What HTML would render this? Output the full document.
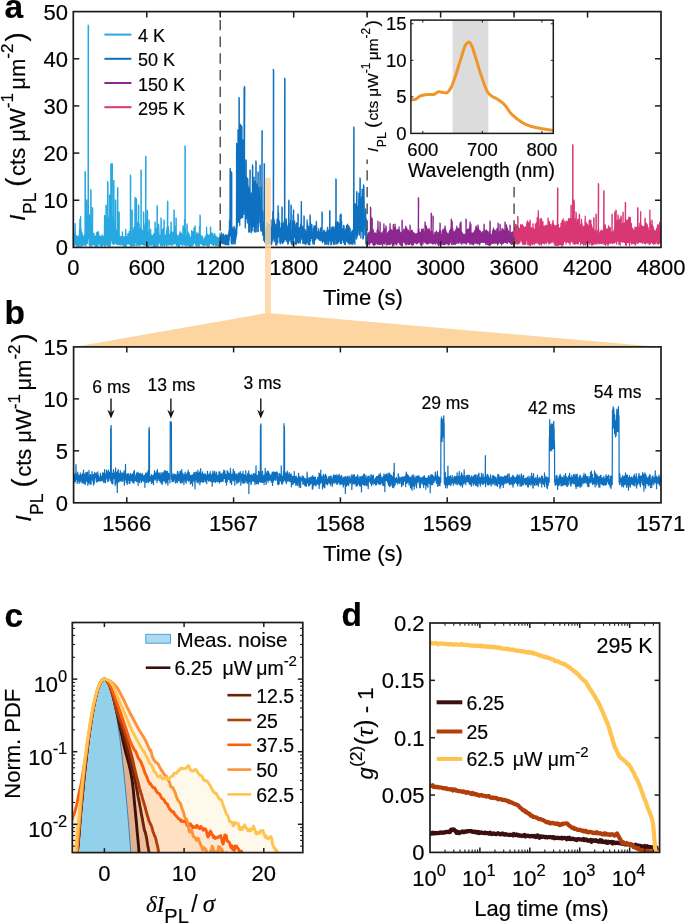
<!DOCTYPE html>
<html><head><meta charset="utf-8"><style>
html,body{margin:0;padding:0;background:#fff;width:685px;height:923px;overflow:hidden}
svg{display:block;will-change:transform}
text{stroke:#000;stroke-width:0.18px}
</style></head><body>
<svg width="685" height="923" viewBox="0 0 685 923" font-family="'Liberation Sans', sans-serif" fill="#000">
<defs>
<clipPath id="clipA"><rect x="73.3" y="11.6" width="587.7" height="235.8"/></clipPath>
<clipPath id="clipI"><rect x="410.9" y="20.1" width="142.4" height="113.3"/></clipPath>
<clipPath id="clipC"><rect x="72.3" y="622.5" width="230.5" height="230.1"/></clipPath>
<clipPath id="clipD"><rect x="430.0" y="623.0" width="229.6" height="229.4"/></clipPath>
</defs>
<rect x="0" y="0" width="685" height="923" fill="#fff"/>
<g clip-path="url(#clipA)">
<polyline points="73.8,244.86 74.02,235.95 74.24,246.12 74.46,234.03 74.68,244.43 74.9,234.68 75.12,223.63 75.34,235.85 75.56,244.63 75.78,236.28 76,244.15 76.22,237.18 76.44,245.15 76.66,235.69 76.88,245.87 77.1,236.93 77.32,246.13 77.54,236.73 77.76,243.88 77.98,236.19 78.2,243.76 78.42,237.43 78.64,246.04 78.86,236.79 79.08,247.48 79.3,238.04 79.52,229.23 79.75,234.88 79.9,219.4 80.15,220.9 79.97,244.72 80.19,232.01 80.41,244.23 80.63,216.72 80.85,246.22 81.07,229.26 81.29,243.58 81.51,232.4 81.73,246.02 81.95,232.72 82.17,242.91 82.39,234.58 82.61,244.61 82.83,236.57 83.05,245.16 83.27,237.17 83.49,245.21 83.71,237.47 83.93,243.59 84.15,235.05 84.37,244.86 84.59,236.38 84.81,245.15 85.03,235.19 85.1,171.3 85.35,172.8 85.25,244.55 85.47,233.88 85.69,244.04 85.91,231.66 86.13,245.46 86.35,227.82 86.5,200 86.75,201.5 86.57,243.52 86.79,226.56 87.01,221.31 87.23,214.26 87.45,243.4 87.67,218.33 87.89,215.57 88.11,222.9 88.2,25.1 88.45,26.6 88.33,202.68 88.55,218.89 88.77,238.81 88.99,217.42 89.21,244.85 89.3,215 89.55,216.5 89.43,221.13 89.65,245.64 89.87,223.17 90.09,240.69 90.31,224.75 90.53,245.52 90.75,226.88 90.8,189.5 91.05,191 90.97,243.88 91.19,229.7 91.42,246.05 91.64,226.08 91.86,245.72 92.08,234.36 92.3,244.7 92.4,207.7 92.65,209.2 92.52,234.95 92.74,243.72 92.96,236.89 93.18,243.2 93.4,234.4 93.62,244.64 93.84,233.06 94.06,244.14 94.28,236.6 94.5,244.89 94.72,236.24 94.94,245 95.16,237.61 95.38,244.35 95.6,235.79 95.82,247.01 96.04,235.71 96.26,247.12 96.48,232.86 96.7,245.73 96.92,234.12 97.14,245.94 97.36,231.98 97.58,246 97.8,236.45 98.02,245.86 98.24,235.55 98.46,231.85 98.68,234 98.9,243.3 99.12,237.19 99.34,243.6 99.56,236.11 99.78,244.45 100,237.69 100.22,245.46 100.44,236.25 100.66,246 100.88,237.13 101.1,244.68 101.32,236.61 101.54,245.38 101.76,236.31 101.98,246.28 102.2,234.91 102.42,243.98 102.64,236.45 102.86,245.24 103.08,236.94 103.31,243.62 103.53,236.35 103.75,244.5 103.97,236.89 104.19,244.93 104.41,236.46 104.6,215.5 104.85,217 104.63,246.12 104.85,233.46 105.07,245.55 105.29,232.65 105.51,244.39 105.73,230.54 105.95,244.85 106,205 106.25,206.5 106.17,218.69 106.39,245.21 106.61,224.49 106.83,242.73 107.05,224.43 107.27,244.82 107.49,226.71 107.7,181.7 107.95,183.2 107.71,245.34 107.93,219.46 108.15,241.81 108.37,222.28 108.59,246.11 108.81,218.05 109.03,240.36 109.25,216.94 109.47,246.09 109.5,195 109.75,196.5 109.69,214.28 109.91,245.36 110.13,213.56 110.35,245.46 110.57,212.46 110.79,240.83 110.8,164 111.05,165.5 111.01,210.68 111.23,236.64 111.45,218.1 111.67,237.74 111.89,217.32 112.1,163.5 112.35,165 112.11,243.37 112.33,219.94 112.55,240.15 112.77,216.92 112.99,244.08 113.21,222.56 113.43,241.98 113.65,222.7 113.7,180.4 113.95,181.9 113.87,244.44 114.09,224.55 114.31,241.68 114.53,221.2 114.75,243.56 114.98,224.16 115.2,243.31 115.42,210.89 115.5,200 115.75,201.5 115.64,241.9 115.86,230.43 116.08,242.09 116.3,230.05 116.52,243.87 116.74,230.89 116.96,244.25 117.18,233.49 117.4,243.3 117.6,187.7 117.85,189.2 117.62,234.83 117.84,220.33 118.06,234.35 118.28,244.97 118.5,233.59 118.72,243.94 118.94,235.06 119,212 119.25,213.5 119.16,243.71 119.38,235.93 119.6,244.51 119.82,237.93 120.04,243.49 120.26,236.62 120.48,243.71 120.7,238.03 120.92,244.98 121.14,236.39 121.36,244.59 121.58,238.19 121.8,244.52 122.02,237.3 122.24,244.62 122.46,231.98 122.68,244.83 122.9,237.29 123.12,243.92 123.34,236.68 123.56,245.79 123.78,237.04 124,246.12 124.22,239.13 124.44,244.57 124.66,238.77 124.88,244.69 125.1,236.46 125.32,246.56 125.54,237.43 125.76,229.36 125.98,237.25 126.2,245.94 126.42,236.42 126.65,244.2 126.87,236.61 127.09,243.83 127.31,238.11 127.53,243.81 127.75,236.23 127.97,233.7 128.19,236.17 128.41,243.87 128.63,235.23 128.85,243.43 129.07,236.81 129.29,231.35 129.51,237.54 129.73,244.42 129.95,235.65 130.17,244.55 130.39,236.73 130.4,175.2 130.65,176.7 130.61,245.87 130.83,236.69 131.05,246.25 131.27,237.09 131.49,245.01 131.71,236.1 131.93,245.38 132,210 132.25,211.5 132.15,235.61 132.37,245.37 132.59,234.1 132.81,243.66 133.03,231.63 133.25,245.53 133.47,230.56 133.69,229.52 133.91,227.55 134.13,245.74 134.35,228.68 134.57,241.66 134.79,230.33 135,197.3 135.25,198.8 135.01,245.47 135.23,227.83 135.45,242.33 135.67,227.44 135.89,242.25 136.11,225.72 136.3,198.6 136.55,200.1 136.33,240.83 136.55,224.35 136.77,245.83 136.99,228.34 137.21,244.88 137.43,223.44 137.65,241.36 137.87,222.13 138.09,244.7 138.32,225.82 138.5,205 138.75,206.5 138.54,245 138.76,225.76 138.98,244.79 139.2,223.69 139.42,245.3 139.64,228.34 139.86,245.33 140.08,230.21 140.3,244.66 140.52,230.71 140.74,243.77 140.96,228.39 141,170 141.25,171.5 141.18,242.69 141.4,228.06 141.62,244.35 141.84,230.32 142.06,241.96 142.28,230.53 142.5,244.64 142.72,232.65 142.94,242.24 143.16,231.84 143.38,244.82 143.5,212 143.75,213.5 143.6,235.83 143.82,243.33 144.04,223.54 144.26,245.33 144.48,233.93 144.7,245.22 144.92,227.56 145.14,242.26 145.36,226.18 145.58,242.81 145.7,156.2 145.95,157.7 145.8,221.87 146.02,245.09 146.24,221.63 146.46,242.52 146.68,226.19 146.9,246.02 147.12,230.2 147.3,210.3 147.55,211.8 147.34,244.8 147.56,231.34 147.78,245.68 148,231.89 148.22,246.03 148.44,235.93 148.66,246.18 148.88,235.77 149,220 149.25,221.5 149.1,243.93 149.32,237.81 149.54,235.2 149.76,232.75 149.99,244.97 150.21,232 150.43,244 150.65,229.18 150.87,245.14 151.09,235.19 151.31,245.17 151.53,235.08 151.75,245.2 151.97,237.14 152.19,243.27 152.41,235.85 152.63,243.83 152.85,235.37 153.07,244.66 153.29,235.51 153.51,246.27 153.73,234.09 153.95,244.67 154.17,233.42 154.39,246.39 154.61,234.08 154.83,246.43 155,222 155.25,223.5 155.05,233.36 155.27,244.4 155.49,235.14 155.71,244.08 155.93,234.08 156.15,246.08 156.37,228.29 156.59,245.81 156.81,231.67 157.03,243.72 157.1,205.6 157.35,207.1 157.25,229.56 157.47,244.53 157.69,230.78 157.91,246.01 158.13,226.51 158.35,243.93 158.57,224.26 158.79,226.96 159.01,233.89 159.23,242.16 159.45,235.59 159.67,242.67 159.89,235.27 160.11,244.12 160.33,236.27 160.55,245.65 160.77,234.92 160.99,245.62 161,218 161.25,219.5 161.21,238.95 161.43,244.87 161.66,235.87 161.88,244.53 162.1,235.61 162.32,245.48 162.54,229.84 162.76,245.15 162.98,228.57 163.2,244.21 163.42,235.8 163.64,244.89 163.86,237.71 164,220 164.25,221.5 164.08,245.9 164.3,235.5 164.52,245.83 164.74,236.31 164.96,244.03 165.18,237.78 165.4,243.92 165.62,235.05 165.84,244.14 166.06,234.12 166.28,245.11 166.5,230.8 166.72,246.02 166.94,227.42 167.16,243.11 167.38,224.88 167.6,201.2 167.85,202.7 167.6,240.34 167.82,228.78 168.04,245.02 168.26,226.31 168.48,242.32 168.7,229.77 168.92,242.67 169.14,235.44 169.36,244.97 169.58,234.96 169.8,244.87 170.02,236.85 170.24,244.41 170.46,235.64 170.68,232.47 170.9,236.23 171,222 171.25,223.5 171.12,244.06 171.34,235.53 171.56,231.71 171.78,233.56 172,245.61 172.22,231.96 172.44,245.35 172.66,233.35 172.88,243.31 173.1,235.57 173.32,243.92 173.55,232.49 173.77,242.25 173.99,229.94 174,209.8 174.25,211.3 174.21,244.07 174.43,225.04 174.65,243.87 174.87,226.74 175.09,243.57 175.31,229.81 175.53,242.69 175.75,234.63 175.97,243.4 176,218 176.25,219.5 176.19,227.9 176.41,245.45 176.63,234.18 176.85,244.77 177.07,236.97 177.29,245.72 177.51,235.55 177.73,243.29 177.95,237.03 178.17,245.62 178.39,236.75 178.61,246.08 178.83,235.88 179.05,246.63 179.27,234.5 179.49,246.26 179.71,233.13 179.93,243.7 180.15,231.68 180.37,244.25 180.59,232.79 180.81,243.05 181.03,235.57 181.25,243.39 181.47,233.36 181.69,244.49 181.91,234.44 182.13,244.45 182.35,237.14 182.57,245.57 182.79,235.78 183,226 183.25,227.5 183.01,234.81 183.23,235.92 183.45,243.83 183.67,238.14 183.89,244.13 184.11,235.9 184.33,245.02 184.55,219.18 184.77,241.81 184.99,228.96 185,145.8 185.25,147.3 185.22,244.6 185.44,228.41 185.66,245.36 185.88,234.89 186.1,245.86 186.32,238.27 186.54,244.16 186.76,235.76 186.98,245.13 187,224 187.25,225.5 187.2,236.43 187.42,244.55 187.64,234.01 187.86,245.22 188.08,232.12 188.3,243.07 188.52,233.66 188.74,244.52 188.96,233.66 189.18,245.59 189.4,235.17 189.62,246.4 189.84,237.12 190.06,246.12 190.28,237.55 190.5,246.64 190.72,238.44 190.94,245.71 191.16,236.74 191.38,244.36 191.6,230.57 191.82,244.73 192.04,232.47 192.26,245.88 192.48,235.49 192.7,242.71 192.92,231.77 193.14,245.21 193.36,233.13 193.58,243.59 193.8,233.55 194.02,227.93 194.24,236.62 194.46,243.3 194.68,232.15 194.9,242.53 195,226 195.25,227.5 195.12,234.19 195.34,243.11 195.56,234.86 195.78,245.28 196,236.59 196.22,245.33 196.44,234.35 196.66,244.17 196.89,232.35 197.11,245.9 197.33,233.7 197.55,244.17 197.77,236.12 197.99,243.86 198.21,234.48 198.43,245.37 198.65,233.66 198.87,246.19 199.09,235.63 199.31,245.24 199.53,225.91 199.75,243.25 199.97,231.05 200,215 200.25,216.5 200.19,243.54 200.41,233.78 200.63,242.76 200.85,235.91 201.07,244.09 201.29,238.34 201.51,243.87 201.73,237.4 201.95,243.41 202.17,235.82 202.39,244.8 202.61,237.19 202.83,244.12 203.05,239.53 203.27,245.72 203.49,240.17 203.71,244.43 203.93,241.02 204.15,245.23 204.37,238.47 204.59,245.03 204.81,238.85 205.03,243.9 205.25,236.68 205.47,244.7 205.69,235.92 205.91,243.76 206.13,235.64 206.35,245.46 206.57,227.05 206.79,243.28 207.01,233.68 207.23,245.03 207.45,235.26 207.67,243.77 207.89,235.27 208.11,246.45 208.33,235.69 208.56,244.65 208.78,236.63 209,242.84 209.22,234.79 209.44,245.29 209.66,235.49 209.88,243.14 210.1,234.15 210.32,243.12 210.5,227 210.75,228.5 210.54,234.51 210.76,243.32 210.98,232.54 211.2,242.53 211.42,232.83 211.64,243.57 211.86,234.27 212.08,244.7 212.3,235.17 212.52,242.5 212.74,233.22 212.96,242.52 213.18,236.35 213.4,245.47 213.62,236.58 213.84,243.83 214.06,235.45 214.28,244.24 214.5,234.7 214.72,233.57 214.94,236.04 215.16,244.6 215.38,237.9 215.6,245.79 215.82,235.83 216.04,244.32 216.26,236.99 216.48,244.27 216.7,239.12 216.92,245.22 217.14,237.88 217.36,246.07 217.58,237.34 217.8,245.85 218.02,238.5 218.24,245.11 218.46,239.55 218.68,244.66 218.9,238.03 219.12,245.87 219.34,239.55 219.56,244.67 219.78,236.85 220,233.24 220.23,237.26" fill="none" stroke="#28a8e0" stroke-width="1.3" stroke-linejoin="round" />
<polyline points="220.23,242.6 220.48,235.65 220.73,242.88 220.98,237.69 221.23,243.2 221.48,232.98 221.73,241.43 221.98,236.22 222.23,243.03 222.48,235.09 222.73,243.7 222.98,237.34 223.23,243.79 223.48,234.02 223.73,240.55 223.98,235.81 224.23,243.17 224.48,236.04 224.73,244.09 224.98,237.55 225.23,244.69 225.48,234.98 225.73,240.88 225.98,234.83 226.23,244.64 226.48,236.17 226.73,242.91 226.98,235.65 227.23,244.35 227.48,235.33 227.73,244.54 227.98,235.47 228.23,243.51 228.48,233.28 228.74,245.01 228.99,230.77 229.24,240.2 229.49,220.62 229.74,235.2 229.99,212.18 230.1,168.3 230.35,169.8 230.24,232.61 230.49,206.48 230.74,236.25 230.99,217.08 231.24,242.89 231.49,212.08 231.5,172 231.75,173.5 231.74,244.02 231.99,228.23 232.24,244 232.49,227.99 232.74,240 232.99,233.35 233.24,240.26 233.49,229.12 233.74,243.96 233.99,226.49 234.24,241.03 234.49,227.2 234.74,238.24 234.99,228.86 235.24,243.79 235.49,230.68 235.74,239.51 235.99,231.76 236.24,236.79 236.49,222.57 236.6,143.5 236.85,145 236.74,234.56 236.99,204.29 237.25,227.23 237.5,189.61 237.75,222.14 238,182.54 238,130 238.25,131.5 238.25,221.22 238.5,163.62 238.75,222.24 239,173.89 239,97.5 239.25,99 239.25,219.95 239.5,179.68 239.75,225.56 240,184.76 240.25,215.7 240.5,180.3 240.5,124.5 240.75,126 240.75,218.29 241,172.3 241.25,218.32 241.5,175.28 241.7,126 241.95,127.5 241.75,217.42 242,174.12 242.25,208.94 242.5,177.61 242.75,217.42 242.8,140 243.05,141.5 243,187.93 243.25,214.46 243.5,190.64 243.75,214.13 244,170.14 244.1,88 244.35,89.5 244.25,200.78 244.5,86.4 244.75,87.9 244.5,153.02 244.75,210.17 245,178.02 245.25,227.93 245.51,188.99 245.76,218.21 246,160 246.25,161.5 246.01,191.71 246.26,218.53 246.51,176.91 246.76,217.71 247.01,179.59 247.26,223.01 247.51,195.68 247.6,178.5 247.85,180 247.76,215.46 248.01,200.99 248.26,185.98 248.51,192.49 248.76,232.02 249.01,188.76 249.26,224.44 249.51,189.59 249.76,231.94 250,170 250.25,171.5 250.01,184.29 250.26,225.04 250.51,195.34 250.76,225.37 251.01,192.83 251.26,232.86 251.51,194.03 251.76,225.74 252.01,205.19 252.26,230.8 252.5,165 252.75,166.5 252.51,201.02 252.76,226.99 253.01,186.38 253.26,216.68 253.51,183.44 253.76,225.9 254.02,177.22 254.27,231.22 254.52,183.82 254.77,232.05 255.02,181.3 255.27,231.98 255.52,195.81 255.77,227.94 255.9,161 256.15,162.5 256.02,193.53 256.27,226.05 256.52,200 256.77,231.75 257.02,184.76 257.27,213.44 257.52,183.14 257.77,223.3 258,172 258.25,173.5 258.02,192.26 258.27,231.59 258.52,187.48 258.77,214.44 259.02,198.37 259.27,211.62 259.52,195.58 259.77,222.48 260,165 260.25,166.5 260.02,202.17 260.27,225.94 260.52,199.63 260.77,230.95 261.02,198.78 261.27,227.16 261.52,186.8 261.77,231.09 262,130.6 262.25,132.1 262.02,182.45 262.28,229.05 262.53,210.94 262.78,235.29 263.03,222.67 263.28,234.27 263.53,222.46 263.78,240.44 264.03,225.13 264.2,163.7 264.45,165.2 264.28,239.13 264.53,233.91 264.78,242.15 265.03,233.03 265.28,242.1 265.53,231.63 265.78,244.79 266.03,227.92 266.28,237.67 266.53,226.64 266.78,243.85 267.03,225.28 267.28,222.53 267.53,226.32 267.78,237.6 268.03,228.97 268.28,243.92 268.53,224.52 268.78,243.6 269.03,229.61 269.28,235.5 269.53,224.3 269.78,243.84 270.03,227.48 270.28,241.49 270.53,228.43 270.79,238.96 271.04,219.89 271.29,244.5 271.54,227.31 271.79,243.92 272.04,229.21 272.29,240.87 272.54,230.01 272.79,211.4 273.04,223.82 273.29,237.65 273.4,69.3 273.65,70.8 273.54,219.76 273.79,239.74 274.04,219.21 274.29,241.64 274.54,221.34 274.79,236.25 275.04,226.87 275.29,233.7 275.54,226.07 275.79,244.95 276.04,224.34 276.29,244.66 276.54,224.13 276.79,244.78 277.04,219.75 277.29,240.48 277.54,218.56 277.79,242.85 278,210 278.25,211.5 278.04,205.67 278.29,231.94 278.54,212.68 278.79,236.61 279.05,220.41 279.3,237 279.55,222.01 279.8,242.18 280.05,227.5 280.3,243.91 280.55,230.12 280.8,240.02 281.05,228.81 281.3,242.05 281.55,223.01 281.8,238.68 282,207 282.25,208.5 282.05,226.42 282.3,243.58 282.55,223.57 282.8,238.69 283.05,224.83 283.3,242.75 283.55,223.51 283.8,235.36 284.05,221.46 284.3,239.69 284.55,222.59 284.7,78.2 284.95,79.7 284.8,241.19 285.05,226.26 285.3,237.99 285.55,232.32 285.8,239.12 286.05,225.11 286.3,218.86 286.55,227.47 286.8,241.63 287.05,232 287.3,240.9 287.56,226.92 287.81,244.21 288.06,225.26 288.31,243.73 288.56,224.45 288.8,200.1 289.05,201.6 288.81,234.91 289.06,227.11 289.31,240.9 289.56,223.65 289.81,239.24 290.06,227.47 290.31,234.26 290.56,219.54 290.81,242.35 291,205 291.25,206.5 291.06,227.82 291.31,243.18 291.56,233.6 291.81,244.53 292.06,232.59 292.31,244.88 292.56,221.03 292.81,236.41 293.06,214.92 293.31,244.01 293.5,210 293.75,211.5 293.56,213.8 293.81,236.86 294.06,224.82 294.31,237.24 294.56,221 294.81,235.97 295.06,226.83 295.31,244.08 295.56,228.27 295.82,238.1 296.07,223.89 296.32,244.32 296.57,222.86 296.82,236.42 297.07,223.22 297.32,242.28 297.57,228.83 297.82,241.2 298,214 298.25,215.5 298.07,230.21 298.32,243.28 298.57,228.33 298.82,240.12 299.07,231.22 299.32,240.88 299.57,227.3 299.82,242.62 300.07,228.2 300.32,243.03 300.57,224.03 300.82,237.28 301.07,230.42 301.32,201.58 301.57,232.84 301.82,239.35 302.07,226.03 302.32,240.06 302.57,226.3 302.82,243.71 303.07,232.48 303.32,242.18 303.57,234.11 303.82,242.55 304,216 304.25,217.5 304.07,228.96 304.33,243.69 304.58,229.9 304.83,243.3 305.08,229.37 305.33,239.3 305.58,231.44 305.83,244.63 306.08,232.79 306.33,238.85 306.58,231.02 306.83,242.93 307.08,219.87 307.33,242.93 307.58,223.58 307.83,239.15 308.08,229.07 308.33,244.32 308.58,226.49 308.83,244 309.08,229.03 309.33,244.71 309.58,226.68 309.83,244.73 310,215 310.25,216.5 310.08,233.15 310.33,241.17 310.58,222.15 310.83,238.35 311.08,225.67 311.33,238.42 311.58,228.93 311.83,224.57 312.08,229.2 312.33,240.74 312.59,232.81 312.84,243.94 313.09,235.15 313.34,242.57 313.59,227.94 313.84,242.27 314.09,225.72 314.34,244.35 314.59,227.92 314.84,240.38 315.09,226.13 315.34,239.11 315.59,230.58 315.84,239.34 316.09,230.61 316.34,221.47 316.59,227.07 316.84,237.57 317.09,233.39 317.34,236.9 317.59,232.01 317.84,238.7 318.09,231.77 318.34,237.93 318.59,228.73 318.84,239.2 319.09,231.16 319.34,240.15 319.59,234.12 319.84,239.59 320.09,232.64 320.34,240.41 320.59,227.85 320.84,240.82 321.1,232.63 321.35,239.09 321.6,232.57 321.85,239.76 322,212 322.25,213.5 322.1,232.55 322.35,242.56 322.6,232.76 322.85,240.87 323.1,232.28 323.35,239.18 323.6,230.8 323.85,241.56 324.1,230.15 324.35,239.57 324.6,230.95 324.85,244.54 325.1,233.03 325.35,243.11 325.6,233.9 325.85,242.13 326.1,232.04 326.35,243.91 326.6,231.71 326.85,244.26 327.1,230.29 327.35,239.56 327.6,227.29 327.85,238.8 328.1,233.78 328.35,244.68 328.6,230.36 328.85,243.25 329.1,230.2 329.35,240.92 329.61,229.48 329.7,210.7 329.95,212.2 329.86,240.56 330.11,226.64 330.36,239.18 330.61,231.99 330.86,244.64 331.11,229.84 331.36,244.53 331.61,232.52 331.86,227.18 332.11,234.45 332.36,241.09 332.61,226.85 332.86,239.62 333.11,227.02 333.36,244.16 333.61,227.98 333.86,242.59 334.11,236.05 334.36,244.17 334.61,229.23 334.86,239.28 335.11,226.33 335.36,238.39 335.61,221.98 335.86,244.12 335.9,178.8 336.15,180.3 336.11,226.12 336.36,238.89 336.61,222.76 336.86,243.7 337.11,224 337.36,237.97 337.61,221.64 337.87,243.63 338.12,225.65 338.37,239.14 338.62,222.92 338.87,241.7 339.12,226.86 339.37,237.59 339.62,224.7 339.87,240.88 340.12,215.27 340.37,243.23 340.62,227.31 340.87,240.57 341,214 341.25,215.5 341.12,219.03 341.37,243.71 341.62,221.19 341.87,236.61 342.12,228.87 342.37,239.68 342.62,231.4 342.87,240.38 343.12,228.35 343.37,242.43 343.62,225.38 343.87,240.66 344.12,226.03 344.37,244.35 344.62,231.21 344.87,242.46 345.12,231.57 345.37,244.59 345.62,228.84 345.87,240.9 346.12,230.79 346.38,240.29 346.63,225.29 346.88,241.54 347.13,228.36 347.38,237.27 347.63,224.12 347.88,242.73 348.13,225.45 348.38,241.9 348.63,230.93 348.88,243.97 349.13,226.51 349.38,237.1 349.63,229.55 349.88,244.16 350.13,228.51 350.38,242.21 350.63,234.22 350.88,243.34 351.13,235.72 351.38,241.72 351.63,231.85 351.88,244.18 352.13,230.39 352.38,241.7 352.63,230.67 352.88,244.16 353.13,230.12 353.38,240.98 353.63,221.17 353.8,127 354.05,128.5 353.88,242.65 354.13,224.24 354.38,233.04 354.64,218.79 354.89,244.21 355.14,203.62 355.39,234.66 355.64,204.49 355.89,230.76 356.14,213.32 356.39,238.93 356.64,209.46 356.7,191.7 356.95,193.2 356.89,237.71 357.14,210.7 357.39,235.57 357.64,208.17 357.89,233.97 358.14,206.5 358.39,230.49 358.64,205.87 358.89,193.03 359.14,199.72 359.39,235.21 359.64,207.48 359.89,230.42 360,178 360.25,179.5 360.14,216.89 360.39,229.1 360.64,206.72 360.89,237.95 361.14,199.02 361.39,231.11 361.64,196.83 361.89,231.44 362.14,189.09 362.39,230.54 362.64,203.67 362.89,239.04 363.15,195.01 363.4,237.95 363.5,185 363.75,186.5 363.65,196.65 363.9,186.36 364.15,203.08 364.4,225.82 364.65,216.15 364.9,235.15 365.15,222.46 365.4,232.18 365.65,208.95 365.9,243.96 366.15,218.4 366.4,241.97 366.65,227.83 366.9,241.39 367.15,235.6" fill="none" stroke="#0e70c0" stroke-width="1.3" stroke-linejoin="round" />
<polyline points="367.15,242.96 367.37,235.39 367.59,241.95 367.81,234.24 368.03,243.6 368.25,232.58 368.47,242.06 368.69,233.43 368.91,244.42 369.13,233.24 369.35,245 369.57,232.52 369.79,243.66 370.01,230.81 370.23,242.75 370.45,232.42 370.5,207 370.75,208.5 370.67,223.63 370.89,215.27 371.11,242.7 371.34,232.61 371.56,242.62 371.78,227.72 372,242.3 372,218 372.25,219.5 372.22,229.5 372.44,241.4 372.66,228.92 372.88,244.44 373.1,229.35 373.32,243.75 373.54,230.99 373.76,245.52 373.98,232.79 374.2,243.08 374.42,233.48 374.64,244.97 374.86,235.12 375.08,242.67 375.3,232.99 375.52,244.27 375.74,233.74 375.96,242.62 376.18,234.49 376.4,243.18 376.62,233.36 376.84,242.21 377.06,230.03 377.28,244.34 377.5,230.91 377.72,243.91 377.94,221.12 378.16,227.91 378.38,231.77 378.6,244.33 378.82,231.72 379.04,242.72 379.27,234.9 379.49,244.01 379.71,233.38 379.93,244.54 380,222 380.25,223.5 380.15,236.27 380.37,243.2 380.59,235.91 380.81,244.22 381.03,233.62 381.25,232.74 381.47,236.37 381.69,243.57 381.91,234.58 382.13,244.28 382.35,234.28 382.57,245.8 382.79,231.65 383.01,243.85 383.23,233.42 383.45,243.35 383.67,232.06 383.89,223.87 384.11,231.23 384.33,244.01 384.55,229.06 384.77,242.49 384.99,229.16 385.21,242.06 385.43,230.17 385.65,241.85 385.87,230.02 386,226 386.25,227.5 386.09,245.07 386.31,232.48 386.53,243.93 386.75,234.9 386.97,243.97 387.2,236.3 387.42,244.48 387.64,232.92 387.86,244.47 388.08,232.39 388.3,244.64 388.52,231.71 388.74,242.65 388.96,232.86 389.18,242.64 389.4,230.47 389.62,244.38 389.84,233.14 390.06,223.53 390.28,228.93 390.5,244.04 390.72,229.72 390.94,241.47 391.16,229.58 391.38,242.49 391.6,232.77 391.82,243.28 392.04,230.58 392.26,244.55 392.48,233.48 392.7,246.01 392.92,235.32 393.14,229.86 393.36,224.32 393.58,243.73 393.8,232.83 394.02,245.2 394.24,229.06 394.46,243.82 394.68,227.47 394.9,243.05 395,224 395.25,225.5 395.13,227.02 395.35,243.49 395.57,227.38 395.79,243.65 396.01,230.92 396.23,244.39 396.45,230.38 396.67,244.96 396.89,231.98 397.11,243.72 397.33,229.76 397.55,241.59 397.77,229.45 397.99,229.49 398.21,232.85 398.43,242.56 398.65,231.53 398.87,240.96 399.09,226.8 399.31,241.53 399.53,230.3 399.75,244.2 399.97,234.98 400.19,244.43 400.41,232.25 400.63,243.98 400.85,232.85 401.07,245.27 401.29,235.76 401.51,244.01 401.73,233.85 401.95,245.91 402,220 402.25,221.5 402.17,233.56 402.39,245.63 402.61,234.59 402.83,242.24 403.06,231 403.28,242.13 403.5,230.78 403.72,242.18 403.94,229 404.16,241.23 404.38,230.57 404.6,242.24 404.82,229.37 405.04,243.83 405.26,231.86 405.48,241.31 405.7,226.3 405.92,244.51 406.14,226.88 406.36,243.37 406.58,229.74 406.8,244.82 407.02,228.71 407.24,241.17 407.46,230.42 407.68,243.48 407.9,231.21 408.12,242.7 408.34,230.05 408.56,244.41 408.78,233.77 409,242.33 409.22,233.2 409.44,244.46 409.66,231.4 409.88,244.11 410,225 410.25,226.5 410.1,230.68 410.32,243.08 410.54,233.63 410.76,242.14 410.99,233.48 411.21,243.53 411.43,230.25 411.65,244.38 411.87,232.64 412.09,245.21 412.31,230.43 412.53,245.19 412.75,231.91 412.97,244.32 413.19,232.42 413.41,244.69 413.63,233.71 413.85,243.23 414.07,232.75 414.29,241.51 414.51,235.94 414.73,242.47 414.95,234.34 415.17,241.18 415.39,233.86 415.61,243.06 415.83,233.82 416.05,241.99 416.27,234.43 416.49,243.82 416.71,233.51 416.93,243.92 417.15,233.48 417.37,243.34 417.59,233.44 417.81,243.11 418.03,230.72 418.25,242.86 418.4,197.7 418.65,199.2 418.47,227.84 418.69,241.67 418.92,228.61 419.14,240.78 419.36,232.16 419.58,241.94 419.8,233.63 420.02,243.25 420.24,232.7 420.46,244.61 420.68,232.15 420.9,243.67 421.12,231.56 421.34,245.83 421.56,229.28 421.78,245.46 422,229.21 422.22,242.3 422.44,230.7 422.66,241.86 422.88,229.45 423.1,243.9 423.32,228.79 423.54,241.58 423.76,232.47 423.98,240.62 424.2,231.89 424.42,240.76 424.64,231.97 424.86,242.66 425,222 425.25,223.5 425.08,228.25 425.3,242.65 425.52,225.06 425.74,243.06 425.96,225.62 426.18,241.18 426.4,226.45 426.62,243.76 426.85,228.31 427.07,242.48 427.29,229.97 427.51,241.48 427.73,229.85 427.95,244.18 428.17,229.5 428.39,243.16 428.61,229.53 428.83,241.87 429.05,228.49 429.27,243.04 429.49,230.18 429.71,242.71 429.93,232.26 430.15,242.45 430.37,233.1 430.59,240.62 430.81,231.02 431.03,243.23 431.2,213 431.45,214.5 431.25,229.45 431.47,241.55 431.69,231.58 431.91,243 432.13,232.48 432.35,243.53 432.57,232.13 432.79,244.06 433,216 433.25,217.5 433.01,233.52 433.23,243.77 433.45,236.27 433.67,242.51 433.89,237.48 434.11,243.14 434.33,234.66 434.55,242.47 434.78,232.63 435,243.63 435.22,232.9 435.44,244.07 435.66,232.6 435.88,242.39 436.1,231.48 436.32,242.7 436.54,231.24 436.76,242.57 436.98,234.59 437.2,244.02 437.42,232.65 437.64,243.35 437.86,236.63 438.08,243.59 438.3,236.61 438.52,245.38 438.74,232.35 438.96,245.2 439.18,231.87 439.4,243.33 439.62,229.82 439.84,241.62 440,223 440.25,224.5 440.06,229.96 440.28,244.02 440.5,230.4 440.72,243.42 440.94,231.32 441.16,244.39 441.38,234.15 441.6,242.22 441.82,234.7 442.04,243.06 442.26,234.32 442.48,244.03 442.71,229.66 442.93,242.55 443.15,230.68 443.37,244.68 443.59,230.48 443.81,243.97 444.03,229.18 444.25,244.3 444.47,228.38 444.69,243.61 444.91,229.24 445,226 445.25,227.5 445.13,244.58 445.35,229.81 445.57,242.26 445.79,229.69 446.01,243.68 446.23,233.3 446.45,243.16 446.67,232.39 446.89,242.01 447.11,233.08 447.33,243.69 447.55,233.79 447.77,243.47 447.99,236.31 448.21,245.07 448.43,235.15 448.65,244.16 448.87,233.34 449.09,244.3 449.31,232.12 449.53,244.18 449.75,230.37 449.97,243.2 450.19,232.2 450.41,242.16 450.64,228.82 450.86,240.48 451.08,229.07 451.3,219.04 451.52,228.42 451.74,244.52 451.96,230.73 452,221 452.25,222.5 452.18,244.42 452.4,231.7 452.62,241.95 452.84,228.89 453.06,243.26 453.28,231.86 453.5,244.36 453.72,232.19 453.94,244.02 454.16,231.62 454.38,243.6 454.6,232.14 454.82,242.15 455.04,233.56 455.26,244.4 455.48,230.1 455.7,243.44 455.92,230.89 456.14,243.6 456.36,229.07 456.58,240.45 456.8,226.18 457.02,240.95 457.24,227.97 457.46,243.07 457.68,229.68 457.9,241.67 458.12,228.25 458.34,241.73 458.57,231.16 458.79,243.39 459.01,228.89 459.23,241.94 459.45,231.66 459.67,241.11 459.89,230.53 460,224 460.25,225.5 460.11,227.09 460.33,222.96 460.55,243.16 460.77,229.89 460.99,221.86 461.21,230.28 461.43,242.34 461.65,233.54 461.87,244.47 462.09,232.31 462.31,242.5 462.53,235.12 462.75,242.31 462.97,234.25 463.19,242.6 463.41,235.5 463.63,243.22 463.85,234.25 464.07,241.37 464.29,234.08 464.51,242.96 464.73,235.03 464.95,242.98 465.17,235.17 465.39,243.41 465.61,234.4 465.83,242.6 466,219 466.25,220.5 466.05,231.81 466.27,244.18 466.5,230.96 466.72,243.4 466.94,230.83 467.16,241.97 467.38,229.4 467.6,242.12 467.82,229.09 468.04,242.16 468.26,228.92 468.48,241.59 468.7,231.45 468.92,242.4 469.14,229.64 469.36,242.2 469.58,226.87 469.8,244.26 470,222 470.25,223.5 470.02,229.41 470.24,240.67 470.46,230.83 470.68,241.85 470.9,224.43 471.12,243.92 471.34,234.63 471.56,243.7 471.78,235.78 472,243.48 472.22,232.99 472.44,244.17 472.66,235.14 472.88,243.94 473.1,235.23 473.32,244.8 473.54,232.93 473.76,244.23 473.98,231.8 474.2,241.2 474.43,233.33 474.65,242.46 474.87,230.41 475.09,243.35 475.31,229.28 475.53,241.66 475.75,227.14 475.97,241.7 476.19,225.82 476.41,243.17 476.63,228.2 476.85,240.9 477.07,230.05 477.29,243.91 477.51,227.64 477.73,242.38 477.95,228.67 478,225 478.25,226.5 478.17,243.34 478.39,228.2 478.61,243.24 478.83,231.37 479.05,243.64 479.27,230.78 479.49,244.97 479.71,230.11 479.93,243.73 480.15,232.28 480.37,243.06 480.59,231.27 480.81,242.4 481.03,232.83 481.25,241.93 481.47,233.33 481.69,241.37 481.91,233.24 482.13,242.15 482.36,231.89 482.58,241.99 482.8,232.04 483.02,242.39 483.24,231.4 483.46,242.34 483.68,231.14 483.9,242.46 484,224 484.25,225.5 484.12,232.01 484.34,229.35 484.56,232.46 484.78,242.46 485,231.07 485.22,241.78 485.44,230.89 485.66,244.3 485.88,231.27 486.1,241.2 486.32,229.98 486.54,242.94 486.76,232.62 486.98,244.2 487.2,231.24 487.42,242.19 487.64,231.26 487.86,244.86 488.08,234.34 488.3,242.44 488.52,232.98 488.74,242.75 488.96,234.12 489.18,245.5 489.4,230.86 489.62,243.41 489.84,233.39 490,221 490.25,222.5 490.06,245.28 490.29,234.24 490.51,242.02 490.73,234.14 490.95,244.46 491.17,234.85 491.39,242.07 491.61,234.73 491.83,243.14 492.05,234.31 492.27,242.26 492.49,230.92 492.71,243.3 492.93,232.7 493.15,242.5 493.37,228.1 493.59,242.88 493.81,229.82 494.03,243.66 494.25,230.51 494.47,242.4 494.69,229.86 494.91,241.73 495.13,231.18 495.35,241.42 495.57,230.94 495.79,243.5 496.01,233.42 496.23,242.88 496.45,232.08 496.67,242.89 496.89,228.61 497.11,243.31 497.33,231.31 497.55,244.99 497.77,230.44 497.99,242.12 498,223 498.25,224.5 498.22,231.38 498.44,243.75 498.66,232.98 498.88,241.27 499.1,232.11 499.32,242.17 499.54,231.57 499.76,240.62 499.98,233.14 500,224 500.25,225.5 500.2,243.36 500.42,233.3 500.64,242.6 500.86,232.24 501.08,243.06 501.3,231.67 501.52,245 501.74,230.18 501.96,243.21 502.18,228.38 502.4,242.97 502.62,228.77 502.84,243.52 503.06,229.03 503.28,243.31 503.5,229.77 503.72,242.88 503.94,231.65 504.16,241.3 504.38,231.8 504.6,242.04 504.82,233.55 505,222 505.25,223.5 505.04,242.12 505.26,232.43 505.48,242.38 505.7,229.69 505.92,241.4 506.15,231.38 506.37,242.83 506.59,224.95 506.81,242.39 507.03,230.03 507.25,243.5 507.47,228.05 507.69,240.54 507.91,230.17 508.13,241.12 508.35,230.84 508.57,241.5 508.79,231.43 509.01,242.15 509.23,234.12 509.45,242.25 509.67,235.18 509.89,242.87 510,225 510.25,226.5 510.11,233.42 510.33,242.51 510.55,234.32 510.77,243.34 510.99,234.3 511.21,244.33 511.43,232.61 511.65,244.01 511.87,233.77 512.09,242.18 512.31,232.01 512.53,244.14 512.75,232.96 512.97,241.49 513.19,231.5 513.41,243.88 513.63,232.48 513.85,242.53 514.07,232.72" fill="none" stroke="#8d2790" stroke-width="1.25" stroke-linejoin="round" />
<polyline points="514.07,241.87 514.3,228.14 514.52,243.66 514.74,226.89 514.96,240.91 515.18,227.33 515.4,243.79 515.62,224.3 515.84,242.46 516.06,227.37 516.28,242.82 516.5,225.24 516.72,243.36 516.94,227.38 517.16,244.08 517.38,226.12 517.6,244.17 517.8,216.4 518.05,217.9 517.82,226.67 518.04,242.88 518.26,226.48 518.48,242.51 518.7,229.79 518.92,243.64 519.14,228.71 519.36,242 519.58,228.69 519.8,242.57 520.02,229.88 520.24,241.15 520.46,227.3 520.68,224.68 520.9,227.41 521.12,240.12 521.34,227.8 521.56,240.36 521.78,225.27 522,242.53 522.22,224.37 522.44,242.52 522.66,225.93 522.88,244.57 523.1,228.17 523.32,242.42 523.54,226.18 523.76,244.06 523.98,227.3 524.2,241.48 524.42,230.46 524.64,244.42 524.86,229.16 525.08,242.51 525.3,226.83 525.52,244.24 525.74,227.1 525.97,243.81 526.19,228.41 526.41,239.95 526.63,223.94 526.85,240.11 527.07,222.03 527.29,240.48 527.51,220.89 527.73,244.31 527.95,224.68 528.17,244.66 528.39,222.37 528.61,242.33 528.83,225.84 529.05,223.24 529.27,226.05 529.49,245.12 529.71,227.49 529.93,243.8 530,220 530.25,221.5 530.15,226.42 530.37,245.5 530.59,228.61 530.81,244.74 531.03,228.74 531.25,242.6 531.47,227.57 531.69,243.59 531.91,229.74 532.13,243.04 532.35,231.27 532.57,244.55 532.79,230.46 533.01,223.66 533.23,227.96 533.45,242.19 533.67,229.1 533.89,243.45 534.11,229.36 534.33,244.4 534.55,229.55 534.77,242.21 534.99,228.51 535.21,240.27 535.43,224.09 535.65,243.17 535.87,223.8 536.09,241.44 536.31,222.83 536.53,241.46 536.75,225.93 536.97,243.24 537.19,217.67 537.41,241.03 537.64,224.57 537.86,242.56 538.08,224.69 538.3,210.58 538.52,227.16 538.74,244.2 538.96,226.89 539.18,244.55 539.4,228.46 539.62,244.67 539.84,227.88 540,219 540.25,220.5 540.06,240.99 540.28,225.66 540.5,241.43 540.72,223.99 540.94,243.65 541.16,218.3 541.38,245.21 541.6,219.29 541.82,241.44 542.04,222.39 542.26,242.9 542.48,223.48 542.7,240.9 542.92,221.58 543.14,243.46 543.36,226.54 543.58,243.02 543.8,230.07 544.02,242.96 544.24,225.77 544.46,243.95 544.68,229.27 544.9,242.21 545.12,230.22 545.34,241.95 545.56,225.98 545.78,242.06 546,227.38 546.22,243.97 546.44,225.01 546.66,242.28 546.88,225.67 547.1,240.66 547.32,229.09 547.54,240.39 547.76,225.67 547.98,242.2 548,218 548.25,219.5 548.2,225.61 548.42,241.47 548.64,227.66 548.86,244.17 549.08,223.67 549.31,243.55 549.53,221.66 549.75,242.41 549.97,227.08 550.19,243.18 550.41,224.99 550.63,224.51 550.85,227.11 551.07,241.99 551.29,226.32 551.51,240.98 551.73,226.57 551.95,242.76 552.17,223.79 552.39,240.96 552.61,222.38 552.83,241.64 553.05,220.4 553.27,240.49 553.49,224.17 553.71,241.33 553.93,225.53 554.15,243.89 554.37,225.47 554.59,242.99 554.81,228.13 555.03,245.37 555.25,225.8 555.47,226.21 555.69,230.42 555.91,244.99 556.13,227.67 556.35,245.32 556.57,225.32 556.79,244.9 557.01,226.76 557.23,244.75 557.45,224.52 557.6,187.9 557.85,189.4 557.67,245.37 557.89,224.81 558.11,245.59 558.33,224.3 558.55,244.68 558.77,227.83 558.99,244.79 559.21,228.38 559.43,243.95 559.65,228.29 559.87,242.01 560.09,227.63 560.31,244.84 560.53,227.27 560.75,243.7 560.98,223.38 561.2,243.97 561.42,223.66 561.64,244.67 561.86,221.92 562.08,246.55 562.3,220.36 562.52,241.12 562.74,222.36 562.96,244.52 563.18,218.8 563.4,244.58 563.62,221.31 563.84,241.38 564.06,225.78 564.28,241.3 564.5,224.87 564.72,241.65 564.94,223.4 565,221 565.25,222.5 565.16,241.44 565.38,226.67 565.6,241.36 565.82,225.17 566.04,244.03 566.26,225.95 566.48,241.33 566.7,221.22 566.92,239.51 567.14,221.98 567.36,242.23 567.58,221.83 567.8,240.12 568.02,222.25 568.24,239.57 568.46,218.87 568.68,242.99 568.9,218.74 569.12,241.03 569.34,221.87 569.56,241.31 569.78,218.63 570,244.75 570.22,218.49 570.44,241.4 570.66,220.89 570.88,242.38 571,205 571.25,206.5 571.1,220.69 571.32,240.27 571.54,218.74 571.76,240.77 571.98,219.8 572.2,241.03 572.42,222.41 572.64,241.76 572.7,144.5 572.95,146 572.87,222.96 573.09,243.82 573.31,224.87 573.53,242.61 573.75,220.09 573.97,243.41 574,200 574.25,201.5 574.19,226.23 574.41,243.66 574.63,223.32 574.85,244.41 575.07,222.8 575.29,241.24 575.51,218.64 575.73,243.42 575.95,222.11 576,212 576.25,213.5 576.17,243.15 576.39,226.03 576.61,240.11 576.83,224.51 577.05,243.7 577.27,222.09 577.49,241.08 577.71,219.48 577.93,244.09 578.15,219.45 578.37,243.84 578.59,221.41 578.81,240.99 579.03,222.74 579.25,239.98 579.3,214 579.55,215.5 579.47,220.76 579.69,241.51 579.91,226.58 580.13,240.62 580.35,224.77 580.57,244.86 580.79,226.23 581.01,240.84 581.23,224.59 581.45,219.45 581.67,223.48 581.89,243.41 582.11,223.99 582.33,241.3 582.55,228.72 582.77,243.49 582.99,227.02 583.21,241.9 583.43,227.68 583.65,245.24 583.87,226.15 584.09,242.35 584.31,227.62 584.54,241.1 584.76,227.87 584.98,244.6 585,220 585.25,221.5 585.2,216.15 585.42,244.96 585.64,222.45 585.86,243.92 586.08,222.74 586.3,243.26 586.52,222.8 586.74,243.37 586.96,225.03 587.18,242.22 587.4,224.57 587.62,241.12 587.84,226.34 588.06,242.14 588.28,226.99 588.5,241.86 588.72,225.58 588.94,240.36 589.16,220.69 589.38,244.16 589.6,219.9 589.82,241.94 590.04,221.99 590.26,242.46 590.48,222.62 590.7,242.66 590.92,220.35 591.14,244.58 591.36,224.45 591.58,245.03 591.8,226.03 592.02,244.89 592.24,228.49 592.46,244.71 592.68,228.48 592.9,243.37 593.12,230.2 593.34,243.18 593.56,229.3 593.78,244.59 593.8,217.6 594.05,219.1 594,228.09 594.22,242.83 594.44,230.4 594.66,243.27 594.88,232.5 595.1,241.57 595.32,232.23 595.54,242.43 595.76,229.58 595.98,244.25 596,214 596.25,215.5 596.21,232.36 596.43,242.22 596.65,233.84 596.87,243.5 597.09,233.59 597.31,243.62 597.53,230.94 597.75,241.51 597.97,230.85 598.19,242.69 598.4,183.7 598.65,185.2 598.41,234.53 598.63,228.92 598.85,234.52 599.07,243.98 599.29,233.43 599.51,241.27 599.73,232.92 599.95,243.06 600.17,232.84 600.39,242.05 600.61,231.35 600.83,243.12 601.05,230.49 601.27,243.59 601.49,230.32 601.71,242.31 601.93,230.3 602.15,243.71 602.37,231.4 602.59,242.26 602.81,231.14 603.03,242.11 603.25,231.4 603.47,242.65 603.69,226.62 603.8,190.7 604.05,192.2 603.91,244.17 604.13,230.9 604.35,243.49 604.57,228.78 604.79,244.45 605.01,227.96 605.23,224.78 605.45,228.39 605.67,245.19 605.89,229.2 606.11,243.83 606.33,229.03 606.55,242.63 606.77,230.58 606.99,242.83 607.21,230.12 607.43,243.62 607.65,228.72 607.88,245.25 608.1,231.07 608.32,244.93 608.54,225.98 608.76,242.22 608.98,226.49 609.2,241.35 609.42,228.9 609.64,243.23 609.86,229.68 610.08,240.86 610.3,227.75 610.52,243.2 610.74,233.73 610.96,242.9 611.18,232.68 611.4,242.77 611.62,232.6 611.84,241.74 612,214 612.25,215.5 612.06,231.39 612.28,243.13 612.5,231.64 612.72,243.44 612.94,231.85 613.16,243.09 613.38,232.25 613.6,241.9 613.82,230.78 614.04,242.37 614.26,229.74 614.48,242.92 614.7,229.24 614.8,211.8 615.05,213.3 614.92,242.03 615.14,224.11 615.36,239.02 615.58,222.26 615.8,240.91 616,210 616.25,211.5 616.02,220.4 616.24,243.07 616.46,225.37 616.68,244.1 616.9,222.25 617.12,240.87 617.34,220.19 617.56,240.96 617.78,222.71 618,215 618.25,216.5 618,240.63 618.22,220.21 618.44,241.53 618.66,222.25 618.88,244.35 619.1,223.1 619.32,243.69 619.55,219.72 619.77,241.54 619.99,223.9 620.21,245.16 620.43,217.94 620.65,241.16 620.87,227.83 621,216 621.25,217.5 621.09,241.17 621.31,223.29 621.53,241.63 621.75,224.04 621.97,241.32 622.19,223.85 622.41,242.18 622.63,225.38 622.85,241.72 623,212 623.25,213.5 623.07,224.96 623.29,241.23 623.51,225.04 623.73,241.91 623.95,224.19 624.17,241.26 624.39,222.94 624.61,242.49 624.83,223.34 625.05,239.04 625.27,223.63 625.3,202.4 625.55,203.9 625.49,244.87 625.71,219.55 625.93,244.65 626.15,219.89 626.37,245.21 626.59,222.12 626.81,241.16 627.03,222.5 627.25,240.88 627.47,220.36 627.69,242.56 627.91,222.62 628.13,241.21 628.35,219.03 628.57,242.53 628.79,217.49 629.01,240.71 629.23,224.01 629.45,245.51 629.67,225.11 629.89,242.34 630,217 630.25,218.5 630.11,225.97 630.33,217.66 630.55,226.87 630.77,240.05 630.99,225.16 631.22,243.18 631.44,223.63 631.66,244.06 631.88,229.08 632.1,240.08 632.32,228.41 632.54,242.35 632.76,228.41 632.98,243.62 633.2,230.92 633.42,243.09 633.64,230.16 633.86,241.61 634.08,231.37 634.3,243.05 634.52,230.37 634.74,244.22 634.96,227.11 635.18,241.82 635.4,229.07 635.62,244.94 635.84,227.76 636.06,241.06 636.28,229.17 636.5,242.69 636.72,227.16 636.94,239.75 637.16,227.03 637.38,241.71 637.6,227.76 637.7,207.6 637.95,209.1 637.82,243.46 638.04,224.35 638.26,241.43 638.48,227.14 638.7,242.76 638.92,227.78 639.14,240.74 639.36,227.66 639.58,241.79 639.8,223.22 640.02,239.13 640.24,224.86 640.46,240.76 640.68,211.61 640.9,242.74 641.12,228.77 641.34,242.61 641.56,225.5 641.78,242.41 642,227.67 642.22,241.41 642.44,227.66 642.66,243.57 642.88,226.3 643.11,241.99 643.33,226.82 643.55,240.67 643.77,228.04 643.99,240.02 644.21,226.4 644.43,243.44 644.65,228.41 644.87,241.41 645,218 645.25,219.5 645.09,231.22 645.31,243.96 645.53,227.21 645.75,241.83 645.97,223.36 646.19,241.81 646.41,223.31 646.63,242.72 646.85,224.17 647.07,243 647.29,224.76 647.51,240.77 647.73,228.43 647.95,243 648.17,227.62 648.39,240.68 648.61,230.08 648.83,243.02 649.05,230.61 649.27,244.58 649.49,230.25 649.71,241.23 649.93,210 650.15,243.87 650.37,221.35 650.59,241.51 650.81,226.43 651.03,242.61 651.25,227.16 651.47,240.63 651.69,224.47 651.91,241.18 652,220 652.25,221.5 652.13,228.39 652.35,243.36 652.57,226.48 652.79,242.08 653.01,226.23 653.23,241.41 653.45,227.82 653.67,244.56 653.89,229.99 654.11,242.75 654.33,230.65 654.55,243.43 654.78,231.53 655,242.61 655.22,230.85 655.44,243.21 655.66,230.96 655.88,243.86 656.1,230.66 656.32,241.9 656.54,228.46 656.76,241.61 656.98,228.22 657.2,241.68 657.42,226.17 657.64,243.73 657.86,224.54 658.08,243.91 658.3,225.37 658.52,244.04 658.74,226.3 658.96,241.74 659.18,225.22 659.4,239.66 659.62,222.11 659.84,243.32 660.06,225.97 660.28,241.75 660.5,230.16" fill="none" stroke="#d83674" stroke-width="1.25" stroke-linejoin="round" />
</g>
<line x1="220.23" y1="11.6" x2="220.23" y2="247.4" stroke="#4a4a4a" stroke-width="1.4" stroke-dasharray="10.4 6.3" stroke-dashoffset="-8.3"/>
<line x1="367.15" y1="11.6" x2="367.15" y2="247.4" stroke="#4a4a4a" stroke-width="1.4" stroke-dasharray="10.4 6.3" stroke-dashoffset="-8.3"/>
<line x1="514.07" y1="11.6" x2="514.07" y2="247.4" stroke="#4a4a4a" stroke-width="1.4" stroke-dasharray="10.4 6.3" stroke-dashoffset="-8.3"/>
<rect x="73.3" y="11.6" width="587.7" height="235.8" fill="none" stroke="#1c1c1c" stroke-width="1.7"/>
<text x="73.3" y="275" font-size="22" text-anchor="middle" >0</text>
<line x1="146.76" y1="247.4" x2="146.76" y2="241.4" stroke="#1c1c1c" stroke-width="1.5" />
<line x1="146.76" y1="11.6" x2="146.76" y2="17.6" stroke="#1c1c1c" stroke-width="1.5" />
<text x="146.76" y="275" font-size="22" text-anchor="middle" >600</text>
<line x1="220.23" y1="247.4" x2="220.23" y2="241.4" stroke="#1c1c1c" stroke-width="1.5" />
<line x1="220.23" y1="11.6" x2="220.23" y2="17.6" stroke="#1c1c1c" stroke-width="1.5" />
<text x="220.23" y="275" font-size="22" text-anchor="middle" >1200</text>
<line x1="293.69" y1="247.4" x2="293.69" y2="241.4" stroke="#1c1c1c" stroke-width="1.5" />
<line x1="293.69" y1="11.6" x2="293.69" y2="17.6" stroke="#1c1c1c" stroke-width="1.5" />
<text x="293.69" y="275" font-size="22" text-anchor="middle" >1800</text>
<line x1="367.15" y1="247.4" x2="367.15" y2="241.4" stroke="#1c1c1c" stroke-width="1.5" />
<line x1="367.15" y1="11.6" x2="367.15" y2="17.6" stroke="#1c1c1c" stroke-width="1.5" />
<text x="367.15" y="275" font-size="22" text-anchor="middle" >2400</text>
<line x1="440.61" y1="247.4" x2="440.61" y2="241.4" stroke="#1c1c1c" stroke-width="1.5" />
<line x1="440.61" y1="11.6" x2="440.61" y2="17.6" stroke="#1c1c1c" stroke-width="1.5" />
<text x="440.61" y="275" font-size="22" text-anchor="middle" >3000</text>
<line x1="514.07" y1="247.4" x2="514.07" y2="241.4" stroke="#1c1c1c" stroke-width="1.5" />
<line x1="514.07" y1="11.6" x2="514.07" y2="17.6" stroke="#1c1c1c" stroke-width="1.5" />
<text x="514.07" y="275" font-size="22" text-anchor="middle" >3600</text>
<line x1="587.54" y1="247.4" x2="587.54" y2="241.4" stroke="#1c1c1c" stroke-width="1.5" />
<line x1="587.54" y1="11.6" x2="587.54" y2="17.6" stroke="#1c1c1c" stroke-width="1.5" />
<text x="587.54" y="275" font-size="22" text-anchor="middle" >4200</text>
<text x="661" y="275" font-size="22" text-anchor="middle" >4800</text>
<text x="68" y="255.4" font-size="22" text-anchor="end" >0</text>
<line x1="73.3" y1="200.24" x2="79.3" y2="200.24" stroke="#1c1c1c" stroke-width="1.5" />
<line x1="661" y1="200.24" x2="655" y2="200.24" stroke="#1c1c1c" stroke-width="1.5" />
<text x="68" y="208.24" font-size="22" text-anchor="end" >10</text>
<line x1="73.3" y1="153.08" x2="79.3" y2="153.08" stroke="#1c1c1c" stroke-width="1.5" />
<line x1="661" y1="153.08" x2="655" y2="153.08" stroke="#1c1c1c" stroke-width="1.5" />
<text x="68" y="161.08" font-size="22" text-anchor="end" >20</text>
<line x1="73.3" y1="105.92" x2="79.3" y2="105.92" stroke="#1c1c1c" stroke-width="1.5" />
<line x1="661" y1="105.92" x2="655" y2="105.92" stroke="#1c1c1c" stroke-width="1.5" />
<text x="68" y="113.92" font-size="22" text-anchor="end" >30</text>
<line x1="73.3" y1="58.76" x2="79.3" y2="58.76" stroke="#1c1c1c" stroke-width="1.5" />
<line x1="661" y1="58.76" x2="655" y2="58.76" stroke="#1c1c1c" stroke-width="1.5" />
<text x="68" y="66.76" font-size="22" text-anchor="end" >40</text>
<text x="68" y="19.6" font-size="22" text-anchor="end" >50</text>
<text x="363" y="304.5" font-size="22" text-anchor="middle" >Time (s)</text>
<line x1="104.4" y1="34.6" x2="131.4" y2="34.6" stroke="#28a8e0" stroke-width="2" />
<text x="138" y="42.2" font-size="18" text-anchor="start" >4 K</text>
<line x1="104.4" y1="58.8" x2="131.4" y2="58.8" stroke="#0e70c0" stroke-width="2" />
<text x="138" y="66.4" font-size="18" text-anchor="start" >50 K</text>
<line x1="104.4" y1="83" x2="131.4" y2="83" stroke="#8d2790" stroke-width="2" />
<text x="138" y="90.6" font-size="18" text-anchor="start" >150 K</text>
<line x1="104.4" y1="107.2" x2="131.4" y2="107.2" stroke="#d83674" stroke-width="2" />
<text x="138" y="114.8" font-size="18" text-anchor="start" >295 K</text>
<rect x="265.0" y="177.8" width="5.9" height="136" fill="#fdd5a0" fill-opacity="0.85"/>
<polygon points="265,313.3 270.9,313.3 661,346.9 73.6,346.9" fill="#fdd5a0" />
<rect x="410.9" y="20.1" width="142.4" height="113.3" fill="#fff"/>
<rect x="362" y="18.5" width="50" height="141" fill="#fff"/>
<rect x="384" y="18.5" width="174" height="167" fill="#fff"/>
<rect x="452.57" y="20.1" width="35.73" height="113.3" fill="#dcdcdc"/>
<polyline points="409.7,99.77 410.26,99.77 410.82,99.76 411.38,99.73 411.94,99.7 412.5,99.67 413.07,99.62 413.63,99.58 414.19,99.52 414.75,99.46 415.31,99.31 415.87,99.06 416.43,98.73 416.99,98.34 417.55,97.92 418.11,97.48 418.68,97.04 419.24,96.63 419.8,96.26 420.36,95.95 420.92,95.72 421.48,95.58 422.04,95.43 422.6,95.3 423.16,95.17 423.72,95.05 424.29,94.94 424.85,94.84 425.41,94.75 425.97,94.68 426.53,94.63 427.09,94.6 427.65,94.58 428.21,94.58 428.77,94.58 429.33,94.58 429.9,94.58 430.46,94.58 431.02,94.58 431.58,94.58 432.14,94.58 432.7,94.58 433.26,94.58 433.82,94.47 434.38,94.24 434.94,93.91 435.51,93.51 436.07,93.09 436.63,92.68 437.19,92.31 437.75,92.02 438.31,91.85 438.87,91.81 439.43,91.84 439.99,91.91 440.55,92 441.12,92.11 441.68,92.22 442.24,92.33 442.8,92.43 443.36,92.51 443.92,92.61 444.48,92.71 445.04,92.8 445.6,92.87 446.16,92.9 446.73,92.84 447.29,92.56 447.85,92.1 448.41,91.48 448.97,90.74 449.53,89.92 450.09,89.06 450.65,88.19 451.21,87.25 451.77,86.09 452.34,84.76 452.9,83.3 453.46,81.74 454.02,80.14 454.58,78.52 455.14,76.93 455.7,75.3 456.26,73.59 456.82,71.81 457.38,69.99 457.95,68.14 458.51,66.29 459.07,64.44 459.63,62.63 460.19,60.86 460.75,59.16 461.31,57.38 461.87,55.51 462.43,53.6 463,51.71 463.56,49.9 464.12,48.22 464.68,46.73 465.24,45.47 465.8,44.52 466.36,43.85 466.92,43.23 467.48,42.7 468.04,42.29 468.61,42.06 469.17,42.08 469.73,42.52 470.29,43.27 470.85,44.21 471.41,45.21 471.97,46.29 472.53,47.65 473.09,49.24 473.65,50.99 474.22,52.85 474.78,54.74 475.34,56.62 475.9,58.41 476.46,60.17 477.02,61.98 477.58,63.83 478.14,65.7 478.7,67.57 479.26,69.42 479.83,71.24 480.39,73.01 480.95,74.72 481.51,76.33 482.07,77.95 482.63,79.59 483.19,81.23 483.75,82.87 484.31,84.46 484.87,86 485.44,87.45 486,88.81 486.56,90.05 487.12,91.15 487.68,92.08 488.24,92.85 488.8,93.51 489.36,94.1 489.92,94.63 490.48,95.11 491.05,95.55 491.61,95.96 492.17,96.33 492.73,96.68 493.29,97 493.85,97.3 494.41,97.59 494.97,97.88 495.53,98.17 496.09,98.46 496.66,98.77 497.22,99.09 497.78,99.45 498.34,99.82 498.9,100.19 499.46,100.57 500.02,100.96 500.58,101.35 501.14,101.77 501.7,102.19 502.27,102.64 502.83,103.1 503.39,103.59 503.95,104.11 504.51,104.65 505.07,105.27 505.63,105.96 506.19,106.72 506.75,107.53 507.32,108.36 507.88,109.21 508.44,110.05 509,110.88 509.56,111.67 510.12,112.41 510.68,113.08 511.24,113.69 511.8,114.27 512.36,114.83 512.93,115.37 513.49,115.9 514.05,116.41 514.61,116.9 515.17,117.38 515.73,117.84 516.29,118.29 516.85,118.73 517.41,119.16 517.97,119.59 518.54,120 519.1,120.41 519.66,120.82 520.22,121.21 520.78,121.59 521.34,121.96 521.9,122.31 522.46,122.65 523.02,122.97 523.58,123.28 524.15,123.56 524.71,123.82 525.27,124.08 525.83,124.34 526.39,124.58 526.95,124.82 527.51,125.05 528.07,125.28 528.63,125.49 529.19,125.7 529.76,125.9 530.32,126.09 530.88,126.27 531.44,126.44 532,126.61 532.56,126.76 533.12,126.91 533.68,127.05 534.24,127.18 534.8,127.3 535.37,127.42 535.93,127.54 536.49,127.65 537.05,127.76 537.61,127.87 538.17,127.97 538.73,128.07 539.29,128.17 539.85,128.27 540.41,128.37 540.98,128.46 541.54,128.56 542.1,128.66 542.66,128.76 543.22,128.86 543.78,128.96 544.34,129.06 544.9,129.16 545.46,129.25 546.02,129.35 546.59,129.44 547.15,129.53 547.71,129.62 548.27,129.71 548.83,129.8 549.39,129.89 549.95,129.97 550.51,130.05 551.07,130.14 551.63,130.21 552.2,130.29 552.76,130.36 553.32,130.43 553.88,130.5 554.44,130.56 555,130.62" fill="none" stroke="#f0952a" stroke-width="3.0" stroke-linejoin="round" stroke-linecap="round" clip-path="url(#clipI)"/>
<rect x="410.9" y="20.1" width="142.4" height="113.3" fill="none" stroke="#1c1c1c" stroke-width="1.5"/>
<line x1="422.8" y1="133.4" x2="422.8" y2="130.9" stroke="#1c1c1c" stroke-width="1" />
<line x1="422.8" y1="20.1" x2="422.8" y2="22.6" stroke="#1c1c1c" stroke-width="1" />
<text x="422.8" y="156.4" font-size="18.5" text-anchor="middle" >600</text>
<line x1="482.35" y1="133.4" x2="482.35" y2="130.9" stroke="#1c1c1c" stroke-width="1" />
<line x1="482.35" y1="20.1" x2="482.35" y2="22.6" stroke="#1c1c1c" stroke-width="1" />
<text x="482.35" y="156.4" font-size="18.5" text-anchor="middle" >700</text>
<line x1="541.9" y1="133.4" x2="541.9" y2="130.9" stroke="#1c1c1c" stroke-width="1" />
<line x1="541.9" y1="20.1" x2="541.9" y2="22.6" stroke="#1c1c1c" stroke-width="1" />
<text x="541.9" y="156.4" font-size="18.5" text-anchor="middle" >800</text>
<text x="406.5" y="140" font-size="18.5" text-anchor="end" >0</text>
<line x1="410.9" y1="96.85" x2="413.4" y2="96.85" stroke="#1c1c1c" stroke-width="1" />
<line x1="553.3" y1="96.85" x2="550.8" y2="96.85" stroke="#1c1c1c" stroke-width="1" />
<text x="406.5" y="103.45" font-size="18.5" text-anchor="end" >5</text>
<line x1="410.9" y1="60.3" x2="413.4" y2="60.3" stroke="#1c1c1c" stroke-width="1" />
<line x1="553.3" y1="60.3" x2="550.8" y2="60.3" stroke="#1c1c1c" stroke-width="1" />
<text x="406.5" y="66.9" font-size="18.5" text-anchor="end" >10</text>
<line x1="410.9" y1="23.75" x2="413.4" y2="23.75" stroke="#1c1c1c" stroke-width="1" />
<line x1="553.3" y1="23.75" x2="550.8" y2="23.75" stroke="#1c1c1c" stroke-width="1" />
<text x="406.5" y="30.35" font-size="18.5" text-anchor="end" >15</text>
<text x="481.5" y="177" font-size="19.4" text-anchor="middle" >Wavelength (nm)</text>
<polyline points="73.9,477.44 74.03,482.65 74.16,478.72 74.29,478.24 74.42,478.41 74.55,479.55 74.68,475.89 74.81,474.01 74.94,474.39 75.07,477.98 75.2,479.52 75.33,481.83 75.46,473.44 75.59,475.2 75.72,477.96 75.85,473.98 75.98,464.62 76.11,479.29 76.24,473.48 76.37,476.16 76.5,475.3 76.63,479.01 76.76,475.29 76.89,476.73 77.02,475.57 77.15,483.45 77.28,474.44 77.41,478.1 77.54,481.06 77.67,472.17 77.8,474.72 77.93,479.65 78.06,476.79 78.19,476.98 78.32,480.75 78.45,481.26 78.58,475.16 78.71,476.89 78.84,481.45 78.97,478.57 79.1,478.41 79.23,483.36 79.36,477.78 79.49,477.39 79.62,475.97 79.75,481.13 79.88,480.14 80.01,474.87 80.14,479.06 80.27,472.97 80.4,480.57 80.53,476.9 80.66,480.56 80.79,475.55 80.92,478.53 81.05,477.38 81.18,482.6 81.31,475.26 81.44,477.88 81.57,475.65 81.7,480.33 81.83,474.49 81.96,477.97 82.09,474.67 82.22,477.04 82.35,480.28 82.48,476.04 82.61,482.95 82.74,473.45 82.87,478.72 83,479.5 83.13,480.78 83.26,481.74 83.39,481.71 83.52,470.05 83.65,472.74 83.78,479.98 83.91,475.08 84.04,484.07 84.17,481.08 84.3,482.16 84.43,478.73 84.56,480.71 84.69,474.3 84.82,475.73 84.95,479.47 85.08,473.9 85.21,482.71 85.34,476.08 85.47,484.27 85.6,480.75 85.73,476.44 85.86,480.5 85.99,472.35 86.12,477.21 86.25,477.55 86.38,478.8 86.51,480.56 86.64,472.52 86.77,481.27 86.9,474.73 87.03,474.2 87.16,477.81 87.29,477.54 87.42,476.23 87.55,472.15 87.68,476.43 87.81,485.34 87.94,480.12 88.07,481.51 88.2,479.76 88.33,479.47 88.46,482.16 88.59,483.2 88.72,481.94 88.85,481.95 88.98,470.44 89.11,478.27 89.24,479.64 89.37,475.37 89.5,475.85 89.63,478.61 89.76,479.23 89.89,478.07 90.02,484.14 90.15,476.23 90.28,481.54 90.41,474.56 90.54,479.9 90.67,480.63 90.8,478.19 90.93,481.53 91.06,484.12 91.19,476.22 91.32,478.63 91.45,475.96 91.58,479.78 91.71,479.48 91.84,477.5 91.97,471.6 92.1,478.61 92.23,475.89 92.36,477.86 92.49,476.58 92.62,477.47 92.75,474.39 92.88,481.69 93.01,477.95 93.14,474.99 93.27,478.59 93.4,477.63 93.53,485.15 93.66,479.62 93.79,479.95 93.92,475.71 94.05,474.24 94.18,483.53 94.31,481.07 94.44,478.49 94.57,475.68 94.7,472.44 94.83,475.75 94.96,475 95.09,474.73 95.22,476.47 95.35,477.49 95.48,473.95 95.61,477.2 95.74,476.51 95.87,477.74 96,478.7 96.13,479.62 96.26,481.12 96.39,472.92 96.52,477.47 96.65,475.76 96.78,482.22 96.91,480.88 97.04,478.3 97.17,476.61 97.3,479.72 97.43,477.8 97.56,475.23 97.69,476.59 97.82,471.77 97.95,478.18 98.08,480.21 98.21,481.52 98.34,475.07 98.47,475.02 98.6,477.94 98.73,477.45 98.86,478.18 98.99,480.61 99.12,477.45 99.25,477.59 99.38,478.22 99.51,478.95 99.64,478.35 99.77,478.29 99.9,479.89 100.03,480.98 100.16,478.61 100.29,477.11 100.42,473.35 100.55,480.67 100.68,479.7 100.81,477.37 100.94,480.85 101.07,477.08 101.2,480.55 101.33,476.54 101.46,480.12 101.59,479.92 101.72,479.61 101.85,477.25 101.98,476.24 102.11,475.51 102.24,475.2 102.37,480.77 102.5,478.43 102.63,472.88 102.76,479.96 102.89,473.79 103.02,473.64 103.15,480.16 103.28,475.93 103.41,476.4 103.54,481.91 103.67,481.88 103.8,478.76 103.93,472.91 104.06,482.7 104.19,478 104.32,478.31 104.45,476.7 104.58,469.68 104.71,480.98 104.84,476.86 104.97,473.03 105.1,479.91 105.23,479.88 105.36,479.94 105.49,482.58 105.62,475.47 105.75,477.1 105.88,479.37 106.01,478.32 106.14,476.53 106.27,476.58 106.4,473.88 106.53,470.04 106.66,478.29 106.79,478.23 106.92,477.48 107.05,475.2 107.18,476.02 107.31,475.58 107.44,473.11 107.57,477.36 107.7,481.72 107.83,477.72 107.96,471.2 108.09,478.81 108.22,476.55 108.35,481.04 108.48,479.22 108.61,470.19 108.74,476.95 108.87,478.26 109,475.35 109.13,476.05 109.26,475.24 109.39,478.07 109.52,472.24 109.65,477.46 109.78,477.72 109.91,478.52 110.04,478.4 110.17,479.29 110.3,480.41 110.43,476.6 110.56,479.91 110.69,428.35 110.82,429.14 110.95,433.47 111.08,425.58 111.21,425.91 111.34,482.56 111.47,477.91 111.6,478.25 111.73,481.08 111.86,472.77 111.99,476.68 112.12,480 112.25,483.91 112.38,478.2 112.51,479.74 112.64,473.88 112.77,483.53 112.9,483.63 113.03,476.99 113.16,477.11 113.29,475.99 113.42,469.5 113.55,475.17 113.68,473.77 113.81,471.18 113.94,476.74 114.07,478.61 114.2,475.75 114.33,478.11 114.46,475.6 114.59,473.73 114.72,475.09 114.85,474.52 114.98,475.51 115.11,485.55 115.24,472.6 115.37,479.33 115.5,478.43 115.63,467.89 115.76,483.7 115.89,476.63 116.02,476 116.15,477.63 116.28,481.87 116.41,472.68 116.54,476.06 116.67,482.22 116.8,481.05 116.93,472.76 117.06,483.32 117.19,485.81 117.32,492.44 117.45,471.31 117.58,476.95 117.71,475.18 117.84,471.21 117.97,477.24 118.1,474.64 118.23,469.45 118.36,474.47 118.49,481.98 118.62,477.29 118.75,480.6 118.88,473.65 119.01,481.93 119.14,476.56 119.27,480.66 119.4,473.68 119.53,474.4 119.66,479.5 119.79,480.39 119.92,475.95 120.05,477.5 120.18,478.64 120.31,470.52 120.44,476.18 120.57,475.89 120.7,481.04 120.83,476.95 120.96,475.15 121.09,479.99 121.22,476.54 121.35,477.76 121.48,477.09 121.61,479.14 121.74,474.78 121.87,472.54 122,475.65 122.13,481.44 122.26,474.37 122.39,473.27 122.52,476.64 122.65,476.8 122.78,476.95 122.91,480.9 123.04,476.85 123.17,475.07 123.3,477.06 123.43,473.06 123.56,476.29 123.69,475.09 123.82,476.7 123.95,475.14 124.08,470.83 124.21,475.38 124.34,485.3 124.47,477.07 124.6,474.24 124.73,475.36 124.86,480 124.99,478.63 125.12,477.59 125.25,478.53 125.38,474.66 125.51,464.25 125.64,478.49 125.77,474.65 125.9,475.97 126.03,476.85 126.16,481.3 126.29,482.35 126.42,478.66 126.55,478 126.68,476.84 126.81,474.34 126.94,477.84 127.07,480.39 127.2,484.43 127.33,482.51 127.46,476.28 127.59,478 127.72,479.96 127.85,475.35 127.98,473.66 128.11,473.63 128.24,480.06 128.37,480.14 128.5,476.45 128.63,475.6 128.76,474.08 128.89,477.07 129.02,478.82 129.15,483.6 129.28,480.44 129.41,478.62 129.54,476.33 129.67,479.08 129.8,475.73 129.93,483.27 130.06,480.57 130.19,476.29 130.32,478.66 130.45,473.59 130.58,476.69 130.71,480.5 130.84,479.85 130.97,478.79 131.1,480.06 131.23,480.51 131.36,478.89 131.49,478.44 131.62,474.87 131.75,480.46 131.88,474.4 132.01,478.82 132.14,481.57 132.27,473.96 132.4,480.79 132.53,478.68 132.66,479.75 132.79,480.73 132.92,481.07 133.05,482.64 133.18,476.75 133.31,474.51 133.44,480.43 133.57,476.01 133.7,471.73 133.83,477 133.96,483.24 134.09,478.48 134.22,479.46 134.35,470.37 134.48,479.56 134.61,474.81 134.74,473.53 134.87,480.65 135,477.17 135.13,475.15 135.26,477.62 135.39,477.96 135.52,476.46 135.65,476.52 135.78,477.78 135.91,478.22 136.04,480.44 136.17,476.35 136.3,477.2 136.43,481.66 136.56,475.4 136.69,472.94 136.82,478.3 136.95,477.21 137.08,476.34 137.21,480.2 137.34,481.1 137.47,476.41 137.6,477.85 137.73,478.43 137.86,477.14 137.99,472.2 138.12,485.59 138.25,479.19 138.38,473.18 138.51,477.11 138.64,481.26 138.77,476.93 138.9,478.94 139.03,473.55 139.16,475.04 139.29,479.27 139.42,478.23 139.55,482.69 139.68,480.25 139.81,478.25 139.94,474.53 140.07,478.77 140.2,474.06 140.33,473.36 140.46,473.27 140.59,473.81 140.72,479.78 140.85,474.52 140.98,479.59 141.11,475.73 141.24,480.8 141.37,482.52 141.5,477.65 141.63,480.47 141.76,474.48 141.89,475.92 142.02,477.53 142.15,476.57 142.28,474.65 142.41,473.55 142.54,478.8 142.67,474.71 142.8,480.75 142.93,476.05 143.06,480.79 143.19,478.83 143.32,478.23 143.45,475.92 143.58,481.17 143.71,477.95 143.84,477.92 143.97,479.61 144.1,475.8 144.23,476.8 144.36,478.65 144.49,477.43 144.62,475.31 144.75,477.03 144.88,487.33 145.01,479.34 145.14,479.66 145.27,480.45 145.4,478.93 145.53,473.98 145.66,478.64 145.79,474.67 145.92,472.8 146.05,482.26 146.18,478.07 146.31,479.5 146.44,477.56 146.57,479.85 146.7,475.11 146.83,482.5 146.96,473.49 147.09,476.13 147.22,480.43 147.35,478.59 147.48,472.37 147.61,479.35 147.74,475.64 147.87,473.01 148,473.43 148.13,470.58 148.26,479.27 148.39,482.53 148.52,477.14 148.65,480.57 148.78,476.51 148.91,429.62 149.04,434.41 149.17,427.41 149.3,429.87 149.43,433.06 149.56,481.33 149.69,476.25 149.82,477.49 149.95,479.98 150.08,477.16 150.21,480.79 150.34,478.43 150.47,478.68 150.6,477.67 150.73,477.76 150.86,480.63 150.99,476.37 151.12,476.37 151.25,475.3 151.38,482.84 151.51,483.48 151.64,474.71 151.77,483.04 151.9,477.39 152.03,475.97 152.16,479.97 152.29,478.94 152.42,481.44 152.55,480.15 152.68,482.12 152.81,482.49 152.94,482.09 153.07,481.92 153.2,475.23 153.33,478.75 153.46,484.77 153.59,476.28 153.72,475.22 153.85,479.71 153.98,477.9 154.11,478.41 154.24,473.7 154.37,476.75 154.5,470.62 154.63,478.36 154.76,476.65 154.89,472.03 155.02,474.11 155.15,480.23 155.28,476.94 155.41,473.71 155.54,478.6 155.67,473.45 155.8,478.72 155.93,477.13 156.06,477.57 156.19,478.08 156.32,477.25 156.45,477.99 156.58,477.19 156.71,471.5 156.84,474.38 156.97,482.43 157.1,475.78 157.23,473.65 157.36,469.49 157.49,474.15 157.62,477.7 157.75,479.99 157.88,472.51 158.01,480.4 158.14,476.18 158.27,478.51 158.4,477.19 158.53,473.39 158.66,479.01 158.79,475.43 158.92,475.76 159.05,474.58 159.18,476.82 159.31,478.22 159.44,477.17 159.57,474.71 159.7,480.89 159.83,474.7 159.96,472.67 160.09,475.56 160.22,481.46 160.35,478.88 160.48,475.82 160.61,479.98 160.74,479.89 160.87,478.83 161,482.96 161.13,478.41 161.26,474.64 161.39,478.02 161.52,475.55 161.65,479.12 161.78,472.57 161.91,480.86 162.04,484.37 162.17,475.91 162.3,480.59 162.43,473.35 162.56,481.27 162.69,482.93 162.82,480.39 162.95,476.82 163.08,479.58 163.21,476.25 163.34,480.56 163.47,475.8 163.6,475.55 163.73,471.74 163.86,474.46 163.99,478.64 164.12,476.59 164.25,480.58 164.38,473.75 164.51,473.91 164.64,478.94 164.77,475.31 164.9,470.3 165.03,474.51 165.16,481.94 165.29,472.66 165.42,479.56 165.55,479.54 165.68,471 165.81,483.61 165.94,473.68 166.07,479.4 166.2,473.26 166.33,478.29 166.46,478.11 166.59,479.73 166.72,474.61 166.85,482.12 166.98,471.31 167.11,473.52 167.24,474.06 167.37,473.9 167.5,471.54 167.63,476.07 167.76,474.8 167.89,485.35 168.02,478.77 168.15,475.94 168.28,475.19 168.41,473.43 168.54,474.67 168.67,475.11 168.8,475.41 168.93,474.64 169.06,477.61 169.19,479.32 169.32,479.51 169.45,475.51 169.58,474.69 169.71,478.13 169.84,473.19 169.97,483.01 170.1,474.15 170.23,421.5 170.36,425.92 170.49,427.07 170.62,422.98 170.75,423.61 170.88,422.45 171.01,423.02 171.14,421.83 171.27,422.79 171.4,424.27 171.53,478.9 171.66,478.02 171.79,478.93 171.92,475.3 172.05,481.75 172.18,473.74 172.31,478.22 172.44,480.49 172.57,475.86 172.7,477.21 172.83,478.8 172.96,481.52 173.09,476.94 173.22,475.25 173.35,476.52 173.48,477.32 173.61,476.49 173.74,481.21 173.87,473.81 174,478.97 174.13,476.22 174.26,477.75 174.39,475.4 174.52,478.07 174.65,477.56 174.78,478.44 174.91,479.27 175.04,474.32 175.17,476.58 175.3,482.78 175.43,477.36 175.56,476.91 175.69,479.11 175.82,482.83 175.95,474.62 176.08,476.46 176.21,475.8 176.34,476.55 176.47,478.89 176.6,477.53 176.73,481.07 176.86,480.77 176.99,479.63 177.12,475.66 177.25,482.86 177.38,471.67 177.51,475.97 177.64,476.56 177.77,477.86 177.9,471.77 178.03,478.98 178.16,480.79 178.29,479.22 178.42,479.97 178.55,477.91 178.68,474.05 178.81,480.63 178.94,477.64 179.07,479.29 179.2,477.51 179.33,474.02 179.46,479.41 179.59,480.12 179.72,475.47 179.85,477.69 179.98,471.09 180.11,477.96 180.24,482.72 180.37,478.79 180.5,471.43 180.63,482.11 180.76,478.35 180.89,476.58 181.02,480.28 181.15,483.1 181.28,477.67 181.41,476.72 181.54,478.58 181.67,474.91 181.8,469.52 181.93,479.81 182.06,476.75 182.19,478.27 182.32,477.25 182.45,482.3 182.58,477.89 182.71,474.78 182.84,476.68 182.97,473.4 183.1,480.04 183.23,476.85 183.36,477.44 183.49,475.16 183.62,479.56 183.75,476.94 183.88,484.54 184.01,482.09 184.14,477.4 184.27,478.68 184.4,479.99 184.53,479.23 184.66,473.99 184.79,479.64 184.92,478.56 185.05,477.98 185.18,472.07 185.31,480.08 185.44,480.87 185.57,481.79 185.7,480.31 185.83,481.5 185.96,480.67 186.09,477.74 186.22,483.26 186.35,474.76 186.48,478.88 186.61,475.69 186.74,477.07 186.87,475.9 187,473.72 187.13,474.87 187.26,472.9 187.39,480.22 187.52,477.18 187.65,473.25 187.78,476.37 187.91,474.43 188.04,477.03 188.17,470.2 188.3,479.47 188.43,480.07 188.56,477.4 188.69,481.31 188.82,476.68 188.95,476.83 189.08,474.26 189.21,472.49 189.34,474.57 189.47,476.66 189.6,477.02 189.73,480.17 189.86,480.1 189.99,479.22 190.12,475.27 190.25,476.02 190.38,483.91 190.51,476.84 190.64,475.5 190.77,481.03 190.9,478.29 191.03,480.2 191.16,478.81 191.29,476.91 191.42,483.03 191.55,475.71 191.68,480.18 191.81,478.72 191.94,475.92 192.07,474.86 192.2,475.88 192.33,478.05 192.46,478.63 192.59,486.02 192.72,476.46 192.85,475.19 192.98,480.66 193.11,477.14 193.24,474.78 193.37,479.33 193.5,480.56 193.63,473.57 193.76,476.05 193.89,476.02 194.02,472.51 194.15,480.22 194.28,479.98 194.41,481.85 194.54,476.1 194.67,475.37 194.8,480.22 194.93,478.64 195.06,488.78 195.19,472.15 195.32,476.78 195.45,479.55 195.58,475.66 195.71,477.49 195.84,478.22 195.97,479.78 196.1,476.8 196.23,476.24 196.36,476.3 196.49,477.3 196.62,472.13 196.75,474.86 196.88,473.6 197.01,482.3 197.14,476.07 197.27,482.02 197.4,477.53 197.53,473.47 197.66,478.82 197.79,477.61 197.92,470.13 198.05,480.17 198.18,482.93 198.31,478.21 198.44,473.08 198.57,477.68 198.7,481.1 198.83,475.8 198.96,480.89 199.09,475.38 199.22,478.23 199.35,473.9 199.48,479.94 199.61,471.9 199.74,476.03 199.87,484.67 200,476.92 200.13,476.09 200.26,476.02 200.39,482.46 200.52,478.71 200.65,468.66 200.78,477.78 200.91,474.02 201.04,478.61 201.17,479.09 201.3,480.37 201.43,481.07 201.56,481.52 201.69,480.59 201.82,479.53 201.95,481.09 202.08,473.64 202.21,479.73 202.34,476.53 202.47,471.94 202.6,474.3 202.73,481.97 202.86,480.04 202.99,477.99 203.12,474.59 203.25,482.19 203.38,482.44 203.51,481.01 203.64,474.18 203.77,478.95 203.9,477.06 204.03,475.41 204.16,478.44 204.29,479.18 204.42,477.26 204.55,474.04 204.68,477.25 204.81,478.35 204.94,481.21 205.07,473.67 205.2,474.43 205.33,480.77 205.46,481.68 205.59,479.13 205.72,479.79 205.85,476.44 205.98,476.68 206.11,477.52 206.24,475.03 206.37,479.59 206.5,477.27 206.63,479.19 206.76,483.69 206.89,475.05 207.02,479.52 207.15,477.88 207.28,478.87 207.41,471.24 207.54,473.74 207.67,479.53 207.8,474.63 207.93,474.75 208.06,475.64 208.19,478.61 208.32,476.85 208.45,479.87 208.58,481.12 208.71,475.49 208.84,478.73 208.97,479.37 209.1,478.86 209.23,473.79 209.36,478.67 209.49,480.02 209.62,479.93 209.75,480.35 209.88,480.36 210.01,475.19 210.14,477.58 210.27,471.66 210.4,481.35 210.53,476.74 210.66,474.83 210.79,478.78 210.92,479.05 211.05,480.58 211.18,478.92 211.31,477.07 211.44,479.87 211.57,474.92 211.7,481.77 211.83,477.7 211.96,477.99 212.09,477.75 212.22,486.15 212.35,481.28 212.48,473.01 212.61,477.19 212.74,481.07 212.87,478.84 213,470.76 213.13,480.13 213.26,481.72 213.39,478.89 213.52,477.72 213.65,473.05 213.78,481.86 213.91,478.68 214.04,476.87 214.17,479.9 214.3,479.32 214.43,480.5 214.56,478.56 214.69,478.33 214.82,471.23 214.95,472.92 215.08,475.89 215.21,482.56 215.34,477.68 215.47,474.76 215.6,481.86 215.73,479.82 215.86,476.08 215.99,474.29 216.12,478.74 216.25,476.83 216.38,476.16 216.51,472.18 216.64,475.66 216.77,476.97 216.9,481.28 217.03,476.16 217.16,480.73 217.29,479.4 217.42,477.72 217.55,479.79 217.68,475.04 217.81,479.21 217.94,482.05 218.07,476.87 218.2,481.19 218.33,477.41 218.46,477.94 218.59,479.75 218.72,478.51 218.85,479.79 218.98,471.94 219.11,476.3 219.24,472.2 219.37,475.91 219.5,482.88 219.63,474.28 219.76,473.82 219.89,471.82 220.02,475.38 220.15,481.66 220.28,478.19 220.41,475.67 220.54,479.18 220.67,481.04 220.8,476.65 220.93,481.71 221.06,473.57 221.19,478.11 221.32,477.9 221.45,474.35 221.58,477.99 221.71,475.29 221.84,481.39 221.97,476.53 222.1,475.09 222.23,477.8 222.36,479.07 222.49,474.81 222.62,475.72 222.75,478.31 222.88,474.09 223.01,472.66 223.14,481.36 223.27,474.64 223.4,476.87 223.53,477.74 223.66,475.46 223.79,470.07 223.92,473.83 224.05,474.9 224.18,478.58 224.31,474.23 224.44,473.23 224.57,472.45 224.7,477.43 224.83,470.78 224.96,475.64 225.09,474.21 225.22,473.62 225.35,478.98 225.48,482.23 225.61,479.07 225.74,476.5 225.87,480.1 226,475.1 226.13,478.13 226.26,474.54 226.39,478.66 226.52,485.03 226.65,478.31 226.78,478.93 226.91,477.8 227.04,480.02 227.17,470.61 227.3,481.56 227.43,474.2 227.56,473.17 227.69,479.79 227.82,477.97 227.95,479.59 228.08,471.77 228.21,476.76 228.34,478.23 228.47,474.66 228.6,476.46 228.73,479.21 228.86,473.37 228.99,479.09 229.12,474.44 229.25,476.28 229.38,477.25 229.51,474.02 229.64,477.8 229.77,478.51 229.9,480.28 230.03,475.74 230.16,482.64 230.29,474.27 230.42,468.47 230.55,476.35 230.68,471.63 230.81,480.75 230.94,479.36 231.07,479.68 231.2,482.8 231.33,474.99 231.46,476.86 231.59,484.39 231.72,480.92 231.85,475.86 231.98,474.69 232.11,478.7 232.24,474.13 232.37,474.62 232.5,476.15 232.63,478 232.76,477.35 232.89,477.38 233.02,480.55 233.15,472.05 233.28,469.02 233.41,474.31 233.54,474.68 233.67,476.47 233.8,480.85 233.93,480.4 234.06,477.92 234.19,477.92 234.32,477.37 234.45,477.47 234.58,471.48 234.71,475.34 234.84,485.22 234.97,475.52 235.1,475.92 235.23,479.31 235.36,476.03 235.49,477.47 235.62,475.51 235.75,478.26 235.88,474.08 236.01,474.15 236.14,479.83 236.27,476.65 236.4,480.52 236.53,474.83 236.66,474.25 236.79,483.59 236.92,479.8 237.05,478.22 237.18,479.55 237.31,475.69 237.44,480.92 237.57,476.97 237.7,477.49 237.83,477.74 237.96,478.62 238.09,482.76 238.22,473.16 238.35,480.49 238.48,478.43 238.61,476.76 238.74,480.28 238.87,475.58 239,477.72 239.13,473.13 239.26,481.74 239.39,479.49 239.52,475.77 239.65,473.85 239.78,476.22 239.91,477.62 240.04,476.89 240.17,474.11 240.3,471.67 240.43,476.05 240.56,478.13 240.69,478.6 240.82,485.24 240.95,480.46 241.08,482.04 241.21,473.87 241.34,477.54 241.47,474.03 241.6,479.79 241.73,476.89 241.86,476.31 241.99,478.39 242.12,477.98 242.25,480.07 242.38,477.62 242.51,482.78 242.64,473.57 242.77,480.2 242.9,482.07 243.03,471.11 243.16,482.68 243.29,475.28 243.42,476.38 243.55,474.53 243.68,481.25 243.81,479.35 243.94,475.06 244.07,483.46 244.2,479.11 244.33,474.7 244.46,475.59 244.59,477.25 244.72,475.61 244.85,479.4 244.98,476.25 245.11,481.19 245.24,482.13 245.37,476.88 245.5,479.65 245.63,479.7 245.76,470.69 245.89,477.55 246.02,479.69 246.15,479.5 246.28,475.41 246.41,477.8 246.54,480.07 246.67,481.41 246.8,481 246.93,480.22 247.06,480.06 247.19,483.48 247.32,481.64 247.45,478.99 247.58,476.5 247.71,473.32 247.84,480.55 247.97,476.87 248.1,480.23 248.23,477.54 248.36,482.19 248.49,478.32 248.62,476.52 248.75,470.89 248.88,493.59 249.01,477 249.14,477.7 249.27,474.12 249.4,477.42 249.53,474.83 249.66,480.19 249.79,480.21 249.92,481.4 250.05,477.03 250.18,475.65 250.31,480.35 250.44,479.48 250.57,478.73 250.7,475.7 250.83,481.05 250.96,484.57 251.09,476.32 251.22,481.83 251.35,483.53 251.48,474.57 251.61,478.83 251.74,478.74 251.87,478.32 252,480.66 252.13,475.5 252.26,477.24 252.39,479.65 252.52,477.29 252.65,477.08 252.78,479.04 252.91,479.39 253.04,477.73 253.17,481.14 253.3,473.52 253.43,479.65 253.56,479.29 253.69,479.74 253.82,478.11 253.95,477.7 254.08,473.62 254.21,478.93 254.34,481.66 254.47,480.47 254.6,475.2 254.73,477.79 254.86,474.68 254.99,484.65 255.12,475.61 255.25,476.04 255.38,479.84 255.51,482.39 255.64,473.16 255.77,475.61 255.9,474.07 256.03,465.77 256.16,481.64 256.29,476.21 256.42,478.42 256.55,483.8 256.68,481.76 256.81,479.88 256.94,481.65 257.07,482.23 257.2,475.38 257.33,475.72 257.46,476.7 257.59,481.45 257.72,476.85 257.85,480.05 257.98,483.73 258.11,480.22 258.24,476.58 258.37,484.07 258.5,471.45 258.63,480.81 258.76,471.37 258.89,481.49 259.02,477.41 259.15,476.11 259.28,475.74 259.41,478.16 259.54,480.43 259.67,472.38 259.8,476.67 259.93,481.79 260.06,472.74 260.19,482.15 260.32,476.34 260.45,425.65 260.58,428.11 260.71,427.65 260.84,425.63 260.97,423.77 261.1,473.58 261.23,478.5 261.36,482.09 261.49,477.99 261.62,475.12 261.75,475.34 261.88,477.98 262.01,481.78 262.14,477.62 262.27,482.3 262.4,473.35 262.53,471.1 262.66,474.78 262.79,476.73 262.92,482.35 263.05,478.39 263.18,476.24 263.31,478.69 263.44,476.07 263.57,478.05 263.7,478.97 263.83,481.69 263.96,477.05 264.09,484.57 264.22,475.02 264.35,475.94 264.48,479.18 264.61,480.1 264.74,481.57 264.87,477.06 265,479.43 265.13,473.02 265.26,468.32 265.39,481.14 265.52,476.16 265.65,478.15 265.78,475.56 265.91,480.95 266.04,473.77 266.17,484.49 266.3,483.74 266.43,473.21 266.56,479.48 266.69,475.53 266.82,477.26 266.95,477.62 267.08,476.97 267.21,471.61 267.34,476.23 267.47,479.16 267.6,480.4 267.73,471.19 267.86,478.72 267.99,478.29 268.12,482.26 268.25,474.81 268.38,475.71 268.51,471.61 268.64,475.33 268.77,478.78 268.9,479.66 269.03,476.57 269.16,477.33 269.29,476.42 269.42,473.88 269.55,473.77 269.68,480.15 269.81,477.1 269.94,480.33 270.07,474.97 270.2,475.84 270.33,475.69 270.46,476.52 270.59,478.3 270.72,476.18 270.85,478.41 270.98,475.78 271.11,476.17 271.24,481.76 271.37,479.07 271.5,475.42 271.63,482.22 271.76,473.71 271.89,481.11 272.02,477.03 272.15,479.07 272.28,472.02 272.41,475.35 272.54,485.5 272.67,472.66 272.8,476.92 272.93,473.71 273.06,473.65 273.19,481.92 273.32,474.75 273.45,474.03 273.58,480.65 273.71,473.78 273.84,471.73 273.97,478.19 274.1,474.95 274.23,475.43 274.36,476.25 274.49,475.48 274.62,478.41 274.75,472.51 274.88,479.72 275.01,478.63 275.14,474.63 275.27,473.56 275.4,480.21 275.53,472.29 275.66,476.22 275.79,479.06 275.92,476.52 276.05,480.2 276.18,475.27 276.31,476.48 276.44,473.23 276.57,471.87 276.7,477.95 276.83,477.06 276.96,477.2 277.09,477.75 277.22,476.76 277.35,472.56 277.48,476.18 277.61,484.06 277.74,478.98 277.87,479.14 278,480.99 278.13,478.38 278.26,481.06 278.39,477.42 278.52,484.76 278.65,481.24 278.78,482.48 278.91,474.28 279.04,474.17 279.17,483.71 279.3,473.27 279.43,474.92 279.56,475.71 279.69,475.59 279.82,474.54 279.95,477.92 280.08,475.68 280.21,475.73 280.34,480.81 280.47,476.98 280.6,475.83 280.73,479.18 280.86,473.9 280.99,479.09 281.12,481.35 281.25,465.74 281.38,478.2 281.51,483.19 281.64,482.54 281.77,476.61 281.9,478.96 282.03,484.3 282.16,479.37 282.29,479.13 282.42,481.06 282.55,477.72 282.68,476.03 282.81,483.06 282.94,477.31 283.07,476 283.2,479.11 283.33,476.76 283.46,471.63 283.59,474.79 283.72,481.27 283.85,475.78 283.98,423.65 284.11,431.2 284.24,427.46 284.37,426.46 284.5,432.99 284.63,476.22 284.76,479.96 284.89,473.45 285.02,478.29 285.15,478.03 285.28,478.07 285.41,481.07 285.54,475.6 285.67,480.81 285.8,479.48 285.93,472.84 286.06,478.3 286.19,483.57 286.32,476.94 286.45,482.93 286.58,481.87 286.71,478.07 286.84,478.54 286.97,477.82 287.1,478.69 287.23,471.01 287.36,472.21 287.49,474.75 287.62,480.97 287.75,475.27 287.88,475.03 288.01,476.27 288.14,480.76 288.27,478 288.4,478.73 288.53,477.43 288.66,477.52 288.79,474.79 288.92,473.86 289.05,481.07 289.18,472.39 289.31,476.92 289.44,475.98 289.57,478.85 289.7,480.67 289.83,477.56 289.96,481.61 290.09,479.82 290.22,474.65 290.35,477.22 290.48,480.91 290.61,478.39 290.74,475.61 290.87,479.55 291,480.34 291.13,473.83 291.26,479.49 291.39,486.85 291.52,477.52 291.65,477.91 291.78,483.2 291.91,476.18 292.04,484.41 292.17,480.84 292.3,481.13 292.43,482.29 292.56,480.16 292.69,478.44 292.82,478.95 292.95,476.4 293.08,484.14 293.21,481.6 293.34,479.02 293.47,478.62 293.6,477.67 293.73,481.41 293.86,477.26 293.99,477.59 294.12,482.85 294.25,471.59 294.38,482.29 294.51,479.1 294.64,476.03 294.77,478.83 294.9,476.61 295.03,479.75 295.16,476.86 295.29,481.03 295.42,482.49 295.55,476.83 295.68,481.07 295.81,485.14 295.94,485.39 296.07,484.98 296.2,476.22 296.33,477.77 296.46,484.09 296.59,483.58 296.72,482.41 296.85,477.56 296.98,479.31 297.11,478.34 297.24,480.66 297.37,478.34 297.5,478.9 297.63,485.4 297.76,479.64 297.89,480.24 298.02,479.38 298.15,482.88 298.28,481.58 298.41,482.64 298.54,473.34 298.67,477.24 298.8,480.47 298.93,480.36 299.06,478.26 299.19,486.34 299.32,487.05 299.45,481.02 299.58,476.58 299.71,478.99 299.84,480.62 299.97,478.82 300.1,477.29 300.23,477.1 300.36,478.18 300.49,481.97 300.62,487.53 300.75,481.72 300.88,480.99 301.01,480.17 301.14,480.67 301.27,480.87 301.4,478.66 301.53,480.35 301.66,481.01 301.79,478.97 301.92,479.77 302.05,476.52 302.18,478.61 302.31,478.35 302.44,479.89 302.57,480.72 302.7,475.94 302.83,484.2 302.96,479.93 303.09,476.76 303.22,481.25 303.35,481.32 303.48,481.17 303.61,476.86 303.74,479.65 303.87,480.62 304,483.92 304.13,482.05 304.26,478.16 304.39,484.14 304.52,481.62 304.65,478.5 304.78,485.5 304.91,480.74 305.04,482.92 305.17,481.29 305.3,478.76 305.43,480.04 305.56,486.06 305.69,480.48 305.82,480.36 305.95,480.07 306.08,482.14 306.21,479.44 306.34,480.96 306.47,486.05 306.6,480.94 306.73,480.34 306.86,483.26 306.99,475.55 307.12,472.18 307.25,477.3 307.38,483.08 307.51,477.88 307.64,480.46 307.77,479.79 307.9,479.84 308.03,482.55 308.16,481.26 308.29,482.65 308.42,479.65 308.55,485.95 308.68,484.16 308.81,484.63 308.94,480.72 309.07,477.5 309.2,485.75 309.33,480.08 309.46,481.79 309.59,479.19 309.72,484.84 309.85,481.75 309.98,478.1 310.11,483.92 310.24,482.58 310.37,478.49 310.5,481.37 310.63,477.45 310.76,482.23 310.89,483.84 311.02,480.43 311.15,480.79 311.28,479.98 311.41,481.97 311.54,482.93 311.67,478.35 311.8,482.91 311.93,476.43 312.06,481.55 312.19,478.97 312.32,489.21 312.45,484.28 312.58,483.68 312.71,475.73 312.84,475.8 312.97,488.32 313.1,479.39 313.23,477.18 313.36,477.49 313.49,481.44 313.62,480.86 313.75,478.75 313.88,485.09 314.01,481.93 314.14,483.62 314.27,477.96 314.4,477.19 314.53,482.04 314.66,484.1 314.79,481.53 314.92,484.92 315.05,481.07 315.18,481.1 315.31,480.94 315.44,477.13 315.57,481.63 315.7,482.07 315.83,480.11 315.96,485.86 316.09,482.37 316.22,483.48 316.35,480.13 316.48,484.69 316.61,480.56 316.74,482.68 316.87,483.28 317,480.13 317.13,483.04 317.26,479.94 317.39,483.9 317.52,477.76 317.65,480.67 317.78,477.77 317.91,483.04 318.04,480.75 318.17,482.66 318.3,482.2 318.43,476.85 318.56,484.81 318.69,482.77 318.82,476.98 318.95,478.15 319.08,473.07 319.21,488.44 319.34,482.47 319.47,473.63 319.6,482.4 319.73,480.95 319.86,478.73 319.99,483.92 320.12,479.87 320.25,477.7 320.38,481.29 320.51,483 320.64,481.6 320.77,470.16 320.9,482.36 321.03,478.75 321.16,475.58 321.29,480.13 321.42,476.34 321.55,479.19 321.68,477.12 321.81,479.39 321.94,481.13 322.07,479.94 322.2,481.14 322.33,482.83 322.46,486.62 322.59,488.84 322.72,480.49 322.85,480.27 322.98,475.61 323.11,482.46 323.24,477.59 323.37,482.53 323.5,475.49 323.63,474.31 323.76,486.37 323.89,479.82 324.02,481.19 324.15,484.33 324.28,482.43 324.41,487.44 324.54,480.9 324.67,481.9 324.8,487.65 324.93,476.09 325.06,481.17 325.19,476.65 325.32,479.15 325.45,474.29 325.58,483.72 325.71,482.12 325.84,480.28 325.97,483.41 326.1,480.95 326.23,481.57 326.36,476.87 326.49,475.93 326.62,483.34 326.75,484.04 326.88,479.37 327.01,480.84 327.14,480.36 327.27,481.54 327.4,480.68 327.53,482.6 327.66,484.85 327.79,479.4 327.92,479.35 328.05,480.46 328.18,477.88 328.31,479.32 328.44,478.63 328.57,481.11 328.7,477.62 328.83,479.58 328.96,482.92 329.09,476.47 329.22,480.16 329.35,476.98 329.48,477.61 329.61,482.4 329.74,478.18 329.87,478.63 330,483.18 330.13,476.67 330.26,483.78 330.39,483.57 330.52,485.25 330.65,478.07 330.78,480.5 330.91,476.92 331.04,475.77 331.17,482.97 331.3,477.77 331.43,479.5 331.56,481.08 331.69,480.71 331.82,480.38 331.95,480.04 332.08,483.43 332.21,486.6 332.34,479.78 332.47,479.35 332.6,484.23 332.73,480.87 332.86,476.95 332.99,476.59 333.12,480.54 333.25,479.64 333.38,479.55 333.51,477.7 333.64,474.78 333.77,478.12 333.9,482.62 334.03,483.02 334.16,480.5 334.29,482.16 334.42,477.29 334.55,475.35 334.68,478.87 334.81,477.51 334.94,483.07 335.07,480.35 335.2,479.04 335.33,475.95 335.46,480.5 335.59,481.97 335.72,475.31 335.85,481.36 335.98,480.96 336.11,479.06 336.24,480.79 336.37,480.65 336.5,483.1 336.63,476.76 336.76,481.27 336.89,484.31 337.02,474.65 337.15,483.47 337.28,479.61 337.41,484.17 337.54,479.15 337.67,476.7 337.8,481.41 337.93,478.52 338.06,482.69 338.19,478.64 338.32,477.01 338.45,479.91 338.58,475.63 338.71,477.43 338.84,481.34 338.97,475.3 339.1,477.07 339.23,474.3 339.36,483.01 339.49,482.43 339.62,480.91 339.75,476.45 339.88,481.85 340.01,484.69 340.14,477.36 340.27,483.13 340.4,483.12 340.53,480.82 340.66,477.96 340.79,482.41 340.92,482.25 341.05,484.24 341.18,475.36 341.31,477.28 341.44,478.39 341.57,480.72 341.7,480.06 341.83,476.07 341.96,477.51 342.09,483.37 342.22,480.92 342.35,478.68 342.48,482.31 342.61,481.12 342.74,481.43 342.87,484.81 343,485.16 343.13,483.59 343.26,485.83 343.39,486.94 343.52,477.36 343.65,477.88 343.78,482.16 343.91,483.74 344.04,484.39 344.17,482.11 344.3,478.47 344.43,482.56 344.56,477.41 344.69,479.42 344.82,481.37 344.95,479.9 345.08,476.91 345.21,481.92 345.34,493.37 345.47,482.98 345.6,483.78 345.73,481.71 345.86,482.87 345.99,476.24 346.12,477.45 346.25,481.69 346.38,485.41 346.51,486.13 346.64,484.57 346.77,481.24 346.9,479.81 347.03,484.48 347.16,482.5 347.29,481.1 347.42,477.39 347.55,484.79 347.68,482.18 347.81,482.15 347.94,475.92 348.07,478.55 348.2,483.05 348.33,484.11 348.46,481.05 348.59,483.42 348.72,485.54 348.85,480.12 348.98,480.17 349.11,482.43 349.24,481.65 349.37,476.56 349.5,480.36 349.63,477.53 349.76,480.74 349.89,478.92 350.02,481.4 350.15,480.58 350.28,483.31 350.41,482.11 350.54,480.27 350.67,480.85 350.8,480.73 350.93,481.87 351.06,480.62 351.19,474.95 351.32,482.27 351.45,481.78 351.58,476.4 351.71,477.92 351.84,489.63 351.97,483.01 352.1,485.35 352.23,483.16 352.36,483.59 352.49,482.4 352.62,482.92 352.75,476.66 352.88,474.75 353.01,479.88 353.14,478.14 353.27,480.02 353.4,483.18 353.53,481.67 353.66,480.39 353.79,481.24 353.92,483.71 354.05,475.14 354.18,484.05 354.31,474.65 354.44,475.51 354.57,482.34 354.7,482.05 354.83,482.06 354.96,482.41 355.09,481.28 355.22,483.62 355.35,477.07 355.48,483.24 355.61,477.62 355.74,481.75 355.87,481.51 356,477.63 356.13,486.18 356.26,480.55 356.39,482.73 356.52,480.47 356.65,483.93 356.78,483.2 356.91,476.12 357.04,476.44 357.17,476.34 357.3,485.66 357.43,481.7 357.56,479.83 357.69,474.86 357.82,475.92 357.95,478.49 358.08,477.03 358.21,478.49 358.34,481.9 358.47,477.67 358.6,484.03 358.73,478.52 358.86,479.94 358.99,480.42 359.12,483.51 359.25,480.36 359.38,481.34 359.51,484.21 359.64,485.42 359.77,484.38 359.9,476.54 360.03,486.05 360.16,479.39 360.29,479.68 360.42,479.68 360.55,485.81 360.68,484.88 360.81,478.85 360.94,476.97 361.07,481.01 361.2,485.83 361.33,480.4 361.46,491.97 361.59,481.82 361.72,478.8 361.85,478.17 361.98,476.37 362.11,483.38 362.24,483.11 362.37,481.99 362.5,481.88 362.63,476.51 362.76,482.32 362.89,484.29 363.02,484.23 363.15,476.83 363.28,475.35 363.41,476.67 363.54,483.48 363.67,484.5 363.8,477.84 363.93,474.1 364.06,483.16 364.19,485.47 364.32,483.2 364.45,475.3 364.58,474.08 364.71,476.92 364.84,479.1 364.97,477.83 365.1,484.74 365.23,481.77 365.36,480.32 365.49,479.07 365.62,478.08 365.75,480.95 365.88,479.47 366.01,481.4 366.14,475.62 366.27,485.63 366.4,478.32 366.53,482.56 366.66,479.18 366.79,485.75 366.92,482.81 367.05,482.51 367.18,478 367.31,479.61 367.44,481.03 367.57,482.05 367.7,483.91 367.83,476.92 367.96,476.51 368.09,480.29 368.22,488.69 368.35,480.02 368.48,476.27 368.61,480.95 368.74,479.53 368.87,482.39 369,477.36 369.13,476.08 369.26,478.32 369.39,478.54 369.52,481.24 369.65,480.46 369.78,480.76 369.91,480.52 370.04,478.48 370.17,480.99 370.3,481.44 370.43,479.56 370.56,481.62 370.69,483.38 370.82,475.28 370.95,481.83 371.08,474.34 371.21,482.64 371.34,478.7 371.47,485.77 371.6,481.29 371.73,476.93 371.86,481.87 371.99,477.73 372.12,476.19 372.25,482.65 372.38,480.5 372.51,481.7 372.64,479.43 372.77,475.75 372.9,479.98 373.03,484.7 373.16,482.02 373.29,478.3 373.42,475.04 373.55,480.53 373.68,482.79 373.81,479.53 373.94,481.1 374.07,481.5 374.2,480.38 374.33,480.94 374.46,480.13 374.59,483.43 374.72,480.63 374.85,480.31 374.98,480.6 375.11,479.47 375.24,483.66 375.37,477.77 375.5,479.12 375.63,484.92 375.76,484.08 375.89,484.06 376.02,479.05 376.15,484.83 376.28,479.82 376.41,480.91 376.54,476.68 376.67,484.43 376.8,480.93 376.93,476.57 377.06,480.64 377.19,482.32 377.32,478 377.45,478.47 377.58,478.36 377.71,480.65 377.84,476.57 377.97,479.45 378.1,478.97 378.23,476.87 378.36,483.56 378.49,477.91 378.62,475.1 378.75,481.77 378.88,478.99 379.01,483.99 379.14,474.94 379.27,480.9 379.4,476.71 379.53,479.83 379.66,483.61 379.79,475.22 379.92,484.53 380.05,481.67 380.18,473.37 380.31,475.41 380.44,479.26 380.57,480.46 380.7,475.41 380.83,483.98 380.96,481.29 381.09,482.52 381.22,480.42 381.35,477.23 381.48,481.51 381.61,481.22 381.74,478.76 381.87,479.88 382,481.5 382.13,482.61 382.26,480.39 382.39,482.17 382.52,478.41 382.65,484.81 382.78,477.08 382.91,485.61 383.04,484.74 383.17,476.9 383.3,482.39 383.43,479.37 383.56,478.78 383.69,481.4 383.82,479.15 383.95,473.73 384.08,474.95 384.21,484.43 384.34,485.61 384.47,476.57 384.6,477.35 384.73,480.5 384.86,491.71 384.99,479.39 385.12,475.15 385.25,476.35 385.38,478.97 385.51,477.82 385.64,479.09 385.77,480.26 385.9,479.36 386.03,480.49 386.16,474.43 386.29,479.25 386.42,478.02 386.55,478.95 386.68,480.69 386.81,479.4 386.94,479.43 387.07,476.1 387.2,473.64 387.33,481.16 387.46,481.77 387.59,476.41 387.72,481.29 387.85,475.68 387.98,481.58 388.11,482.96 388.24,483.73 388.37,478.58 388.5,485.13 388.63,478.99 388.76,481.54 388.89,472.84 389.02,481.12 389.15,480.05 389.28,479.58 389.41,481.08 389.54,481.22 389.67,486.56 389.8,473.55 389.93,479.25 390.06,482.11 390.19,477.42 390.32,481.49 390.45,475.36 390.58,483.47 390.71,481.05 390.84,475.06 390.97,485.62 391.1,479.36 391.23,483.43 391.36,480.65 391.49,482.52 391.62,475.51 391.75,483.31 391.88,480.75 392.01,479.75 392.14,481.68 392.27,482.54 392.4,476.92 392.53,487.29 392.66,483.22 392.79,480.21 392.92,485.23 393.05,483.73 393.18,484.06 393.31,482.97 393.44,474.23 393.57,472.45 393.7,487.86 393.83,480.38 393.96,479.68 394.09,482.58 394.22,463.31 394.35,483.64 394.48,478.48 394.61,480.13 394.74,485.72 394.87,484.96 395,484.85 395.13,478.67 395.26,482.25 395.39,479.4 395.52,478.67 395.65,482.33 395.78,482.31 395.91,481.34 396.04,478.88 396.17,482.81 396.3,481 396.43,477.41 396.56,481.82 396.69,481.84 396.82,482.5 396.95,479.47 397.08,481.11 397.21,479.48 397.34,482.53 397.47,479.13 397.6,482.11 397.73,479.22 397.86,484.18 397.99,480.6 398.12,483.03 398.25,473.49 398.38,481.77 398.51,477.55 398.64,478.45 398.77,480.83 398.9,476.04 399.03,477.84 399.16,480.39 399.29,480.34 399.42,482.74 399.55,483.33 399.68,480.61 399.81,478.28 399.94,481.74 400.07,483.4 400.2,477.91 400.33,479.17 400.46,480.93 400.59,478.48 400.72,478.01 400.85,480.36 400.98,480.75 401.11,479 401.24,477.31 401.37,477.84 401.5,481.36 401.63,486.58 401.76,481.34 401.89,479.28 402.02,485.43 402.15,481.26 402.28,476.88 402.41,483.63 402.54,478.22 402.67,483.04 402.8,478.86 402.93,480.36 403.06,483.8 403.19,481.47 403.32,483.33 403.45,484.83 403.58,478.03 403.71,476.9 403.84,478.91 403.97,478.02 404.1,480.92 404.23,479.14 404.36,479.55 404.49,481.04 404.62,476.55 404.75,479.89 404.88,480.21 405.01,477.9 405.14,476.69 405.27,479.21 405.4,481.54 405.53,480.13 405.66,486.54 405.79,481.1 405.92,474.15 406.05,480.98 406.18,477.1 406.31,472.07 406.44,477.29 406.57,474.03 406.7,481.53 406.83,482.75 406.96,483.44 407.09,478.19 407.22,482.86 407.35,474.46 407.48,481.74 407.61,480.03 407.74,479.2 407.87,476.59 408,481.87 408.13,479.52 408.26,479.46 408.39,475.5 408.52,481.08 408.65,479.93 408.78,482.16 408.91,479.15 409.04,485.03 409.17,481.51 409.3,482.31 409.43,478.91 409.56,483.61 409.69,477.43 409.82,483.85 409.95,476.91 410.08,481.76 410.21,478.82 410.34,478.43 410.47,487.75 410.6,480.75 410.73,485.63 410.86,477.51 410.99,485.5 411.12,481.19 411.25,482.19 411.38,488.47 411.51,485.66 411.64,487.02 411.77,481.17 411.9,475.5 412.03,490.28 412.16,482.16 412.29,479.4 412.42,481.98 412.55,484.14 412.68,484.43 412.81,479.9 412.94,481.89 413.07,485.89 413.2,474.69 413.33,482.31 413.46,484.3 413.59,477.24 413.72,480.55 413.85,480.33 413.98,482.58 414.11,478.6 414.24,489.16 414.37,480.05 414.5,481.22 414.63,482.99 414.76,485.94 414.89,476.01 415.02,485.96 415.15,482.6 415.28,481.96 415.41,483.54 415.54,478.95 415.67,479.18 415.8,479.26 415.93,479.64 416.06,480.82 416.19,481.22 416.32,481.45 416.45,476.33 416.58,487.79 416.71,476.87 416.84,482.55 416.97,481.84 417.1,477.54 417.23,483.02 417.36,482.15 417.49,476.04 417.62,476.11 417.75,476.83 417.88,475.75 418.01,481.03 418.14,476.13 418.27,480.55 418.4,481.54 418.53,480.13 418.66,479.53 418.79,479.3 418.92,475.9 419.05,481.28 419.18,477.32 419.31,484.65 419.44,479.55 419.57,477.11 419.7,487.8 419.83,481.44 419.96,480.39 420.09,481.86 420.22,479.54 420.35,487.61 420.48,479.64 420.61,478.13 420.74,484.52 420.87,482.57 421,481.49 421.13,481.49 421.26,477.61 421.39,481.54 421.52,479.92 421.65,480.12 421.78,480.88 421.91,479.54 422.04,480.07 422.17,478.04 422.3,483.83 422.43,478.17 422.56,483.82 422.69,483.26 422.82,482.57 422.95,482.64 423.08,476.7 423.21,479.38 423.34,477.6 423.47,484.79 423.6,487.3 423.73,484.54 423.86,482.67 423.99,482.12 424.12,478.58 424.25,475.71 424.38,482.34 424.51,476.4 424.64,484.03 424.77,481.11 424.9,480.08 425.03,484.53 425.16,479.68 425.29,483.77 425.42,479.2 425.55,480.86 425.68,477.87 425.81,489.28 425.94,484.03 426.07,479.1 426.2,483.39 426.33,480.99 426.46,479.98 426.59,478.53 426.72,482.61 426.85,481.32 426.98,478.67 427.11,485.52 427.24,484.3 427.37,479.68 427.5,478.27 427.63,483.41 427.76,479.45 427.89,487.32 428.02,477.29 428.15,477.3 428.28,476.1 428.41,476.85 428.54,479.42 428.67,478.08 428.8,478.23 428.93,476.09 429.06,475.68 429.19,483.22 429.32,483.5 429.45,477.46 429.58,481.56 429.71,482.05 429.84,482.6 429.97,482.21 430.1,480.22 430.23,492.65 430.36,480.02 430.49,477.44 430.62,483.12 430.75,475.04 430.88,481.44 431.01,475.02 431.14,479.7 431.27,483.83 431.4,484.57 431.53,480.71 431.66,482.11 431.79,483.74 431.92,474.72 432.05,480.21 432.18,477.03 432.31,478.67 432.44,479.91 432.57,475.3 432.7,484.77 432.83,478.32 432.96,481.81 433.09,475.93 433.22,480.07 433.35,476.48 433.48,482.42 433.61,477 433.74,477.78 433.87,482.5 434,477.34 434.13,479.09 434.26,481.03 434.39,479.35 434.52,478.69 434.65,479.08 434.78,477.23 434.91,477.47 435.04,475.82 435.17,476.83 435.3,472.07 435.43,480.06 435.56,473.46 435.69,476.58 435.82,478.48 435.95,479.35 436.08,477.5 436.21,482.57 436.34,481.21 436.47,476.24 436.6,482.09 436.73,476.83 436.86,482.78 436.99,483.71 437.12,480.74 437.25,482.34 437.38,471.42 437.51,483.01 437.64,482.05 437.77,486.41 437.9,479.51 438.03,475.74 438.16,478.35 438.29,481.29 438.42,478.35 438.55,482.98 438.68,479.99 438.81,482.7 438.94,479.48 439.07,485.47 439.2,477 439.33,482.18 439.46,477.72 439.59,477.9 439.72,479.92 439.85,478.66 439.98,485.71 440.11,480.83 440.24,481.1 440.37,481.32 440.5,482.41 440.63,482.38 440.76,482.25 440.89,437.92 441.02,436.33 441.15,419.6 441.28,439.35 441.41,417.15 441.54,427.19 441.67,429.21 441.8,418.43 441.93,425.55 442.06,441.58 442.19,432.49 442.32,428.99 442.45,427.84 442.58,419.51 442.71,420.02 442.84,437.06 442.97,422.7 443.1,424.29 443.23,422.1 443.36,435.03 443.49,436 443.62,422.26 443.75,415.87 443.88,416.76 444.01,440.93 444.14,423.13 444.27,479.9 444.4,484.11 444.53,480.27 444.66,482.95 444.79,482.88 444.92,479.45 445.05,478.1 445.18,483.94 445.31,472.45 445.44,483.2 445.57,487.67 445.7,481.52 445.83,478.88 445.96,478.33 446.09,477.66 446.22,480.13 446.35,478.88 446.48,480.81 446.61,477.89 446.74,484.91 446.87,482.57 447,479.86 447.13,477.88 447.26,487.89 447.39,476.97 447.52,484.67 447.65,477.6 447.78,479.24 447.91,466.04 448.04,480.71 448.17,483.25 448.3,477.01 448.43,476.73 448.56,484.59 448.69,480.37 448.82,481.04 448.95,480.85 449.08,479.09 449.21,476.37 449.34,484.73 449.47,483.08 449.6,479.61 449.73,483.8 449.86,483.21 449.99,482.9 450.12,477.4 450.25,477.42 450.38,477.24 450.51,483.97 450.64,475.82 450.77,485.56 450.9,482.7 451.03,484.41 451.16,480.11 451.29,481.06 451.42,479.71 451.55,480.1 451.68,480.62 451.81,479.55 451.94,483.01 452.07,478.33 452.2,475.57 452.33,479.68 452.46,482.11 452.59,482.54 452.72,481.8 452.85,479.32 452.98,481.04 453.11,479.89 453.24,483.16 453.37,485.24 453.5,478.66 453.63,478.48 453.76,480.4 453.89,477.15 454.02,483.13 454.15,479.11 454.28,479.23 454.41,483.06 454.54,476.46 454.67,481.33 454.8,478.31 454.93,481.5 455.06,480.41 455.19,476.92 455.32,480.82 455.45,477.2 455.58,482.58 455.71,479.26 455.84,484.27 455.97,477.92 456.1,482.37 456.23,476.63 456.36,479.39 456.49,483.24 456.62,479.04 456.75,479.05 456.88,479.5 457.01,480.7 457.14,472.78 457.27,484.83 457.4,481.78 457.53,480.42 457.66,481.08 457.79,481.84 457.92,478.92 458.05,480.89 458.18,479.81 458.31,479.3 458.44,476.41 458.57,476.9 458.7,483.82 458.83,483.53 458.96,480.05 459.09,477.24 459.22,471.24 459.35,484.57 459.48,479.39 459.61,481.3 459.74,481.06 459.87,481.61 460,479.54 460.13,484.01 460.26,476.89 460.39,483.74 460.52,480.17 460.65,485.82 460.78,480.95 460.91,477.04 461.04,475.47 461.17,480.74 461.3,484.14 461.43,472.77 461.56,484.72 461.69,477.46 461.82,478.18 461.95,473.72 462.08,481.45 462.21,476.65 462.34,483.5 462.47,487.13 462.6,479.77 462.73,475.69 462.86,484.89 462.99,479.9 463.12,482.56 463.25,480.28 463.38,481.75 463.51,478.65 463.64,477.51 463.77,476.97 463.9,483.4 464.03,477.39 464.16,469.84 464.29,480.18 464.42,481.26 464.55,482.86 464.68,475.07 464.81,476.4 464.94,477.79 465.07,480.75 465.2,480.84 465.33,481.75 465.46,480.08 465.59,478.64 465.72,484.67 465.85,477.7 465.98,482.66 466.11,478.41 466.24,480.11 466.37,477.43 466.5,475.56 466.63,476.67 466.76,478.35 466.89,479.06 467.02,481.51 467.15,481.2 467.28,480.2 467.41,479.65 467.54,481.12 467.67,475.05 467.8,477.68 467.93,480.61 468.06,480.13 468.19,480.88 468.32,482.21 468.45,479.12 468.58,479.96 468.71,481.89 468.84,479.63 468.97,475.47 469.1,480.01 469.23,480.37 469.36,483.98 469.49,475.43 469.62,481.3 469.75,479.22 469.88,476.87 470.01,477.73 470.14,484.37 470.27,479.18 470.4,478.67 470.53,483.1 470.66,482.58 470.79,478.02 470.92,478.79 471.05,483.23 471.18,479.03 471.31,486.3 471.44,478.65 471.57,476.01 471.7,475.83 471.83,479.48 471.96,481.18 472.09,479.25 472.22,478.47 472.35,477.3 472.48,479.61 472.61,482.6 472.74,477.56 472.87,482.44 473,479.59 473.13,482.99 473.26,485.12 473.39,481.43 473.52,476.17 473.65,483.81 473.78,476.02 473.91,479.34 474.04,479.71 474.17,479.17 474.3,483.73 474.43,478.72 474.56,478.03 474.69,481.76 474.82,474.94 474.95,475.62 475.08,482.15 475.21,482.03 475.34,476.6 475.47,485.47 475.6,480.39 475.73,483.27 475.86,475.15 475.99,474.7 476.12,481.17 476.25,480.45 476.38,482.62 476.51,482.27 476.64,481.21 476.77,485.4 476.9,481.86 477.03,478.33 477.16,483.36 477.29,478.66 477.42,475.83 477.55,478.38 477.68,479.69 477.81,486.83 477.94,486.7 478.07,476.17 478.2,478.1 478.33,474.64 478.46,481.73 478.59,475.97 478.72,480.82 478.85,475.26 478.98,472.99 479.11,483.22 479.24,477 479.37,478.61 479.5,480.36 479.63,480.64 479.76,479.47 479.89,479.56 480.02,484.5 480.15,483.04 480.28,483.11 480.41,485.92 480.54,477.59 480.67,478.35 480.8,478.4 480.93,477.71 481.06,482.86 481.19,479.65 481.32,483.11 481.45,473.27 481.58,481.76 481.71,477.13 481.84,481.99 481.97,477.97 482.1,479.62 482.23,477.95 482.36,480.31 482.49,484.25 482.62,482.74 482.75,483.85 482.88,475 483.01,478.54 483.14,473.89 483.27,477.91 483.4,482.59 483.53,484.14 483.66,480.23 483.79,482.63 483.92,480.51 484.05,479.66 484.18,481.07 484.31,477.89 484.44,481.6 484.57,477.35 484.7,481.09 484.83,481.57 484.96,478.45 485.09,483.41 485.22,481.06 485.35,455.5 485.48,480.07 485.61,486.63 485.74,483.56 485.87,474.77 486,478.98 486.13,480.01 486.26,478.6 486.39,481.34 486.52,479.41 486.65,479.74 486.78,477.63 486.91,476.94 487.04,480.84 487.17,483.16 487.3,481.45 487.43,474.29 487.56,484.62 487.69,480.02 487.82,483.92 487.95,478.08 488.08,475.03 488.21,485.07 488.34,476.46 488.47,479.76 488.6,478.08 488.73,481.89 488.86,483.34 488.99,483.43 489.12,483.25 489.25,484.49 489.38,479.28 489.51,479.41 489.64,481.46 489.77,477.71 489.9,483.25 490.03,479.19 490.16,477.33 490.29,482.71 490.42,478.54 490.55,474.87 490.68,476.85 490.81,480.74 490.94,481.01 491.07,486.08 491.2,482.44 491.33,479.59 491.46,484.77 491.59,482.66 491.72,479.35 491.85,484.03 491.98,482.69 492.11,479.67 492.24,480.53 492.37,479.63 492.5,476.08 492.63,479.54 492.76,480.97 492.89,480.02 493.02,475.42 493.15,484.14 493.28,475.75 493.41,480.31 493.54,479.3 493.67,480.67 493.8,477.9 493.93,482.35 494.06,480.26 494.19,480.92 494.32,476.42 494.45,480.54 494.58,481.78 494.71,477.72 494.84,483.08 494.97,485.18 495.1,482.92 495.23,484.2 495.36,483.35 495.49,477.52 495.62,477.18 495.75,483.49 495.88,481.24 496.01,480.97 496.14,483.82 496.27,481.67 496.4,485.26 496.53,482.19 496.66,479.12 496.79,482.07 496.92,481.15 497.05,485.58 497.18,485.26 497.31,476.93 497.44,476.94 497.57,486.34 497.7,479.44 497.83,474.24 497.96,479.77 498.09,483.19 498.22,478.41 498.35,479.63 498.48,476.15 498.61,480.2 498.74,474.92 498.87,475.37 499,483.48 499.13,476.01 499.26,480.45 499.39,477.75 499.52,479.06 499.65,484.53 499.78,482 499.91,488.31 500.04,479.78 500.17,480.89 500.3,479.51 500.43,477.15 500.56,482.93 500.69,486.8 500.82,476.93 500.95,479.83 501.08,480.37 501.21,477 501.34,478.13 501.47,480.95 501.6,482.42 501.73,479.7 501.86,476.95 501.99,484.67 502.12,480.32 502.25,477.84 502.38,480.61 502.51,479.41 502.64,477.06 502.77,480.94 502.9,478.02 503.03,484.06 503.16,481.92 503.29,487.46 503.42,479.36 503.55,477.43 503.68,480.55 503.81,484.02 503.94,484.46 504.07,478.91 504.2,481.68 504.33,481.85 504.46,476.07 504.59,479.5 504.72,482.45 504.85,481.73 504.98,480.74 505.11,477.54 505.24,483.32 505.37,476.15 505.5,480.32 505.63,481.23 505.76,478.77 505.89,477.6 506.02,479.68 506.15,480.54 506.28,478.87 506.41,476.13 506.54,483.09 506.67,478.75 506.8,475.88 506.93,480.21 507.06,476.71 507.19,482.05 507.32,482.46 507.45,478.37 507.58,478.16 507.71,474.15 507.84,482.14 507.97,482.04 508.1,482.08 508.23,481.87 508.36,478.65 508.49,479.17 508.62,479.99 508.75,481.25 508.88,480.16 509.01,483.66 509.14,473.48 509.27,480.09 509.4,476.89 509.53,476.43 509.66,484.66 509.79,479.44 509.92,478.15 510.05,482.97 510.18,479.62 510.31,484.17 510.44,481.92 510.57,482.59 510.7,482.45 510.83,478.72 510.96,483.28 511.09,483.81 511.22,478.54 511.35,477.35 511.48,482.82 511.61,480.59 511.74,479.57 511.87,480.52 512,477.07 512.13,482.04 512.26,485.01 512.39,481.32 512.52,479.41 512.65,481.6 512.78,475.54 512.91,475.34 513.04,487.17 513.17,484.24 513.3,479.88 513.43,480.72 513.56,483.81 513.69,476.49 513.82,481.24 513.95,479.82 514.08,483.7 514.21,482.71 514.34,483.46 514.47,479.51 514.6,479.85 514.73,477.7 514.86,479.94 514.99,479.54 515.12,481.88 515.25,482.14 515.38,478.93 515.51,480.05 515.64,479.17 515.77,481.08 515.9,478.88 516.03,477.92 516.16,481.13 516.29,476.67 516.42,483.3 516.55,480.45 516.68,481.67 516.81,479.93 516.94,483.73 517.07,482.95 517.2,478.74 517.33,474.72 517.46,482.05 517.59,482.46 517.72,485.83 517.85,477.92 517.98,483.33 518.11,480.43 518.24,479.41 518.37,483.56 518.5,476.09 518.63,483.15 518.76,476.95 518.89,478.11 519.02,482.8 519.15,474.78 519.28,479.77 519.41,480.56 519.54,479.51 519.67,476.78 519.8,480.47 519.93,478.83 520.06,485.97 520.19,486.27 520.32,480.22 520.45,480.23 520.58,484.16 520.71,481.66 520.84,483.11 520.97,483.27 521.1,475.16 521.23,482.65 521.36,473.83 521.49,484.25 521.62,486.07 521.75,484.37 521.88,475.48 522.01,478.85 522.14,475.95 522.27,479.52 522.4,479.86 522.53,484.87 522.66,483.38 522.79,483.21 522.92,479.11 523.05,479.35 523.18,479.06 523.31,484.88 523.44,479.96 523.57,475.45 523.7,479.4 523.83,483.07 523.96,483.54 524.09,479.47 524.22,478.49 524.35,481.51 524.48,479.96 524.61,479.14 524.74,481.13 524.87,481.69 525,481.23 525.13,482.3 525.26,480.73 525.39,484.64 525.52,482.91 525.65,478.06 525.78,484.73 525.91,484.65 526.04,480.72 526.17,483.54 526.3,480.32 526.43,479.02 526.56,483.25 526.69,482.38 526.82,484.11 526.95,480.34 527.08,477.52 527.21,480.73 527.34,483.65 527.47,485.13 527.6,477.69 527.73,486.94 527.86,477.92 527.99,478.36 528.12,476.43 528.25,479.7 528.38,487.01 528.51,479.28 528.64,483.18 528.77,480.52 528.9,479.15 529.03,483.36 529.16,480.3 529.29,480.83 529.42,484.41 529.55,483.36 529.68,483.12 529.81,476.24 529.94,481.77 530.07,482.74 530.2,482.64 530.33,479.99 530.46,479.68 530.59,482.01 530.72,480.11 530.85,485.44 530.98,478.7 531.11,482.13 531.24,479.16 531.37,475.6 531.5,479.5 531.63,473.12 531.76,479.28 531.89,481.22 532.02,483.83 532.15,478.43 532.28,477.12 532.41,480.65 532.54,476.57 532.67,480.2 532.8,481.76 532.93,487.74 533.06,482.82 533.19,488.13 533.32,481.15 533.45,478.91 533.58,473.56 533.71,479.07 533.84,482.28 533.97,481.5 534.1,479.95 534.23,482.02 534.36,483.05 534.49,481.65 534.62,485.23 534.75,478.72 534.88,478.55 535.01,485.28 535.14,479.86 535.27,482.97 535.4,482.1 535.53,481.53 535.66,478.96 535.79,481.77 535.92,477.37 536.05,480.62 536.18,481.9 536.31,482.74 536.44,482.78 536.57,485 536.7,479.49 536.83,481.58 536.96,484.91 537.09,484.22 537.22,484.36 537.35,482.15 537.48,475.21 537.61,480.31 537.74,483.81 537.87,480.65 538,481.35 538.13,480.36 538.26,481.11 538.39,486.25 538.52,481.83 538.65,481.19 538.78,478.7 538.91,483.85 539.04,478.05 539.17,478.37 539.3,481.95 539.43,481.95 539.56,477.64 539.69,480.87 539.82,481.17 539.95,481.27 540.08,480.34 540.21,480.38 540.34,480.33 540.47,478.72 540.6,482.04 540.73,478.9 540.86,483.05 540.99,480.81 541.12,483.44 541.25,483.96 541.38,476.17 541.51,482.76 541.64,476.51 541.77,486.89 541.9,476.35 542.03,482.76 542.16,483.2 542.29,481.16 542.42,476.34 542.55,476.53 542.68,482.52 542.81,481.1 542.94,483.03 543.07,479.52 543.2,482.75 543.33,482.06 543.46,479.3 543.59,483.56 543.72,484.5 543.85,478.7 543.98,480.61 544.11,480.82 544.24,479.6 544.37,484.03 544.5,472.78 544.63,486.66 544.76,480 544.89,475.47 545.02,479.85 545.15,481.26 545.28,478.67 545.41,477.62 545.54,481.8 545.67,480.18 545.8,480.31 545.93,477.48 546.06,482.35 546.19,478.16 546.32,484.45 546.45,481.57 546.58,478.35 546.71,476.81 546.84,487.69 546.97,480.31 547.1,482.81 547.23,480.49 547.36,488.58 547.49,479.12 547.62,483.92 547.75,481.86 547.88,477.91 548.01,481.08 548.14,483.12 548.27,485.32 548.4,479.28 548.53,478.9 548.66,477.68 548.79,477.74 548.92,478.34 549.05,482.47 549.18,479.85 549.31,441.13 549.44,436.36 549.57,441.34 549.7,419.55 549.83,446.72 549.96,425.01 550.09,429.55 550.22,450.65 550.35,446.57 550.48,428.67 550.61,447.29 550.74,436.32 550.87,449.94 551,431.3 551.13,448.09 551.26,423.97 551.39,428.3 551.52,438.47 551.65,433.58 551.78,450.65 551.91,432.61 552.04,431.85 552.17,441.38 552.3,424.35 552.43,426.14 552.56,448.43 552.69,446.54 552.82,424.02 552.95,433.89 553.08,439.72 553.21,436.78 553.34,432.12 553.47,429.28 553.6,448.7 553.73,421.27 553.86,427.15 553.99,431.36 554.12,428.72 554.25,442.83 554.38,440.26 554.51,444.32 554.64,482.25 554.77,479.91 554.9,481.55 555.03,482.62 555.16,485.31 555.29,484.18 555.42,481.53 555.55,482.33 555.68,480.51 555.81,481 555.94,484.29 556.07,475.79 556.2,480.26 556.33,477.79 556.46,476.14 556.59,481.05 556.72,482.22 556.85,480.06 556.98,475.42 557.11,484.83 557.24,483.91 557.37,481.36 557.5,481.42 557.63,489.37 557.76,479.76 557.89,484.11 558.02,478.78 558.15,483.02 558.28,485.56 558.41,479.49 558.54,483.34 558.67,482.69 558.8,482.16 558.93,477.08 559.06,479.91 559.19,485.05 559.32,476.03 559.45,480.69 559.58,483.82 559.71,481.55 559.84,475.04 559.97,476.87 560.1,483.05 560.23,474.42 560.36,477.65 560.49,476.97 560.62,481.15 560.75,479.63 560.88,476.44 561.01,485.91 561.14,476.85 561.27,482.68 561.4,483.28 561.53,479.14 561.66,477.67 561.79,481.72 561.92,481.11 562.05,480.42 562.18,485.65 562.31,477.34 562.44,480.85 562.57,481.44 562.7,485.48 562.83,481.47 562.96,480.79 563.09,481.35 563.22,477.94 563.35,484.76 563.48,482.42 563.61,479.98 563.74,481.42 563.87,482.2 564,475.37 564.13,476.53 564.26,479.01 564.39,484.79 564.52,477.09 564.65,477.19 564.78,481.85 564.91,483.56 565.04,476.87 565.17,481.02 565.3,481.01 565.43,484.01 565.56,473.66 565.69,484.83 565.82,481.77 565.95,480.93 566.08,480.53 566.21,476.55 566.34,477.95 566.47,481.23 566.6,480.93 566.73,481.01 566.86,486.4 566.99,479.33 567.12,478.35 567.25,486.44 567.38,483.13 567.51,477.88 567.64,482.56 567.77,478 567.9,480.14 568.03,477.67 568.16,480.9 568.29,485.11 568.42,476.53 568.55,476.74 568.68,478.82 568.81,476.98 568.94,475.5 569.07,475.65 569.2,479.25 569.33,477.06 569.46,479.87 569.59,473.26 569.72,476.55 569.85,479.38 569.98,484.01 570.11,479.97 570.24,480.23 570.37,482.43 570.5,479.44 570.63,478.86 570.76,482.6 570.89,486.2 571.02,477.31 571.15,485.21 571.28,481.36 571.41,483.79 571.54,478.62 571.67,482.84 571.8,475.27 571.93,481.5 572.06,477.39 572.19,481.89 572.32,480.47 572.45,477.44 572.58,482.74 572.71,481.6 572.84,481.5 572.97,479.29 573.1,481.61 573.23,483.48 573.36,478.43 573.49,483.55 573.62,474.52 573.75,483.99 573.88,479.58 574.01,477.44 574.14,477.9 574.27,474.58 574.4,479.38 574.53,476.68 574.66,480.38 574.79,483.48 574.92,482.25 575.05,482.48 575.18,481.85 575.31,481.89 575.44,486.22 575.57,475.91 575.7,477.54 575.83,482.97 575.96,474.19 576.09,488.51 576.22,485.11 576.35,484.53 576.48,476.04 576.61,477.55 576.74,480.31 576.87,477.53 577,482.56 577.13,485.88 577.26,474.38 577.39,476.97 577.52,480.02 577.65,486.37 577.78,477.57 577.91,479.28 578.04,480.24 578.17,485.19 578.3,481.38 578.43,482.08 578.56,485.99 578.69,480.15 578.82,481.03 578.95,481.52 579.08,483.47 579.21,476.86 579.34,485.7 579.47,479.35 579.6,478.69 579.73,478.8 579.86,480.64 579.99,475.13 580.12,487.61 580.25,481.12 580.38,485.93 580.51,484.15 580.64,476.01 580.77,481.1 580.9,482.94 581.03,481.69 581.16,480.2 581.29,481.1 581.42,479.34 581.55,485.91 581.68,486.31 581.81,480.9 581.94,478.39 582.07,478.77 582.2,480.12 582.33,477.81 582.46,478.61 582.59,481.37 582.72,480.39 582.85,479.68 582.98,480.74 583.11,483.72 583.24,475.48 583.37,479.42 583.5,476.58 583.63,480.95 583.76,482.05 583.89,481.39 584.02,473.39 584.15,478.97 584.28,479.91 584.41,482.96 584.54,482.69 584.67,476.35 584.8,478.09 584.93,480.97 585.06,477.41 585.19,480.99 585.32,481.9 585.45,479.39 585.58,474.44 585.71,478.81 585.84,482.16 585.97,481.41 586.1,482.86 586.23,481.79 586.36,476.47 586.49,476.56 586.62,482.96 586.75,481.08 586.88,482.48 587.01,479.67 587.14,483.26 587.27,477.36 587.4,484.96 587.53,480.15 587.66,482.61 587.79,481.19 587.92,486.74 588.05,476.44 588.18,480.06 588.31,479.74 588.44,478.89 588.57,478.9 588.7,479.94 588.83,481.08 588.96,486.61 589.09,481.41 589.22,483.25 589.35,479.91 589.48,481.11 589.61,482.13 589.74,478.65 589.87,476.63 590,481.65 590.13,481.84 590.26,480.09 590.39,481.19 590.52,472.55 590.65,474.48 590.78,480.07 590.91,482.89 591.04,475.3 591.17,478.77 591.3,478.71 591.43,471.18 591.56,474.74 591.69,481.69 591.82,479.27 591.95,477.63 592.08,477.82 592.21,480.39 592.34,474.43 592.47,483.1 592.6,484.25 592.73,484.58 592.86,477.78 592.99,479.83 593.12,478.37 593.25,478.3 593.38,481.6 593.51,480.6 593.64,480.23 593.77,480.75 593.9,483.72 594.03,478.92 594.16,481.6 594.29,482.38 594.42,477.88 594.55,470.92 594.68,477.56 594.81,475.96 594.94,476.73 595.07,486.89 595.2,474.47 595.33,480.88 595.46,479.43 595.59,478.14 595.72,473.14 595.85,482.1 595.98,475.31 596.11,483.21 596.24,481.74 596.37,483.58 596.5,481.2 596.63,485.19 596.76,478.14 596.89,481.19 597.02,481.73 597.15,474.9 597.28,479.33 597.41,479.02 597.54,478.01 597.67,480.47 597.8,479.22 597.93,476.33 598.06,482.99 598.19,483.8 598.32,480.07 598.45,480.99 598.58,478.61 598.71,477.98 598.84,487.1 598.97,481.21 599.1,486.07 599.23,480.49 599.36,476.62 599.49,484.06 599.62,485.92 599.75,477.03 599.88,487.21 600.01,481.06 600.14,481.04 600.27,476.93 600.4,481.24 600.53,475.28 600.66,477.38 600.79,475.34 600.92,481.02 601.05,475.53 601.18,483.6 601.31,477.48 601.44,480.2 601.57,483.92 601.7,482.44 601.83,483.65 601.96,479.11 602.09,483.33 602.22,484.75 602.35,480.69 602.48,477.99 602.61,483.05 602.74,481.36 602.87,482.59 603,480.91 603.13,482.48 603.26,477.85 603.39,485.3 603.52,481.49 603.65,482.4 603.78,481.66 603.91,476.18 604.04,477.92 604.17,480.32 604.3,484.41 604.43,480.56 604.56,484.12 604.69,479.68 604.82,480.71 604.95,479.15 605.08,484.59 605.21,485.28 605.34,483.05 605.47,480.5 605.6,484.52 605.73,477.39 605.86,478.33 605.99,474.72 606.12,482.1 606.25,482.58 606.38,477.01 606.51,484.59 606.64,482.58 606.77,481.53 606.9,481.27 607.03,481.97 607.16,481.34 607.29,476.4 607.42,479.16 607.55,478.38 607.68,481.41 607.81,476.24 607.94,476.05 608.07,479.52 608.2,477.74 608.33,476.47 608.46,483.15 608.59,476.19 608.72,475.19 608.85,484.29 608.98,475.87 609.11,483.3 609.24,483.69 609.37,481.71 609.5,484.53 609.63,479.58 609.76,484.96 609.89,484.55 610.02,480.8 610.15,487 610.28,480.52 610.41,481.14 610.54,480.58 610.67,476.46 610.8,476.61 610.93,482.99 611.06,488.6 611.19,476.16 611.32,480.93 611.45,483.68 611.58,485.19 611.71,481.47 611.84,480.98 611.97,480.97 612.1,484.06 612.23,484.49 612.36,429.32 612.49,410.06 612.62,422.03 612.75,410.2 612.88,427.86 613.01,411.6 613.14,406.93 613.27,419.65 613.4,414.29 613.53,410.65 613.66,407.73 613.79,422.2 613.92,410.05 614.05,428.74 614.18,425.19 614.31,427.89 614.44,418 614.57,433.48 614.7,414.97 614.83,420.51 614.96,431.16 615.09,421.18 615.22,426.36 615.35,434.18 615.48,436.8 615.61,433.75 615.74,428.19 615.87,428.35 616,436 616.13,435.93 616.26,419.55 616.39,420.09 616.52,422.83 616.65,416.09 616.78,409.78 616.91,409.02 617.04,431.86 617.17,424.08 617.3,430.3 617.43,410.18 617.56,427.57 617.69,422.45 617.82,431.52 617.95,416.96 618.08,411.05 618.21,429.16 618.34,423.46 618.47,406.61 618.6,416.37 618.73,427.68 618.86,418.42 618.99,415.71 619.12,481.95 619.25,481.87 619.38,483.39 619.51,483.37 619.64,484.75 619.77,473.66 619.9,482.11 620.03,476.21 620.16,478.94 620.29,481.81 620.42,478.26 620.55,480.68 620.68,479.29 620.81,481.72 620.94,479.79 621.07,479.25 621.2,481.55 621.33,484.61 621.46,484.4 621.59,477.96 621.72,483.68 621.85,486.6 621.98,480.82 622.11,480.8 622.24,479.55 622.37,480.85 622.5,478.62 622.63,475.59 622.76,481.6 622.89,479.99 623.02,477.25 623.15,485.37 623.28,477.14 623.41,484.65 623.54,487.02 623.67,481.38 623.8,480.05 623.93,478.72 624.06,482.61 624.19,479.72 624.32,476.22 624.45,480.12 624.58,484.68 624.71,480.46 624.84,478.94 624.97,479.8 625.1,479.49 625.23,484.17 625.36,480.4 625.49,472.92 625.62,479.24 625.75,476.9 625.88,482.68 626.01,477.14 626.14,483.24 626.27,477.58 626.4,475.14 626.53,486.91 626.66,478.38 626.79,487.31 626.92,479.38 627.05,483.19 627.18,481.59 627.31,484.71 627.44,475.06 627.57,481.64 627.7,477.41 627.83,481.53 627.96,478.4 628.09,481.44 628.22,485.53 628.35,480.53 628.48,490.12 628.61,477.85 628.74,482.91 628.87,485.67 629,478.61 629.13,485.61 629.26,484.1 629.39,475.7 629.52,477.62 629.65,481.64 629.78,481.92 629.91,478.08 630.04,477.53 630.17,481.44 630.3,487.24 630.43,480.15 630.56,479.53 630.69,482.25 630.82,478.72 630.95,477.97 631.08,479.88 631.21,480.28 631.34,482.87 631.47,477.48 631.6,484.16 631.73,476.8 631.86,477.85 631.99,481.78 632.12,481.1 632.25,484.29 632.38,480.36 632.51,479.64 632.64,484.22 632.77,478.42 632.9,478.86 633.03,478.97 633.16,479.51 633.29,485.07 633.42,478.6 633.55,476.19 633.68,479.75 633.81,481.98 633.94,481.52 634.07,480.7 634.2,477.97 634.33,474.47 634.46,485.54 634.59,483.44 634.72,483.44 634.85,483.84 634.98,486.06 635.11,482.51 635.24,477.04 635.37,477.43 635.5,480.26 635.63,478.91 635.76,482.37 635.89,478.75 636.02,478.9 636.15,477.95 636.28,473.61 636.41,479.59 636.54,476.85 636.67,488.03 636.8,480.09 636.93,483.77 637.06,480.21 637.19,483.32 637.32,484.03 637.45,481.57 637.58,479.71 637.71,484.54 637.84,482.53 637.97,479.77 638.1,482.11 638.23,477.43 638.36,477.08 638.49,475.56 638.62,479.82 638.75,479.19 638.88,475.93 639.01,473.32 639.14,476.75 639.27,483.48 639.4,476.58 639.53,482.59 639.66,479.06 639.79,478.46 639.92,484.9 640.05,476.02 640.18,485.4 640.31,476.19 640.44,486.72 640.57,480.37 640.7,477.98 640.83,481.01 640.96,477.78 641.09,477.76 641.22,478.21 641.35,476.03 641.48,477.29 641.61,475.92 641.74,479.12 641.87,480.1 642,482.5 642.13,482 642.26,479.65 642.39,484.52 642.52,482.87 642.65,472.63 642.78,473.08 642.91,479.67 643.04,481.25 643.17,483.2 643.3,480.18 643.43,485.83 643.56,485.68 643.69,481.61 643.82,474.67 643.95,491.26 644.08,482.74 644.21,480.25 644.34,478.28 644.47,485.18 644.6,477.96 644.73,479.21 644.86,472.85 644.99,481.84 645.12,477.66 645.25,480.07 645.38,479.87 645.51,474.4 645.64,488.22 645.77,480.24 645.9,478.26 646.03,481 646.16,475.41 646.29,478.47 646.42,483.37 646.55,482.38 646.68,477.41 646.81,483.4 646.94,479.37 647.07,478.17 647.2,480.76 647.33,480.51 647.46,477.97 647.59,481.38 647.72,483.93 647.85,479.52 647.98,480.53 648.11,480.82 648.24,485.32 648.37,484.6 648.5,485.65 648.63,477.33 648.76,476.63 648.89,481.12 649.02,477.86 649.15,484.67 649.28,482.57 649.41,480.03 649.54,479.21 649.67,474.26 649.8,483.1 649.93,479.64 650.06,479.31 650.19,475.45 650.32,480.5 650.45,487.75 650.58,479.78 650.71,482.67 650.84,481.2 650.97,481.53 651.1,484.01 651.23,481 651.36,479.48 651.49,481.68 651.62,479.56 651.75,487.46 651.88,477.03 652.01,484.94 652.14,483.58 652.27,482.97 652.4,479.87 652.53,480.25 652.66,478.89 652.79,477.15 652.92,475.69 653.05,478.3 653.18,478.75 653.31,483.27 653.44,478.16 653.57,481.23 653.7,477.93 653.83,484.64 653.96,481.29 654.09,480.56 654.22,478.45 654.35,478.54 654.48,478 654.61,481.39 654.74,477.39 654.87,482.26 655,477.85 655.13,479.88 655.26,470.82 655.39,479.81 655.52,481.37 655.65,481.72 655.78,478.77 655.91,482.81 656.04,483.19 656.17,479.13 656.3,481.79 656.43,476.09 656.56,488.75 656.69,478.85 656.82,477.17 656.95,479.44 657.08,481.95 657.21,479.94 657.34,477.42 657.47,480.1 657.6,480.96 657.73,479.67 657.86,483.08 657.99,482.7 658.12,481.13 658.25,483.42 658.38,481.22 658.51,477.65 658.64,479.85 658.77,479.72 658.9,475.03 659.03,480.06 659.16,478.35 659.29,484.63 659.42,480.37 659.55,476.94 659.68,477.36 659.81,479.13 659.94,485.57 660.07,482.33 660.2,479.17 660.33,477.84 660.46,481.77 660.59,478.6" fill="none" stroke="#0e70c0" stroke-width="1.2" stroke-linejoin="round" />
<rect x="73.6" y="346.9" width="587.4" height="155.9" fill="none" stroke="#1c1c1c" stroke-width="1.7"/>
<line x1="126.8" y1="502.8" x2="126.8" y2="497.3" stroke="#1c1c1c" stroke-width="1.5" />
<line x1="126.8" y1="346.9" x2="126.8" y2="352.4" stroke="#1c1c1c" stroke-width="1.5" />
<text x="126.8" y="531" font-size="22" text-anchor="middle" >1566</text>
<line x1="233.6" y1="502.8" x2="233.6" y2="497.3" stroke="#1c1c1c" stroke-width="1.5" />
<line x1="233.6" y1="346.9" x2="233.6" y2="352.4" stroke="#1c1c1c" stroke-width="1.5" />
<text x="233.6" y="531" font-size="22" text-anchor="middle" >1567</text>
<line x1="340.4" y1="502.8" x2="340.4" y2="497.3" stroke="#1c1c1c" stroke-width="1.5" />
<line x1="340.4" y1="346.9" x2="340.4" y2="352.4" stroke="#1c1c1c" stroke-width="1.5" />
<text x="340.4" y="531" font-size="22" text-anchor="middle" >1568</text>
<line x1="447.2" y1="502.8" x2="447.2" y2="497.3" stroke="#1c1c1c" stroke-width="1.5" />
<line x1="447.2" y1="346.9" x2="447.2" y2="352.4" stroke="#1c1c1c" stroke-width="1.5" />
<text x="447.2" y="531" font-size="22" text-anchor="middle" >1569</text>
<line x1="554" y1="502.8" x2="554" y2="497.3" stroke="#1c1c1c" stroke-width="1.5" />
<line x1="554" y1="346.9" x2="554" y2="352.4" stroke="#1c1c1c" stroke-width="1.5" />
<text x="554" y="531" font-size="22" text-anchor="middle" >1570</text>
<text x="660.8" y="531" font-size="22" text-anchor="middle" >1571</text>
<text x="68" y="510.8" font-size="22" text-anchor="end" >0</text>
<line x1="73.6" y1="450.83" x2="79.1" y2="450.83" stroke="#1c1c1c" stroke-width="1.5" />
<line x1="661" y1="450.83" x2="655.5" y2="450.83" stroke="#1c1c1c" stroke-width="1.5" />
<text x="68" y="458.83" font-size="22" text-anchor="end" >5</text>
<line x1="73.6" y1="398.87" x2="79.1" y2="398.87" stroke="#1c1c1c" stroke-width="1.5" />
<line x1="661" y1="398.87" x2="655.5" y2="398.87" stroke="#1c1c1c" stroke-width="1.5" />
<text x="68" y="406.87" font-size="22" text-anchor="end" >10</text>
<text x="68" y="354.9" font-size="22" text-anchor="end" >15</text>
<text x="363" y="561" font-size="22" text-anchor="middle" >Time (s)</text>
<text x="111.3" y="393" font-size="17.5" text-anchor="middle" >6 ms</text>
<text x="171.4" y="391" font-size="17.5" text-anchor="middle" >13 ms</text>
<text x="262.4" y="388.7" font-size="17.5" text-anchor="middle" >3 ms</text>
<text x="445.3" y="409" font-size="17.5" text-anchor="middle" >29 ms</text>
<text x="551.8" y="413.7" font-size="17.5" text-anchor="middle" >42 ms</text>
<text x="617.6" y="398.3" font-size="17.5" text-anchor="middle" >54 ms</text>
<line x1="111" y1="398.5" x2="111" y2="412" stroke="#111" stroke-width="1.4" />
<polygon points="107.4,409.8 111,412.6 114.6,409.8 111,418.6" fill="#111" />
<line x1="170.9" y1="398.5" x2="170.9" y2="412" stroke="#111" stroke-width="1.4" />
<polygon points="167.3,409.8 170.9,412.6 174.5,409.8 170.9,418.6" fill="#111" />
<line x1="260.8" y1="398.5" x2="260.8" y2="412" stroke="#111" stroke-width="1.4" />
<polygon points="257.2,409.8 260.8,412.6 264.4,409.8 260.8,418.6" fill="#111" />
<g clip-path="url(#clipC)">
<polygon points="74.32,899.03 75.12,885.55 75.92,870.68 76.71,859.84 77.51,850.84 78.31,842.51 79.1,832.09 79.9,821.55 80.7,812.41 81.49,804.06 82.29,796.17 83.09,787.57 83.89,779.26 84.68,771.81 85.48,764.89 86.28,758.2 87.07,750.7 87.87,744.27 88.67,738.13 89.46,732.31 90.26,726.77 91.06,721.55 91.86,716.63 92.65,712.02 93.45,707.7 94.25,703.69 95.04,699.98 95.84,696.57 96.64,693.48 97.43,690.67 98.23,688.18 99.03,685.97 99.83,684.1 100.62,682.49 101.42,681.21 102.22,680.2 103.01,679.63 103.81,679.21 104.61,679.12 105.4,679.43 106.2,680.09 107,681 107.8,682.05 108.59,683.19 109.39,684.74 110.19,686.77 110.98,689.13 111.78,691.68 112.58,694.32 113.37,697.28 114.17,700.6 114.97,704.12 115.77,707.7 116.56,711.23 117.36,714.78 118.16,718.41 118.95,722.1 119.75,725.83 120.55,729.58 121.34,733.32 122.14,737.04 122.94,740.71 123.74,744.31 124.53,747.76 125.33,750.93 126.13,753.98 126.92,756.61 127.72,759.65 128.52,762.68 129.31,765.97 130.11,769.34 130.91,773.41 131.71,777.61 132.5,783.03 133.3,789.93 134.1,798.68 134.89,806.91 135.69,815.36 136.49,823.4 137.28,832.75 138.08,840.82 138.88,850.12 139.68,860.64 140.47,872.17 140.47,857.6 74.32,857.6" fill="#3b0f0f" fill-opacity="0.11"/>
<polygon points="74.32,897.55 75.12,884.91 75.92,873.36 76.71,860.88 77.51,850.76 78.31,841.85 79.1,834.01 79.9,823.7 80.7,813.71 81.49,804.31 82.29,795.82 83.09,787.6 83.89,779.9 84.68,772.27 85.48,764.76 86.28,757.63 87.07,750.7 87.87,744.27 88.67,738.13 89.46,732.31 90.26,726.77 91.06,721.55 91.86,716.63 92.65,712.02 93.45,707.7 94.25,703.69 95.04,699.98 95.84,696.57 96.64,693.48 97.43,690.67 98.23,688.18 99.03,685.97 99.83,684.1 100.62,682.49 101.42,681.21 102.22,680.2 103.01,679.63 103.81,679.21 104.61,679.11 105.4,679.42 106.2,680.04 107,680.91 107.8,681.93 108.59,683.04 109.39,684.61 110.19,686.68 110.98,689.1 111.78,691.69 112.58,694.31 113.37,697.25 114.17,700.51 114.97,703.9 115.77,707.25 116.56,710.38 117.36,713.39 118.16,716.34 118.95,719.25 119.75,722.13 120.55,724.98 121.34,727.82 122.14,730.65 122.94,733.42 123.74,736.14 124.53,738.85 125.33,741.61 126.13,744.46 126.92,747.41 127.72,750.37 128.52,753.22 129.31,756.72 130.11,759.69 130.91,762.98 131.71,766.06 132.5,768.96 133.3,771.94 134.1,775.71 134.89,779.86 135.69,783.74 136.49,787.69 137.28,791.76 138.08,796.57 138.88,800.34 139.68,804.43 140.47,808.71 141.27,813.35 142.07,817.36 142.86,821.67 143.66,825.9 144.46,830.36 145.25,832.12 146.05,835.56 146.85,839.62 147.65,845.08 148.44,848.84 149.24,853.46 150.04,864.58 150.04,857.6 74.32,857.6" fill="#6d2008" fill-opacity="0.11"/>
<polygon points="74.03,893.5 74.82,881.76 75.62,875.07 76.42,862.31 77.21,850.33 78.01,840.36 78.81,831.93 79.61,822.88 80.4,813.82 81.2,804.32 82,795.95 82.79,788.15 83.59,781 84.39,773.01 85.18,765.5 85.98,758.75 86.78,752.55 87.58,745.31 88.37,739.18 89.17,733.36 89.97,727.82 90.76,722.6 91.56,717.65 92.36,713.02 93.15,708.67 93.95,704.64 94.75,700.88 95.55,697.44 96.34,694.28 97.14,691.43 97.94,688.87 98.73,686.61 99.53,684.65 100.33,682.97 101.12,681.62 101.92,680.49 102.72,679.81 103.52,679.33 104.31,679.1 105.11,679.26 105.91,679.78 106.7,680.58 107.5,681.55 108.3,682.61 109.09,683.93 109.89,685.78 110.69,688 111.49,690.45 112.28,692.98 113.08,695.73 113.88,698.93 114.67,702.31 115.47,705.61 116.27,708.57 117.06,711.13 117.86,713.52 118.66,715.76 119.46,717.91 120.25,719.99 121.05,722.05 121.85,724.13 122.64,726.27 123.44,728.5 124.24,730.85 125.03,733.26 125.83,735.71 126.63,738.22 127.43,740.81 128.22,743.48 129.02,746.27 129.82,749.2 130.61,751.87 131.41,754.87 132.21,757.85 133,761.19 133.8,764.83 134.6,768.51 135.4,771.87 136.19,775.1 136.99,778.09 137.79,780.95 138.58,784.05 139.38,787.58 140.18,790.47 140.97,793.14 141.77,795.35 142.57,798.83 143.37,801.19 144.16,803.96 144.96,806.41 145.76,809.69 146.55,812.58 147.35,815.32 148.15,817.97 148.94,820.86 149.74,822.46 150.54,824.35 151.34,825.64 152.13,828.13 152.93,831.46 153.73,833.32 154.52,835.92 155.32,836.99 156.12,840.16 156.91,843.95 157.71,846.62 158.51,851.58 159.31,857.28 160.1,869.53 160.9,880.08 160.9,857.6 74.03,857.6" fill="#b23e0c" fill-opacity="0.11"/>
<polygon points="69.33,833.27 70.13,829.21 70.93,826.16 71.72,820.48 72.52,818.44 73.32,815.54 74.11,814.12 74.91,811.54 75.71,808.29 76.5,805.33 77.3,801.87 78.1,797.56 78.9,793.49 79.69,790.19 80.49,787.22 81.29,783.11 82.08,778.1 82.88,773.22 83.68,768.32 84.47,762.65 85.27,758.5 86.07,753.44 86.87,746.69 87.66,741.65 88.46,736.66 89.26,731.75 90.05,727.02 90.85,722.33 91.65,717.61 92.44,712.98 93.24,708.57 94.04,704.5 94.84,700.88 95.63,697.53 96.43,694.27 97.23,691.22 98.02,688.5 98.82,686.23 99.62,684.55 100.41,683.2 101.21,681.92 102.01,680.8 102.81,679.91 103.6,679.31 104.4,679.1 105.2,679.29 105.99,679.8 106.79,680.55 107.59,681.43 108.38,682.37 109.18,683.49 109.98,684.96 110.78,686.65 111.57,688.48 112.37,690.35 113.17,692.34 113.96,694.54 114.76,696.83 115.56,699.12 116.35,701.33 117.15,703.52 117.95,705.71 118.75,707.9 119.54,710.11 120.34,712.33 121.14,714.57 121.93,716.85 122.73,719.18 123.53,721.55 124.32,723.95 125.12,726.35 125.92,728.74 126.72,731.11 127.51,733.55 128.31,736 129.11,738.36 129.9,740.54 130.7,742.47 131.5,744.25 132.29,745.9 133.09,747.46 133.89,748.96 134.69,750.41 135.48,751.14 136.28,752.94 137.08,754.75 137.87,757.18 138.67,758.73 139.47,759.4 140.26,760.97 141.06,762.08 141.86,764.49 142.66,765.94 143.45,768.15 144.25,771.1 145.05,773.26 145.84,774.76 146.64,776.42 147.44,778.35 148.23,781.09 149.03,781.98 149.83,783.79 150.63,783.8 151.42,785.28 152.22,786.58 153.02,787.5 153.81,787.78 154.61,787.67 155.41,789.25 156.2,790.85 157,792.15 157.8,792.99 158.6,793.29 159.39,793.69 160.19,794.98 160.99,796.72 161.78,798.33 162.58,798.91 163.38,798.98 164.17,800.1 164.97,801.95 165.77,803.08 166.57,803.56 167.36,803.97 168.16,806.29 168.96,807.84 169.75,809.43 170.55,809.61 171.35,811.24 172.14,811.27 172.94,812.17 173.74,812.01 174.54,814.21 175.33,815.32 176.13,815.71 176.93,816.84 177.72,817.5 178.52,818.82 179.32,819.02 180.11,819.44 180.91,821.14 181.71,820.41 182.51,821.5 183.3,821.71 184.1,821.49 184.9,821.47 185.69,820.61 186.49,823.92 187.29,825.54 188.08,826.15 188.88,824.18 189.68,823.68 190.48,823.83 191.27,825.91 192.07,825.73 192.87,827.81 193.66,826.5 194.46,827.37 195.26,827.02 196.05,827.53 196.85,825.36 197.65,826.11 198.45,827.26 199.24,828.61 200.04,828.53 200.84,826.39 201.63,827.98 202.43,827.96 203.23,830.3 204.02,828.98 204.82,828.77 205.62,829.02 206.42,831.4 207.21,834.74 208.01,837.02 208.81,835.68 209.6,832.69 210.4,831.02 211.2,832.47 211.99,834.66 212.79,835.16 213.59,837.64 214.39,836.56 215.18,838.38 215.98,837.66 216.78,837.87 217.57,837.6 218.37,836.63 219.17,836.96 219.96,836.26 220.76,835.56 221.56,838.96 222.36,842.47 223.15,844.04 223.95,840.56 224.75,835.04 225.54,835.15 226.34,835.68 227.14,840.93 227.93,841.31 228.73,841.93 229.53,842.57 230.33,845.81 231.12,847.57 231.92,845.57 232.72,849.66 233.51,849.8 234.31,850.42 235.11,845.85 235.9,846 236.7,846.08 237.5,848.22 238.3,848.57 239.09,850.74 239.89,851.58 240.69,853.22 241.48,851.02 242.28,855.47 243.08,866.36 243.87,883.81 243.87,857.6 69.33,857.6" fill="#fb5e0c" fill-opacity="0.11"/>
<polygon points="73.44,889.04 74.23,887.66 75.03,878.55 75.83,872.4 76.62,858.69 77.42,845.67 78.22,835.44 79.02,826.75 79.81,817.36 80.61,807.41 81.41,798.36 82.2,789.29 83,780.76 83.8,772.8 84.59,765.45 85.39,759.78 86.19,753.94 86.99,747.35 87.78,741.25 88.58,735.43 89.38,729.9 90.17,724.65 90.97,719.69 91.77,715.02 92.56,710.62 93.36,706.53 94.16,702.7 94.96,699.18 95.75,695.93 96.55,692.97 97.35,690.29 98.14,687.91 98.94,685.8 99.74,684 100.53,682.45 101.33,681.21 102.13,680.22 102.93,679.65 103.72,679.24 104.52,679.1 105.32,679.18 106.11,679.37 106.91,679.63 107.71,679.93 108.5,680.24 109.3,680.61 110.1,681.08 110.9,681.61 111.69,682.2 112.49,682.83 113.29,683.5 114.08,684.25 114.88,685.07 115.68,685.97 116.47,686.93 117.27,687.97 118.07,689.15 118.87,690.49 119.66,691.94 120.46,693.47 121.26,695.05 122.05,696.64 122.85,698.21 123.65,699.81 124.44,701.46 125.24,703.15 126.04,704.86 126.84,706.55 127.63,708.22 128.43,709.83 129.23,711.4 130.02,712.95 130.82,714.47 131.62,715.99 132.41,717.49 133.21,719 134.01,720.5 134.81,722.02 135.6,723.54 136.4,725.05 137.2,726.54 137.99,727.99 138.79,729.4 139.59,730.74 140.38,732.02 141.18,733.26 141.98,734.5 142.78,735.75 143.57,737.05 144.37,738.42 145.17,739.89 145.96,741.48 146.76,743.16 147.56,744.93 148.35,746.75 149.15,748.6 149.95,750.46 150.75,750.29 151.54,753.28 152.34,756.78 153.14,758.25 153.93,760.33 154.73,760.62 155.53,762.33 156.32,762.74 157.12,763 157.92,763.7 158.72,764.65 159.51,766.9 160.31,768.23 161.11,769.55 161.9,771.23 162.7,771.51 163.5,773.38 164.29,774.46 165.09,775.89 165.89,775.72 166.69,776.75 167.48,779.26 168.28,780.14 169.08,781.14 169.87,783.28 170.67,786.65 171.47,787.15 172.26,787.26 173.06,788.03 173.86,789.9 174.66,791.37 175.45,793.44 176.25,796.43 177.05,798.12 177.84,800.15 178.64,801.05 179.44,802.13 180.23,803.1 181.03,805.05 181.83,808.1 182.63,810.31 183.42,812.21 184.22,815.2 185.02,817.74 185.81,819.17 186.61,819.22 187.41,821.68 188.2,825.64 189,830.31 189.8,832.15 190.6,831.15 191.39,830.15 192.19,831.49 192.99,835.65 193.78,837.02 194.58,837.23 195.38,838.11 196.17,840.29 196.97,840.27 197.77,838.25 198.57,838.85 199.36,841.73 200.16,843.19 200.96,845.58 201.75,846.41 202.55,849.96 203.35,847.61 204.14,847.63 204.94,849.18 205.74,849.45 206.54,851.73 207.33,853.88 208.13,858.92 208.93,855.42 209.72,855.66 210.52,850.88 211.32,851.2 212.11,846.19 212.91,847.57 213.71,850.15 214.51,851.71 215.3,852.66 216.1,854.27 216.9,851.98 217.69,852.7 218.49,846.48 219.29,848.12 220.08,847.35 220.88,850.28 221.68,848.91 222.48,850.94 223.27,853.93 224.07,858.89 224.87,855.92 225.66,853.45 226.46,852.56 227.26,861.03 228.05,873.44 228.05,857.6 73.44,857.6" fill="#fd9336" fill-opacity="0.11"/>
<polygon points="72.55,886.35 73.35,884.42 74.15,875.47 74.94,864.71 75.74,851.29 76.54,840.21 77.33,831.02 78.13,824.28 78.93,817.87 79.72,808.91 80.52,800.07 81.32,791.16 82.12,784.23 82.91,777.4 83.71,770.54 84.51,762.78 85.3,755.48 86.1,750.33 86.9,744.27 87.69,738.46 88.49,732.94 89.29,727.67 90.09,722.69 90.88,717.97 91.68,713.52 92.48,709.34 93.27,705.44 94.07,701.79 94.87,698.43 95.66,695.33 96.46,692.51 97.26,689.94 98.06,687.67 98.85,685.64 99.65,683.91 100.45,682.41 101.24,681.22 102.04,680.24 102.84,679.68 103.63,679.26 104.43,679.1 105.23,679.19 106.03,679.42 106.82,679.75 107.62,680.15 108.42,680.57 109.21,681.09 110.01,681.76 110.81,682.58 111.6,683.53 112.4,684.59 113.2,685.95 114,687.68 114.79,689.64 115.59,691.69 116.39,693.7 117.18,695.74 117.98,697.85 118.78,699.89 119.57,701.8 120.37,703.64 121.17,705.43 121.97,707.2 122.76,708.96 123.56,710.75 124.36,712.57 125.15,714.45 125.95,716.38 126.75,718.32 127.54,720.26 128.34,722.18 129.14,724.04 129.94,725.82 130.73,727.54 131.53,729.21 132.33,730.84 133.12,732.45 133.92,734.02 134.72,735.57 135.51,737.11 136.31,738.63 137.11,740.14 137.91,741.63 138.7,743.08 139.5,744.51 140.3,745.91 141.09,747.31 141.89,748.72 142.69,750.13 143.48,751.57 144.28,751.4 145.08,753.75 145.88,755.2 146.67,757.03 147.47,758.32 148.27,760.73 149.06,762.51 149.86,763.46 150.66,764.31 151.45,764.76 152.25,766.89 153.05,768.41 153.85,771.07 154.64,771.59 155.44,772.74 156.24,773.66 157.03,775.51 157.83,776.67 158.63,776.86 159.42,775.96 160.22,775.61 161.02,776.76 161.82,778.15 162.61,778.86 163.41,778.55 164.21,778.36 165,777.93 165.8,777.6 166.6,777.75 167.39,778.84 168.19,778.81 168.99,779.01 169.79,777.77 170.58,777.07 171.38,776.48 172.18,776.03 172.97,775.89 173.77,773.75 174.57,772.93 175.36,773.14 176.16,773.25 176.96,772.6 177.76,771.05 178.55,770.8 179.35,770.08 180.15,769.08 180.94,768.1 181.74,768.32 182.54,768.21 183.33,768.72 184.13,768.6 184.93,768.56 185.73,768.3 186.52,767.8 187.32,766.33 188.12,765.65 188.91,766.02 189.71,768.65 190.51,769.74 191.3,770.53 192.1,771.13 192.9,770.9 193.7,770.96 194.49,770.15 195.29,769.49 196.09,769.68 196.88,770.43 197.68,772.44 198.48,773.34 199.27,774.47 200.07,775.42 200.87,775.39 201.67,775.82 202.46,777.15 203.26,779.14 204.06,780.33 204.85,780.49 205.65,780.53 206.45,780.73 207.24,781.15 208.04,782.55 208.84,783.44 209.64,784.97 210.43,785.6 211.23,788.07 212.03,788.69 212.82,790.91 213.62,791.59 214.42,792.88 215.21,793.33 216.01,792.9 216.81,794.28 217.61,795.7 218.4,797.66 219.2,799.11 220,799.01 220.79,799.53 221.59,800.29 222.39,802.86 223.18,805.41 223.98,807.14 224.78,809.32 225.58,811.76 226.37,813.82 227.17,814.82 227.97,816.08 228.76,818.26 229.56,821.48 230.36,821.29 231.15,821.9 231.95,822.09 232.75,824.68 233.55,825.93 234.34,823.59 235.14,822.35 235.94,823.22 236.73,823.55 237.53,823.38 238.33,823.56 239.12,828.7 239.92,829.62 240.72,829.64 241.52,827.35 242.31,829.4 243.11,827.68 243.91,826.14 244.7,824.85 245.5,826.7 246.3,828.32 247.09,828.74 247.89,830.62 248.69,829.64 249.49,830.96 250.28,828.94 251.08,830.5 251.88,829.23 252.67,828.47 253.47,826.1 254.27,827.88 255.06,830.59 255.86,833.47 256.66,834.11 257.46,832.07 258.25,833.55 259.05,832.78 259.85,832.95 260.64,830.79 261.44,830.98 262.24,830.63 263.03,830.57 263.83,833.58 264.63,835.47 265.43,837.51 266.22,835.96 267.02,837.94 267.82,838.72 268.61,838.37 269.41,837.78 270.21,836.62 271,836.66 271.8,839.29 272.6,844.38 273.4,846.25 274.19,848.22 274.99,848.28 275.79,851.04 276.58,849.87 277.38,852.03 278.18,853.03 278.97,860.55 279.77,864.3 280.57,875.02 280.57,857.6 72.55,857.6" fill="#fec44f" fill-opacity="0.11"/>
<polygon points="75.71,883.37 76.19,876.56 76.67,869.87 77.15,863.29 77.64,856.83 78.12,850.48 78.6,844.25 79.08,838.13 79.57,832.13 80.05,826.25 80.53,820.48 81.01,814.82 81.49,809.28 81.98,803.86 82.46,798.55 82.94,793.36 83.42,788.28 83.91,783.32 84.39,778.47 84.87,773.74 85.35,769.12 85.83,764.62 86.32,760.24 86.8,755.97 87.28,751.82 87.76,747.78 88.25,743.85 88.73,740.04 89.21,736.35 89.69,732.77 90.17,729.31 90.66,725.97 91.14,722.73 91.62,719.62 92.1,716.62 92.59,713.73 93.07,710.96 93.55,708.31 94.03,705.77 94.51,703.35 95,701.04 95.48,698.85 95.96,696.77 96.44,694.81 96.93,692.96 97.41,691.23 97.89,689.62 98.37,688.12 98.85,686.73 99.34,685.46 99.82,684.31 100.3,683.27 100.78,682.35 101.27,681.54 101.75,680.85 102.23,680.27 102.71,679.81 103.19,679.46 103.68,679.23 104.16,679.11 104.64,679.11 105.12,679.23 105.61,679.46 106.09,679.81 106.57,680.27 107.05,680.85 107.53,681.54 108.02,682.35 108.5,683.27 108.98,684.31 109.46,685.46 109.95,686.73 110.43,688.12 110.91,689.62 111.39,691.23 111.87,692.96 112.36,694.81 112.84,696.77 113.32,698.85 113.8,701.04 114.29,703.35 114.77,705.77 115.25,708.31 115.73,710.96 116.21,713.73 116.7,716.62 117.18,719.62 117.66,722.73 118.14,725.97 118.63,729.31 119.11,732.77 119.59,736.35 120.07,740.04 120.55,743.85 121.04,747.78 121.52,751.82 122,755.97 122.48,760.24 122.97,764.62 123.45,769.12 123.93,773.74 124.41,778.47 124.89,783.32 125.38,788.28 125.86,793.36 126.34,798.55 126.82,803.86 127.31,809.28 127.79,814.82 128.27,820.48 128.75,826.25 129.23,832.13 129.72,838.13 130.2,844.25 130.68,850.48 131.16,856.83 131.65,863.29 132.13,869.87 132.61,876.56 133.09,883.37" fill="#93d1ea" />
<polyline points="75.71,883.37 76.19,876.56 76.67,869.87 77.15,863.29 77.64,856.83 78.12,850.48 78.6,844.25 79.08,838.13 79.57,832.13 80.05,826.25 80.53,820.48 81.01,814.82 81.49,809.28 81.98,803.86 82.46,798.55 82.94,793.36 83.42,788.28 83.91,783.32 84.39,778.47 84.87,773.74 85.35,769.12 85.83,764.62 86.32,760.24 86.8,755.97 87.28,751.82 87.76,747.78 88.25,743.85 88.73,740.04 89.21,736.35 89.69,732.77 90.17,729.31 90.66,725.97 91.14,722.73 91.62,719.62 92.1,716.62 92.59,713.73 93.07,710.96 93.55,708.31 94.03,705.77 94.51,703.35 95,701.04 95.48,698.85 95.96,696.77 96.44,694.81 96.93,692.96 97.41,691.23 97.89,689.62 98.37,688.12 98.85,686.73 99.34,685.46 99.82,684.31 100.3,683.27 100.78,682.35 101.27,681.54 101.75,680.85 102.23,680.27 102.71,679.81 103.19,679.46 103.68,679.23 104.16,679.11 104.64,679.11 105.12,679.23 105.61,679.46 106.09,679.81 106.57,680.27 107.05,680.85 107.53,681.54 108.02,682.35 108.5,683.27 108.98,684.31 109.46,685.46 109.95,686.73 110.43,688.12 110.91,689.62 111.39,691.23 111.87,692.96 112.36,694.81 112.84,696.77 113.32,698.85 113.8,701.04 114.29,703.35 114.77,705.77 115.25,708.31 115.73,710.96 116.21,713.73 116.7,716.62 117.18,719.62 117.66,722.73 118.14,725.97 118.63,729.31 119.11,732.77 119.59,736.35 120.07,740.04 120.55,743.85 121.04,747.78 121.52,751.82 122,755.97 122.48,760.24 122.97,764.62 123.45,769.12 123.93,773.74 124.41,778.47 124.89,783.32 125.38,788.28 125.86,793.36 126.34,798.55 126.82,803.86 127.31,809.28 127.79,814.82 128.27,820.48 128.75,826.25 129.23,832.13 129.72,838.13 130.2,844.25 130.68,850.48 131.16,856.83 131.65,863.29 132.13,869.87 132.61,876.56 133.09,883.37" fill="none" stroke="#2c7cc0" stroke-width="0.9" stroke-linejoin="round" />
<polyline points="74.32,899.03 75.12,885.55 75.92,870.68 76.71,859.84 77.51,850.84 78.31,842.51 79.1,832.09 79.9,821.55 80.7,812.41 81.49,804.06 82.29,796.17 83.09,787.57 83.89,779.26 84.68,771.81 85.48,764.89 86.28,758.2 87.07,750.7 87.87,744.27 88.67,738.13 89.46,732.31 90.26,726.77 91.06,721.55 91.86,716.63 92.65,712.02 93.45,707.7 94.25,703.69 95.04,699.98 95.84,696.57 96.64,693.48 97.43,690.67 98.23,688.18 99.03,685.97 99.83,684.1 100.62,682.49 101.42,681.21 102.22,680.2 103.01,679.63 103.81,679.21 104.61,679.12 105.4,679.43 106.2,680.09 107,681 107.8,682.05 108.59,683.19 109.39,684.74 110.19,686.77 110.98,689.13 111.78,691.68 112.58,694.32 113.37,697.28 114.17,700.6 114.97,704.12 115.77,707.7 116.56,711.23 117.36,714.78 118.16,718.41 118.95,722.1 119.75,725.83 120.55,729.58 121.34,733.32 122.14,737.04 122.94,740.71 123.74,744.31 124.53,747.76 125.33,750.93 126.13,753.98 126.92,756.61 127.72,759.65 128.52,762.68 129.31,765.97 130.11,769.34 130.91,773.41 131.71,777.61 132.5,783.03 133.3,789.93 134.1,798.68 134.89,806.91 135.69,815.36 136.49,823.4 137.28,832.75 138.08,840.82 138.88,850.12 139.68,860.64 140.47,872.17" fill="none" stroke="#3b0f0f" stroke-width="2.9" stroke-linejoin="round" stroke-linecap="round"/>
<polyline points="74.32,897.55 75.12,884.91 75.92,873.36 76.71,860.88 77.51,850.76 78.31,841.85 79.1,834.01 79.9,823.7 80.7,813.71 81.49,804.31 82.29,795.82 83.09,787.6 83.89,779.9 84.68,772.27 85.48,764.76 86.28,757.63 87.07,750.7 87.87,744.27 88.67,738.13 89.46,732.31 90.26,726.77 91.06,721.55 91.86,716.63 92.65,712.02 93.45,707.7 94.25,703.69 95.04,699.98 95.84,696.57 96.64,693.48 97.43,690.67 98.23,688.18 99.03,685.97 99.83,684.1 100.62,682.49 101.42,681.21 102.22,680.2 103.01,679.63 103.81,679.21 104.61,679.11 105.4,679.42 106.2,680.04 107,680.91 107.8,681.93 108.59,683.04 109.39,684.61 110.19,686.68 110.98,689.1 111.78,691.69 112.58,694.31 113.37,697.25 114.17,700.51 114.97,703.9 115.77,707.25 116.56,710.38 117.36,713.39 118.16,716.34 118.95,719.25 119.75,722.13 120.55,724.98 121.34,727.82 122.14,730.65 122.94,733.42 123.74,736.14 124.53,738.85 125.33,741.61 126.13,744.46 126.92,747.41 127.72,750.37 128.52,753.22 129.31,756.72 130.11,759.69 130.91,762.98 131.71,766.06 132.5,768.96 133.3,771.94 134.1,775.71 134.89,779.86 135.69,783.74 136.49,787.69 137.28,791.76 138.08,796.57 138.88,800.34 139.68,804.43 140.47,808.71 141.27,813.35 142.07,817.36 142.86,821.67 143.66,825.9 144.46,830.36 145.25,832.12 146.05,835.56 146.85,839.62 147.65,845.08 148.44,848.84 149.24,853.46 150.04,864.58" fill="none" stroke="#6d2008" stroke-width="2.9" stroke-linejoin="round" stroke-linecap="round"/>
<polyline points="74.03,893.5 74.82,881.76 75.62,875.07 76.42,862.31 77.21,850.33 78.01,840.36 78.81,831.93 79.61,822.88 80.4,813.82 81.2,804.32 82,795.95 82.79,788.15 83.59,781 84.39,773.01 85.18,765.5 85.98,758.75 86.78,752.55 87.58,745.31 88.37,739.18 89.17,733.36 89.97,727.82 90.76,722.6 91.56,717.65 92.36,713.02 93.15,708.67 93.95,704.64 94.75,700.88 95.55,697.44 96.34,694.28 97.14,691.43 97.94,688.87 98.73,686.61 99.53,684.65 100.33,682.97 101.12,681.62 101.92,680.49 102.72,679.81 103.52,679.33 104.31,679.1 105.11,679.26 105.91,679.78 106.7,680.58 107.5,681.55 108.3,682.61 109.09,683.93 109.89,685.78 110.69,688 111.49,690.45 112.28,692.98 113.08,695.73 113.88,698.93 114.67,702.31 115.47,705.61 116.27,708.57 117.06,711.13 117.86,713.52 118.66,715.76 119.46,717.91 120.25,719.99 121.05,722.05 121.85,724.13 122.64,726.27 123.44,728.5 124.24,730.85 125.03,733.26 125.83,735.71 126.63,738.22 127.43,740.81 128.22,743.48 129.02,746.27 129.82,749.2 130.61,751.87 131.41,754.87 132.21,757.85 133,761.19 133.8,764.83 134.6,768.51 135.4,771.87 136.19,775.1 136.99,778.09 137.79,780.95 138.58,784.05 139.38,787.58 140.18,790.47 140.97,793.14 141.77,795.35 142.57,798.83 143.37,801.19 144.16,803.96 144.96,806.41 145.76,809.69 146.55,812.58 147.35,815.32 148.15,817.97 148.94,820.86 149.74,822.46 150.54,824.35 151.34,825.64 152.13,828.13 152.93,831.46 153.73,833.32 154.52,835.92 155.32,836.99 156.12,840.16 156.91,843.95 157.71,846.62 158.51,851.58 159.31,857.28 160.1,869.53 160.9,880.08" fill="none" stroke="#b23e0c" stroke-width="2.9" stroke-linejoin="round" stroke-linecap="round"/>
<polyline points="69.33,833.27 70.13,829.21 70.93,826.16 71.72,820.48 72.52,818.44 73.32,815.54 74.11,814.12 74.91,811.54 75.71,808.29 76.5,805.33 77.3,801.87 78.1,797.56 78.9,793.49 79.69,790.19 80.49,787.22 81.29,783.11 82.08,778.1 82.88,773.22 83.68,768.32 84.47,762.65 85.27,758.5 86.07,753.44 86.87,746.69 87.66,741.65 88.46,736.66 89.26,731.75 90.05,727.02 90.85,722.33 91.65,717.61 92.44,712.98 93.24,708.57 94.04,704.5 94.84,700.88 95.63,697.53 96.43,694.27 97.23,691.22 98.02,688.5 98.82,686.23 99.62,684.55 100.41,683.2 101.21,681.92 102.01,680.8 102.81,679.91 103.6,679.31 104.4,679.1 105.2,679.29 105.99,679.8 106.79,680.55 107.59,681.43 108.38,682.37 109.18,683.49 109.98,684.96 110.78,686.65 111.57,688.48 112.37,690.35 113.17,692.34 113.96,694.54 114.76,696.83 115.56,699.12 116.35,701.33 117.15,703.52 117.95,705.71 118.75,707.9 119.54,710.11 120.34,712.33 121.14,714.57 121.93,716.85 122.73,719.18 123.53,721.55 124.32,723.95 125.12,726.35 125.92,728.74 126.72,731.11 127.51,733.55 128.31,736 129.11,738.36 129.9,740.54 130.7,742.47 131.5,744.25 132.29,745.9 133.09,747.46 133.89,748.96 134.69,750.41 135.48,751.14 136.28,752.94 137.08,754.75 137.87,757.18 138.67,758.73 139.47,759.4 140.26,760.97 141.06,762.08 141.86,764.49 142.66,765.94 143.45,768.15 144.25,771.1 145.05,773.26 145.84,774.76 146.64,776.42 147.44,778.35 148.23,781.09 149.03,781.98 149.83,783.79 150.63,783.8 151.42,785.28 152.22,786.58 153.02,787.5 153.81,787.78 154.61,787.67 155.41,789.25 156.2,790.85 157,792.15 157.8,792.99 158.6,793.29 159.39,793.69 160.19,794.98 160.99,796.72 161.78,798.33 162.58,798.91 163.38,798.98 164.17,800.1 164.97,801.95 165.77,803.08 166.57,803.56 167.36,803.97 168.16,806.29 168.96,807.84 169.75,809.43 170.55,809.61 171.35,811.24 172.14,811.27 172.94,812.17 173.74,812.01 174.54,814.21 175.33,815.32 176.13,815.71 176.93,816.84 177.72,817.5 178.52,818.82 179.32,819.02 180.11,819.44 180.91,821.14 181.71,820.41 182.51,821.5 183.3,821.71 184.1,821.49 184.9,821.47 185.69,820.61 186.49,823.92 187.29,825.54 188.08,826.15 188.88,824.18 189.68,823.68 190.48,823.83 191.27,825.91 192.07,825.73 192.87,827.81 193.66,826.5 194.46,827.37 195.26,827.02 196.05,827.53 196.85,825.36 197.65,826.11 198.45,827.26 199.24,828.61 200.04,828.53 200.84,826.39 201.63,827.98 202.43,827.96 203.23,830.3 204.02,828.98 204.82,828.77 205.62,829.02 206.42,831.4 207.21,834.74 208.01,837.02 208.81,835.68 209.6,832.69 210.4,831.02 211.2,832.47 211.99,834.66 212.79,835.16 213.59,837.64 214.39,836.56 215.18,838.38 215.98,837.66 216.78,837.87 217.57,837.6 218.37,836.63 219.17,836.96 219.96,836.26 220.76,835.56 221.56,838.96 222.36,842.47 223.15,844.04 223.95,840.56 224.75,835.04 225.54,835.15 226.34,835.68 227.14,840.93 227.93,841.31 228.73,841.93 229.53,842.57 230.33,845.81 231.12,847.57 231.92,845.57 232.72,849.66 233.51,849.8 234.31,850.42 235.11,845.85 235.9,846 236.7,846.08 237.5,848.22 238.3,848.57 239.09,850.74 239.89,851.58 240.69,853.22 241.48,851.02 242.28,855.47 243.08,866.36 243.87,883.81" fill="none" stroke="#fb5e0c" stroke-width="2.9" stroke-linejoin="round" stroke-linecap="round"/>
<polyline points="73.44,889.04 74.23,887.66 75.03,878.55 75.83,872.4 76.62,858.69 77.42,845.67 78.22,835.44 79.02,826.75 79.81,817.36 80.61,807.41 81.41,798.36 82.2,789.29 83,780.76 83.8,772.8 84.59,765.45 85.39,759.78 86.19,753.94 86.99,747.35 87.78,741.25 88.58,735.43 89.38,729.9 90.17,724.65 90.97,719.69 91.77,715.02 92.56,710.62 93.36,706.53 94.16,702.7 94.96,699.18 95.75,695.93 96.55,692.97 97.35,690.29 98.14,687.91 98.94,685.8 99.74,684 100.53,682.45 101.33,681.21 102.13,680.22 102.93,679.65 103.72,679.24 104.52,679.1 105.32,679.18 106.11,679.37 106.91,679.63 107.71,679.93 108.5,680.24 109.3,680.61 110.1,681.08 110.9,681.61 111.69,682.2 112.49,682.83 113.29,683.5 114.08,684.25 114.88,685.07 115.68,685.97 116.47,686.93 117.27,687.97 118.07,689.15 118.87,690.49 119.66,691.94 120.46,693.47 121.26,695.05 122.05,696.64 122.85,698.21 123.65,699.81 124.44,701.46 125.24,703.15 126.04,704.86 126.84,706.55 127.63,708.22 128.43,709.83 129.23,711.4 130.02,712.95 130.82,714.47 131.62,715.99 132.41,717.49 133.21,719 134.01,720.5 134.81,722.02 135.6,723.54 136.4,725.05 137.2,726.54 137.99,727.99 138.79,729.4 139.59,730.74 140.38,732.02 141.18,733.26 141.98,734.5 142.78,735.75 143.57,737.05 144.37,738.42 145.17,739.89 145.96,741.48 146.76,743.16 147.56,744.93 148.35,746.75 149.15,748.6 149.95,750.46 150.75,750.29 151.54,753.28 152.34,756.78 153.14,758.25 153.93,760.33 154.73,760.62 155.53,762.33 156.32,762.74 157.12,763 157.92,763.7 158.72,764.65 159.51,766.9 160.31,768.23 161.11,769.55 161.9,771.23 162.7,771.51 163.5,773.38 164.29,774.46 165.09,775.89 165.89,775.72 166.69,776.75 167.48,779.26 168.28,780.14 169.08,781.14 169.87,783.28 170.67,786.65 171.47,787.15 172.26,787.26 173.06,788.03 173.86,789.9 174.66,791.37 175.45,793.44 176.25,796.43 177.05,798.12 177.84,800.15 178.64,801.05 179.44,802.13 180.23,803.1 181.03,805.05 181.83,808.1 182.63,810.31 183.42,812.21 184.22,815.2 185.02,817.74 185.81,819.17 186.61,819.22 187.41,821.68 188.2,825.64 189,830.31 189.8,832.15 190.6,831.15 191.39,830.15 192.19,831.49 192.99,835.65 193.78,837.02 194.58,837.23 195.38,838.11 196.17,840.29 196.97,840.27 197.77,838.25 198.57,838.85 199.36,841.73 200.16,843.19 200.96,845.58 201.75,846.41 202.55,849.96 203.35,847.61 204.14,847.63 204.94,849.18 205.74,849.45 206.54,851.73 207.33,853.88 208.13,858.92 208.93,855.42 209.72,855.66 210.52,850.88 211.32,851.2 212.11,846.19 212.91,847.57 213.71,850.15 214.51,851.71 215.3,852.66 216.1,854.27 216.9,851.98 217.69,852.7 218.49,846.48 219.29,848.12 220.08,847.35 220.88,850.28 221.68,848.91 222.48,850.94 223.27,853.93 224.07,858.89 224.87,855.92 225.66,853.45 226.46,852.56 227.26,861.03 228.05,873.44" fill="none" stroke="#fd9336" stroke-width="2.9" stroke-linejoin="round" stroke-linecap="round"/>
<polyline points="72.55,886.35 73.35,884.42 74.15,875.47 74.94,864.71 75.74,851.29 76.54,840.21 77.33,831.02 78.13,824.28 78.93,817.87 79.72,808.91 80.52,800.07 81.32,791.16 82.12,784.23 82.91,777.4 83.71,770.54 84.51,762.78 85.3,755.48 86.1,750.33 86.9,744.27 87.69,738.46 88.49,732.94 89.29,727.67 90.09,722.69 90.88,717.97 91.68,713.52 92.48,709.34 93.27,705.44 94.07,701.79 94.87,698.43 95.66,695.33 96.46,692.51 97.26,689.94 98.06,687.67 98.85,685.64 99.65,683.91 100.45,682.41 101.24,681.22 102.04,680.24 102.84,679.68 103.63,679.26 104.43,679.1 105.23,679.19 106.03,679.42 106.82,679.75 107.62,680.15 108.42,680.57 109.21,681.09 110.01,681.76 110.81,682.58 111.6,683.53 112.4,684.59 113.2,685.95 114,687.68 114.79,689.64 115.59,691.69 116.39,693.7 117.18,695.74 117.98,697.85 118.78,699.89 119.57,701.8 120.37,703.64 121.17,705.43 121.97,707.2 122.76,708.96 123.56,710.75 124.36,712.57 125.15,714.45 125.95,716.38 126.75,718.32 127.54,720.26 128.34,722.18 129.14,724.04 129.94,725.82 130.73,727.54 131.53,729.21 132.33,730.84 133.12,732.45 133.92,734.02 134.72,735.57 135.51,737.11 136.31,738.63 137.11,740.14 137.91,741.63 138.7,743.08 139.5,744.51 140.3,745.91 141.09,747.31 141.89,748.72 142.69,750.13 143.48,751.57 144.28,751.4 145.08,753.75 145.88,755.2 146.67,757.03 147.47,758.32 148.27,760.73 149.06,762.51 149.86,763.46 150.66,764.31 151.45,764.76 152.25,766.89 153.05,768.41 153.85,771.07 154.64,771.59 155.44,772.74 156.24,773.66 157.03,775.51 157.83,776.67 158.63,776.86 159.42,775.96 160.22,775.61 161.02,776.76 161.82,778.15 162.61,778.86 163.41,778.55 164.21,778.36 165,777.93 165.8,777.6 166.6,777.75 167.39,778.84 168.19,778.81 168.99,779.01 169.79,777.77 170.58,777.07 171.38,776.48 172.18,776.03 172.97,775.89 173.77,773.75 174.57,772.93 175.36,773.14 176.16,773.25 176.96,772.6 177.76,771.05 178.55,770.8 179.35,770.08 180.15,769.08 180.94,768.1 181.74,768.32 182.54,768.21 183.33,768.72 184.13,768.6 184.93,768.56 185.73,768.3 186.52,767.8 187.32,766.33 188.12,765.65 188.91,766.02 189.71,768.65 190.51,769.74 191.3,770.53 192.1,771.13 192.9,770.9 193.7,770.96 194.49,770.15 195.29,769.49 196.09,769.68 196.88,770.43 197.68,772.44 198.48,773.34 199.27,774.47 200.07,775.42 200.87,775.39 201.67,775.82 202.46,777.15 203.26,779.14 204.06,780.33 204.85,780.49 205.65,780.53 206.45,780.73 207.24,781.15 208.04,782.55 208.84,783.44 209.64,784.97 210.43,785.6 211.23,788.07 212.03,788.69 212.82,790.91 213.62,791.59 214.42,792.88 215.21,793.33 216.01,792.9 216.81,794.28 217.61,795.7 218.4,797.66 219.2,799.11 220,799.01 220.79,799.53 221.59,800.29 222.39,802.86 223.18,805.41 223.98,807.14 224.78,809.32 225.58,811.76 226.37,813.82 227.17,814.82 227.97,816.08 228.76,818.26 229.56,821.48 230.36,821.29 231.15,821.9 231.95,822.09 232.75,824.68 233.55,825.93 234.34,823.59 235.14,822.35 235.94,823.22 236.73,823.55 237.53,823.38 238.33,823.56 239.12,828.7 239.92,829.62 240.72,829.64 241.52,827.35 242.31,829.4 243.11,827.68 243.91,826.14 244.7,824.85 245.5,826.7 246.3,828.32 247.09,828.74 247.89,830.62 248.69,829.64 249.49,830.96 250.28,828.94 251.08,830.5 251.88,829.23 252.67,828.47 253.47,826.1 254.27,827.88 255.06,830.59 255.86,833.47 256.66,834.11 257.46,832.07 258.25,833.55 259.05,832.78 259.85,832.95 260.64,830.79 261.44,830.98 262.24,830.63 263.03,830.57 263.83,833.58 264.63,835.47 265.43,837.51 266.22,835.96 267.02,837.94 267.82,838.72 268.61,838.37 269.41,837.78 270.21,836.62 271,836.66 271.8,839.29 272.6,844.38 273.4,846.25 274.19,848.22 274.99,848.28 275.79,851.04 276.58,849.87 277.38,852.03 278.18,853.03 278.97,860.55 279.77,864.3 280.57,875.02" fill="none" stroke="#fec44f" stroke-width="2.9" stroke-linejoin="round" stroke-linecap="round"/>
</g>
<rect x="72.3" y="622.5" width="230.5" height="230.1" fill="none" stroke="#1c1c1c" stroke-width="1.7"/>
<line x1="104.4" y1="852.6" x2="104.4" y2="848.1" stroke="#1c1c1c" stroke-width="1.5" />
<line x1="104.4" y1="622.5" x2="104.4" y2="627" stroke="#1c1c1c" stroke-width="1.5" />
<text x="104.4" y="880.5" font-size="22" text-anchor="middle" >0</text>
<line x1="184.1" y1="852.6" x2="184.1" y2="848.1" stroke="#1c1c1c" stroke-width="1.5" />
<line x1="184.1" y1="622.5" x2="184.1" y2="627" stroke="#1c1c1c" stroke-width="1.5" />
<text x="184.1" y="880.5" font-size="22" text-anchor="middle" >10</text>
<line x1="263.8" y1="852.6" x2="263.8" y2="848.1" stroke="#1c1c1c" stroke-width="1.5" />
<line x1="263.8" y1="622.5" x2="263.8" y2="627" stroke="#1c1c1c" stroke-width="1.5" />
<text x="263.8" y="880.5" font-size="22" text-anchor="middle" >20</text>
<line x1="72.3" y1="679.1" x2="77.3" y2="679.1" stroke="#1c1c1c" stroke-width="1.5" />
<line x1="302.8" y1="679.1" x2="297.8" y2="679.1" stroke="#1c1c1c" stroke-width="1.5" />
<line x1="72.3" y1="751.7" x2="77.3" y2="751.7" stroke="#1c1c1c" stroke-width="1.5" />
<line x1="302.8" y1="751.7" x2="297.8" y2="751.7" stroke="#1c1c1c" stroke-width="1.5" />
<line x1="72.3" y1="824.3" x2="77.3" y2="824.3" stroke="#1c1c1c" stroke-width="1.5" />
<line x1="302.8" y1="824.3" x2="297.8" y2="824.3" stroke="#1c1c1c" stroke-width="1.5" />
<line x1="72.3" y1="846.15" x2="75.1" y2="846.15" stroke="#1c1c1c" stroke-width="1.1" />
<line x1="302.8" y1="846.15" x2="300" y2="846.15" stroke="#1c1c1c" stroke-width="1.1" />
<line x1="72.3" y1="840.41" x2="75.1" y2="840.41" stroke="#1c1c1c" stroke-width="1.1" />
<line x1="302.8" y1="840.41" x2="300" y2="840.41" stroke="#1c1c1c" stroke-width="1.1" />
<line x1="72.3" y1="835.55" x2="75.1" y2="835.55" stroke="#1c1c1c" stroke-width="1.1" />
<line x1="302.8" y1="835.55" x2="300" y2="835.55" stroke="#1c1c1c" stroke-width="1.1" />
<line x1="72.3" y1="831.34" x2="75.1" y2="831.34" stroke="#1c1c1c" stroke-width="1.1" />
<line x1="302.8" y1="831.34" x2="300" y2="831.34" stroke="#1c1c1c" stroke-width="1.1" />
<line x1="72.3" y1="827.62" x2="75.1" y2="827.62" stroke="#1c1c1c" stroke-width="1.1" />
<line x1="302.8" y1="827.62" x2="300" y2="827.62" stroke="#1c1c1c" stroke-width="1.1" />
<line x1="72.3" y1="802.45" x2="75.1" y2="802.45" stroke="#1c1c1c" stroke-width="1.1" />
<line x1="302.8" y1="802.45" x2="300" y2="802.45" stroke="#1c1c1c" stroke-width="1.1" />
<line x1="72.3" y1="789.66" x2="75.1" y2="789.66" stroke="#1c1c1c" stroke-width="1.1" />
<line x1="302.8" y1="789.66" x2="300" y2="789.66" stroke="#1c1c1c" stroke-width="1.1" />
<line x1="72.3" y1="780.59" x2="75.1" y2="780.59" stroke="#1c1c1c" stroke-width="1.1" />
<line x1="302.8" y1="780.59" x2="300" y2="780.59" stroke="#1c1c1c" stroke-width="1.1" />
<line x1="72.3" y1="773.55" x2="75.1" y2="773.55" stroke="#1c1c1c" stroke-width="1.1" />
<line x1="302.8" y1="773.55" x2="300" y2="773.55" stroke="#1c1c1c" stroke-width="1.1" />
<line x1="72.3" y1="767.81" x2="75.1" y2="767.81" stroke="#1c1c1c" stroke-width="1.1" />
<line x1="302.8" y1="767.81" x2="300" y2="767.81" stroke="#1c1c1c" stroke-width="1.1" />
<line x1="72.3" y1="762.95" x2="75.1" y2="762.95" stroke="#1c1c1c" stroke-width="1.1" />
<line x1="302.8" y1="762.95" x2="300" y2="762.95" stroke="#1c1c1c" stroke-width="1.1" />
<line x1="72.3" y1="758.74" x2="75.1" y2="758.74" stroke="#1c1c1c" stroke-width="1.1" />
<line x1="302.8" y1="758.74" x2="300" y2="758.74" stroke="#1c1c1c" stroke-width="1.1" />
<line x1="72.3" y1="755.02" x2="75.1" y2="755.02" stroke="#1c1c1c" stroke-width="1.1" />
<line x1="302.8" y1="755.02" x2="300" y2="755.02" stroke="#1c1c1c" stroke-width="1.1" />
<line x1="72.3" y1="729.85" x2="75.1" y2="729.85" stroke="#1c1c1c" stroke-width="1.1" />
<line x1="302.8" y1="729.85" x2="300" y2="729.85" stroke="#1c1c1c" stroke-width="1.1" />
<line x1="72.3" y1="717.06" x2="75.1" y2="717.06" stroke="#1c1c1c" stroke-width="1.1" />
<line x1="302.8" y1="717.06" x2="300" y2="717.06" stroke="#1c1c1c" stroke-width="1.1" />
<line x1="72.3" y1="707.99" x2="75.1" y2="707.99" stroke="#1c1c1c" stroke-width="1.1" />
<line x1="302.8" y1="707.99" x2="300" y2="707.99" stroke="#1c1c1c" stroke-width="1.1" />
<line x1="72.3" y1="700.95" x2="75.1" y2="700.95" stroke="#1c1c1c" stroke-width="1.1" />
<line x1="302.8" y1="700.95" x2="300" y2="700.95" stroke="#1c1c1c" stroke-width="1.1" />
<line x1="72.3" y1="695.21" x2="75.1" y2="695.21" stroke="#1c1c1c" stroke-width="1.1" />
<line x1="302.8" y1="695.21" x2="300" y2="695.21" stroke="#1c1c1c" stroke-width="1.1" />
<line x1="72.3" y1="690.35" x2="75.1" y2="690.35" stroke="#1c1c1c" stroke-width="1.1" />
<line x1="302.8" y1="690.35" x2="300" y2="690.35" stroke="#1c1c1c" stroke-width="1.1" />
<line x1="72.3" y1="686.14" x2="75.1" y2="686.14" stroke="#1c1c1c" stroke-width="1.1" />
<line x1="302.8" y1="686.14" x2="300" y2="686.14" stroke="#1c1c1c" stroke-width="1.1" />
<line x1="72.3" y1="682.42" x2="75.1" y2="682.42" stroke="#1c1c1c" stroke-width="1.1" />
<line x1="302.8" y1="682.42" x2="300" y2="682.42" stroke="#1c1c1c" stroke-width="1.1" />
<line x1="72.3" y1="657.25" x2="75.1" y2="657.25" stroke="#1c1c1c" stroke-width="1.1" />
<line x1="302.8" y1="657.25" x2="300" y2="657.25" stroke="#1c1c1c" stroke-width="1.1" />
<line x1="72.3" y1="644.46" x2="75.1" y2="644.46" stroke="#1c1c1c" stroke-width="1.1" />
<line x1="302.8" y1="644.46" x2="300" y2="644.46" stroke="#1c1c1c" stroke-width="1.1" />
<line x1="72.3" y1="635.39" x2="75.1" y2="635.39" stroke="#1c1c1c" stroke-width="1.1" />
<line x1="302.8" y1="635.39" x2="300" y2="635.39" stroke="#1c1c1c" stroke-width="1.1" />
<line x1="72.3" y1="628.35" x2="75.1" y2="628.35" stroke="#1c1c1c" stroke-width="1.1" />
<line x1="302.8" y1="628.35" x2="300" y2="628.35" stroke="#1c1c1c" stroke-width="1.1" />
<line x1="72.3" y1="622.61" x2="75.1" y2="622.61" stroke="#1c1c1c" stroke-width="1.1" />
<line x1="302.8" y1="622.61" x2="300" y2="622.61" stroke="#1c1c1c" stroke-width="1.1" />
<text x="67.3" y="692.1" font-size="22" text-anchor="end">10<tspan font-size="16.5" dy="-10.3">0</tspan></text>
<text x="67.3" y="764.7" font-size="22" text-anchor="end">10<tspan font-size="16.5" dy="-10.3">-1</tspan></text>
<text x="67.3" y="837.3" font-size="22" text-anchor="end">10<tspan font-size="16.5" dy="-10.3">-2</tspan></text>
<rect x="145.8" y="634.3" width="24.6" height="8.9" fill="#a9dcf2" stroke="#4a93cc" stroke-width="0.9"/>
<text x="176.5" y="646.5" font-size="20.6" text-anchor="start" >Meas. noise</text>
<line x1="145.8" y1="667.7" x2="170.4" y2="667.7" stroke="#3b0f0f" stroke-width="2.6" />
<text x="174.6" y="674.8" font-size="19.5">6.25</text>
<text x="222.5" y="674.8" font-size="19.5">μW<tspan dx="4">μm</tspan><tspan font-size="15" dy="-9">-2</tspan></text>
<line x1="227.4" y1="695.2" x2="251.2" y2="695.2" stroke="#6d2008" stroke-width="2.6" />
<text x="256.2" y="702.7" font-size="19.5" text-anchor="start" >12.5</text>
<line x1="227.4" y1="720" x2="251.2" y2="720" stroke="#b23e0c" stroke-width="2.6" />
<text x="256.2" y="727.5" font-size="19.5" text-anchor="start" >25</text>
<line x1="227.4" y1="744.8" x2="251.2" y2="744.8" stroke="#fb5e0c" stroke-width="2.6" />
<text x="256.2" y="752.3" font-size="19.5" text-anchor="start" >37.5</text>
<line x1="227.4" y1="769.6" x2="251.2" y2="769.6" stroke="#fd9336" stroke-width="2.6" />
<text x="256.2" y="777.1" font-size="19.5" text-anchor="start" >50</text>
<line x1="227.4" y1="794.4" x2="251.2" y2="794.4" stroke="#fec44f" stroke-width="2.6" />
<text x="256.2" y="801.9" font-size="19.5" text-anchor="start" >62.5</text>
<g clip-path="url(#clipD)">
<polyline points="430,833.56 430.88,833.72 431.76,833.44 432.65,832.65 433.53,833.6 434.41,833.34 435.29,832.84 436.18,833.29 437.06,833.14 437.94,833.06 438.82,832.88 439.71,833.06 440.59,832.43 441.47,832.64 442.35,832.44 443.24,832.88 444.12,832.57 445,832.37 445.88,831.97 446.76,832.03 447.65,831.97 448.53,831.67 449.41,832.2 450.29,831.79 451.18,829.64 452.06,829.54 452.94,829.83 453.82,829.41 454.71,830.45 455.59,831.2 456.47,832.8 457.35,831.79 458.24,832.08 459.12,833.14 460,832.48 460.88,832.45 461.76,831.89 462.65,831.35 463.53,832.13 464.41,832.07 465.29,831.39 466.18,831.46 467.06,831.56 467.94,830.99 468.82,831.19 469.71,831.1 470.59,831.12 471.47,831.04 472.35,831.69 473.24,831.98 474.12,831.88 475,831.53 475.88,832.38 476.77,831.98 477.65,832.76 478.53,832.04 479.41,833.1 480.29,832.74 481.18,832.25 482.06,832.73 482.94,832.95 483.82,833.11 484.71,832.6 485.59,832.6 486.47,833.25 487.35,833.01 488.24,833.38 489.12,833.68 490,832.65 490.88,833.57 491.77,834.06 492.65,833.44 493.53,833.26 494.41,834.02 495.29,833.86 496.18,834.21 497.06,833.71 497.94,833.25 498.82,833.93 499.71,833.84 500.59,834.44 501.47,834.24 502.35,833.48 503.24,833.73 504.12,834.73 505,834.69 505.88,834.16 506.77,834.5 507.65,834.76 508.53,834.83 509.41,835.07 510.29,834.85 511.18,834.75 512.06,834.74 512.94,835.39 513.82,833.96 514.71,834.97 515.59,835.1 516.47,834.5 517.35,835.35 518.24,834.97 519.12,835.71 520,835.32 520.88,835.74 521.77,836.04 522.65,835.73 523.53,835.22 524.41,834.99 525.29,836.52 526.18,835.74 527.06,835.54 527.94,835.97 528.82,835.88 529.71,836.4 530.59,836.09 531.47,836.15 532.35,835.88 533.24,836.47 534.12,835.85 535,836.68 535.88,837.12 536.77,835.81 537.65,835.45 538.53,836.9 539.41,837.83 540.29,836.29 541.18,836.24 542.06,837.12 542.94,836.54 543.82,836.75 544.71,836.88 545.59,837.34 546.47,836.98 547.35,837.34 548.24,837.2 549.12,836.96 550,837.25 550.88,837.03 551.77,837.52 552.65,837.07 553.53,837.15 554.41,838.35 555.3,837.73 556.18,837.79 557.06,838.11 557.94,837.75 558.82,837.89 559.71,838.25 560.59,838.24 561.47,837.66 562.35,838.61 563.24,838.03 564.12,837.88 565,838.01 565.88,838.3 566.77,839.27 567.65,838.07 568.53,838.73 569.41,837.76 570.3,838.78 571.18,839.24 572.06,838.79 572.94,838.67 573.82,839.12 574.71,839.39 575.59,839.44 576.47,840.08 577.35,839.35 578.24,839.05 579.12,839.32 580,839.4 580.88,839.55 581.77,839.54 582.65,839.7 583.53,838.96 584.41,840.17 585.3,839.63 586.18,839.45 587.06,840.35 587.94,840.74 588.82,840.46 589.71,840.4 590.59,839.99 591.47,841.79 592.35,840.98 593.24,840.16 594.12,840.41 595,840.89 595.88,840.24 596.77,841.1 597.65,840.9 598.53,841.75 599.41,841.72 600.3,840.15 601.18,841.48 602.06,840.82 602.94,842.14 603.82,841.8 604.71,842.06 605.59,841.42 606.47,842.81 607.35,842.98 608.24,841.68 609.12,842.42 610,842.03 610.88,842.41 611.77,841.94 612.65,843.44 613.53,842.25 614.41,842.64 615.3,843.09 616.18,842.66 617.06,842.94 617.94,842.92 618.83,843.24 619.71,842.9 620.59,843.35 621.47,843.58 622.35,843.65 623.24,843.95 624.12,843.92 625,844.51 625.88,844.16 626.77,844.36 627.65,844.25 628.53,844.44 629.41,844.23 630.3,845.16 631.18,844.54 632.06,844.84 632.94,845.46 633.83,845.61 634.71,845.37 635.59,844.77 636.47,845.99 637.35,846.04 638.24,845.42 639.12,846.52 640,845.99 640.88,845.91 641.77,846.53 642.65,846.48 643.53,846.73 644.41,845.99 645.3,847.6 646.18,846.58 647.06,846.23 647.94,847.28 648.83,846.91 649.71,847.29 650.59,847.07 651.47,847.27 652.35,847.48 653.24,847.1 654.12,847.82 655,847.37 655.88,847.27 656.77,847.77 657.65,848.01 658.53,847.78" fill="none" stroke="#3b0f0f" stroke-width="4.2" stroke-linejoin="round" />
<polyline points="430,785.77 430.88,785.68 431.76,785.87 432.65,785.32 433.53,786.96 434.41,786.89 435.29,786.54 436.18,787.08 437.06,787.07 437.94,786.93 438.82,787.63 439.71,787.33 440.59,787.49 441.47,787.48 442.35,788.08 443.24,788.04 444.12,788.43 445,788.18 445.88,788.6 446.76,788.4 447.65,789.16 448.53,789.09 449.41,789.3 450.29,789.49 451.18,789.15 452.06,789.94 452.94,790.54 453.82,789.4 454.71,789.53 455.59,789.77 456.47,790.75 457.35,790.66 458.24,791.15 459.12,791.18 460,791.16 460.88,791.34 461.76,791.34 462.65,791.87 463.53,791.35 464.41,791.78 465.29,792.19 466.18,792.91 467.06,792.19 467.94,792.26 468.82,792.62 469.71,793.33 470.59,793.09 471.47,793.81 472.35,792.87 473.24,794.09 474.12,794.24 475,793.56 475.88,794.29 476.77,794.84 477.65,794.62 478.53,795.11 479.41,795.77 480.29,795.22 481.18,795.2 482.06,795.21 482.94,795.88 483.82,795.76 484.71,795.94 485.59,796.15 486.47,796.59 487.35,796.17 488.24,796.18 489.12,796.04 490,797.49 490.88,797.28 491.77,797.96 492.65,797.6 493.53,797.52 494.41,798.13 495.29,798.11 496.18,797.88 497.06,798.19 497.94,799.32 498.82,799.03 499.71,799.25 500.59,799.21 501.47,799.27 502.35,800.02 503.24,799.88 504.12,799.85 505,800.27 505.88,800.2 506.77,800.78 507.65,801.31 508.53,800.95 509.41,802.14 510.29,801.81 511.18,802.5 512.06,802.56 512.94,803.18 513.82,803.68 514.71,803.91 515.59,804.22 516.47,804.63 517.35,805.03 518.24,805.43 519.12,806.55 520,807.45 520.88,808.29 521.77,808.86 522.65,810.16 523.53,810.07 524.41,810.46 525.29,811.94 526.18,811.58 527.06,812.95 527.94,812.94 528.82,814.06 529.71,813.91 530.59,815.58 531.47,815.67 532.35,815.74 533.24,817.02 534.12,817.06 535,817.16 535.88,817.24 536.77,817.84 537.65,818.15 538.53,818.81 539.41,819.19 540.29,819.04 541.18,819.43 542.06,819.79 542.94,819.86 543.82,820.48 544.71,821.01 545.59,821.63 546.47,822.21 547.35,821.82 548.24,822.62 549.12,822.42 550,823.46 550.88,822.87 551.77,823.22 552.65,822.87 553.53,823.07 554.41,823.58 555.3,823.54 556.18,823.95 557.06,823.43 557.94,824.37 558.82,823.98 559.71,825.05 560.59,824.3 561.47,824.64 562.35,823.61 563.24,824.1 564.12,823.49 565,823.48 565.88,823.51 566.77,823.25 567.65,823.93 568.53,824.96 569.41,825.79 570.3,826.4 571.18,826.82 572.06,827.76 572.94,828.2 573.82,827.76 574.71,828.99 575.59,828.87 576.47,829.09 577.35,829.74 578.24,829.87 579.12,829.95 580,829.75 580.88,830.43 581.77,830.67 582.65,830.47 583.53,831.37 584.41,831.42 585.3,830.78 586.18,831.74 587.06,831.36 587.94,832.31 588.82,832.3 589.71,831.74 590.59,831.93 591.47,832.38 592.35,832.37 593.24,833.09 594.12,832.93 595,832.68 595.88,833.09 596.77,832.28 597.65,833.21 598.53,833.51 599.41,833.25 600.3,833.18 601.18,833.73 602.06,834.33 602.94,833.82 603.82,833.46 604.71,834.47 605.59,833.42 606.47,834.36 607.35,834.09 608.24,834.72 609.12,834.21 610,835.08 610.88,834.83 611.77,834.22 612.65,834.25 613.53,834.93 614.41,835.61 615.3,834.88 616.18,834.21 617.06,833.45 617.94,835.32 618.83,836.83 619.71,838.43 620.59,839.63 621.47,842.02 622.35,842.99 623.24,842.28 624.12,843.77 625,843.44 625.88,843.24 626.77,842.96 627.65,844.08 628.53,844.27 629.41,844.09 630.3,843.89 631.18,845.14 632.06,845 632.94,845.58 633.83,847.29 634.71,847.58 635.59,847.71 636.47,847.76 637.35,848.69 638.24,848.2 639.12,849.58 640,849.82 640.88,850.18 641.77,850.21 642.65,851.03 643.53,850.95 644.41,851.05 645.3,851.37 646.18,850.85 647.06,850.79 647.94,850.68 648.83,851.26 649.71,851.72 650.59,851.48 651.47,851.83 652.35,851.27 653.24,851.6 654.12,851.57 655,851.48 655.88,852.64 656.77,852.3 657.65,851.73 658.53,851.73" fill="none" stroke="#b23e0c" stroke-width="4.2" stroke-linejoin="round" />
<polyline points="430,643.81 430.88,642.7 431.76,643.48 432.65,643.27 433.53,643.34 434.41,643.44 435.29,643.02 436.18,643.51 437.06,643.39 437.94,644.47 438.82,643.74 439.71,643.63 440.59,643.69 441.47,643.63 442.35,643.57 443.24,643.78 444.12,644.03 445,643.89 445.88,644.23 446.76,643.98 447.65,644.07 448.53,644.49 449.41,644.28 450.29,644.05 451.18,644.17 452.06,644.39 452.94,644.78 453.82,644.27 454.71,644.31 455.59,644.66 456.47,644.23 457.35,644.41 458.24,644.74 459.12,644.71 460,644.62 460.88,644.81 461.76,643.97 462.65,644.98 463.53,644.56 464.41,644.45 465.29,645 466.18,645.18 467.06,644.96 467.94,644.87 468.82,645.22 469.71,645.27 470.59,645.7 471.47,645.61 472.35,645.54 473.24,645.84 474.12,645.58 475,645.47 475.88,645.92 476.77,645.98 477.65,645.85 478.53,645.78 479.41,646.1 480.29,645.49 481.18,646.36 482.06,646.38 482.94,645.92 483.82,646.41 484.71,646.22 485.59,646.72 486.47,646.09 487.35,646.44 488.24,646.92 489.12,647.1 490,646.34 490.88,646.83 491.77,647.1 492.65,646.94 493.53,647.56 494.41,646.93 495.29,647.39 496.18,647.1 497.06,647.82 497.94,647.6 498.82,647.64 499.71,647.44 500.59,648.43 501.47,648.33 502.35,648.46 503.24,648.69 504.12,648.63 505,648.51 505.88,648.61 506.77,648.74 507.65,649.42 508.53,648.84 509.41,649.19 510.29,649.4 511.18,649.67 512.06,649.89 512.94,649.57 513.82,649.58 514.71,650.14 515.59,650.58 516.47,650.6 517.35,650.6 518.24,650.6 519.12,650.89 520,650.89 520.88,651.29 521.77,651.02 522.65,651.38 523.53,651.46 524.41,651.75 525.29,651.81 526.18,652.52 527.06,652.39 527.94,652.53 528.82,651.78 529.71,652.33 530.59,652.4 531.47,652.9 532.35,652.46 533.24,653.59 534.12,653.82 535,653.49 535.88,653.83 536.77,654.14 537.65,654.61 538.53,655.02 539.41,655.64 540.29,655.34 541.18,655.84 542.06,655.95 542.94,656.61 543.82,656.62 544.71,657.04 545.59,656.69 546.47,657.17 547.35,657.28 548.24,658.13 549.12,658.28 550,658.39 550.88,658.71 551.77,659.3 552.65,659.36 553.53,659.66 554.41,660.37 555.3,661.22 556.18,660.9 557.06,661.18 557.94,661.38 558.82,661.69 559.71,662.51 560.59,662.95 561.47,663.1 562.35,663.53 563.24,663.84 564.12,664.2 565,664.14 565.88,664.98 566.77,665.75 567.65,666.16 568.53,666.87 569.41,667.42 570.3,668.18 571.18,669.11 572.06,669.43 572.94,670.12 573.82,671 574.71,671.59 575.59,672.51 576.47,672.43 577.35,674.03 578.24,674.56 579.12,675.58 580,676.63 580.88,677.55 581.77,678.41 582.65,679.05 583.53,680.28 584.41,680.68 585.3,681.58 586.18,682.68 587.06,683.76 587.94,685.88 588.82,687.03 589.71,688.76 590.59,689.65 591.47,691 592.35,692.57 593.24,694.16 594.12,695.26 595,696.94 595.88,698.28 596.77,700.13 597.65,701 598.53,703.13 599.41,704.7 600.3,706.61 601.18,708.66 602.06,710.52 602.94,712.85 603.82,715.05 604.71,716.82 605.59,718.93 606.47,721.17 607.35,722.81 608.24,725.45 609.12,728.25 610,730.84 610.88,734.34 611.77,736.63 612.65,740.15 613.53,742.9 614.41,746.1 615.3,748.1 616.18,749.71 617.06,751.81 617.94,753.38 618.83,755.28 619.71,756.89 620.59,757.62 621.47,758.38 622.35,758.99 623.24,759.92 624.12,760.2 625,761.47 625.88,761.98 626.77,763.33 627.65,764.14 628.53,764.1 629.41,765.66 630.3,766.91 631.18,768.01 632.06,770.04 632.94,771.55 633.83,772.97 634.71,775.1 635.59,776.88 636.47,778.7 637.35,780.12 638.24,782.33 639.12,784.47 640,786.36 640.88,788.85 641.77,791.35 642.65,793.59 643.53,796.53 644.41,798.51 645.3,800.57 646.18,802.97 647.06,805.49 647.94,808.42 648.83,810.15 649.71,812.56 650.59,815 651.47,817.2 652.35,820.12 653.24,825.04 654.12,836.3 655,847.08 655.88,852.65 656.77,852.71 657.65,853.44 658.53,852.97" fill="none" stroke="#fec44f" stroke-width="4.2" stroke-linejoin="round" />
</g>
<rect x="430.0" y="623.0" width="229.6" height="229.4" fill="none" stroke="#1c1c1c" stroke-width="1.7"/>
<text x="429" y="885.8" font-size="22" text-anchor="middle">10<tspan font-size="16.5" dy="-10">0</tspan></text>
<line x1="479.9" y1="852.4" x2="479.9" y2="847.4" stroke="#1c1c1c" stroke-width="1.5" />
<line x1="479.9" y1="623" x2="479.9" y2="628" stroke="#1c1c1c" stroke-width="1.5" />
<text x="478.9" y="885.8" font-size="22" text-anchor="middle">10<tspan font-size="16.5" dy="-10">1</tspan></text>
<line x1="529.8" y1="852.4" x2="529.8" y2="847.4" stroke="#1c1c1c" stroke-width="1.5" />
<line x1="529.8" y1="623" x2="529.8" y2="628" stroke="#1c1c1c" stroke-width="1.5" />
<text x="528.8" y="885.8" font-size="22" text-anchor="middle">10<tspan font-size="16.5" dy="-10">2</tspan></text>
<line x1="579.7" y1="852.4" x2="579.7" y2="847.4" stroke="#1c1c1c" stroke-width="1.5" />
<line x1="579.7" y1="623" x2="579.7" y2="628" stroke="#1c1c1c" stroke-width="1.5" />
<text x="578.7" y="885.8" font-size="22" text-anchor="middle">10<tspan font-size="16.5" dy="-10">3</tspan></text>
<line x1="629.6" y1="852.4" x2="629.6" y2="847.4" stroke="#1c1c1c" stroke-width="1.5" />
<line x1="629.6" y1="623" x2="629.6" y2="628" stroke="#1c1c1c" stroke-width="1.5" />
<text x="628.6" y="885.8" font-size="22" text-anchor="middle">10<tspan font-size="16.5" dy="-10">4</tspan></text>
<line x1="445.02" y1="852.4" x2="445.02" y2="849.6" stroke="#1c1c1c" stroke-width="1.1" />
<line x1="445.02" y1="623" x2="445.02" y2="625.8" stroke="#1c1c1c" stroke-width="1.1" />
<line x1="453.81" y1="852.4" x2="453.81" y2="849.6" stroke="#1c1c1c" stroke-width="1.1" />
<line x1="453.81" y1="623" x2="453.81" y2="625.8" stroke="#1c1c1c" stroke-width="1.1" />
<line x1="460.04" y1="852.4" x2="460.04" y2="849.6" stroke="#1c1c1c" stroke-width="1.1" />
<line x1="460.04" y1="623" x2="460.04" y2="625.8" stroke="#1c1c1c" stroke-width="1.1" />
<line x1="464.88" y1="852.4" x2="464.88" y2="849.6" stroke="#1c1c1c" stroke-width="1.1" />
<line x1="464.88" y1="623" x2="464.88" y2="625.8" stroke="#1c1c1c" stroke-width="1.1" />
<line x1="468.83" y1="852.4" x2="468.83" y2="849.6" stroke="#1c1c1c" stroke-width="1.1" />
<line x1="468.83" y1="623" x2="468.83" y2="625.8" stroke="#1c1c1c" stroke-width="1.1" />
<line x1="472.17" y1="852.4" x2="472.17" y2="849.6" stroke="#1c1c1c" stroke-width="1.1" />
<line x1="472.17" y1="623" x2="472.17" y2="625.8" stroke="#1c1c1c" stroke-width="1.1" />
<line x1="475.06" y1="852.4" x2="475.06" y2="849.6" stroke="#1c1c1c" stroke-width="1.1" />
<line x1="475.06" y1="623" x2="475.06" y2="625.8" stroke="#1c1c1c" stroke-width="1.1" />
<line x1="477.62" y1="852.4" x2="477.62" y2="849.6" stroke="#1c1c1c" stroke-width="1.1" />
<line x1="477.62" y1="623" x2="477.62" y2="625.8" stroke="#1c1c1c" stroke-width="1.1" />
<line x1="494.92" y1="852.4" x2="494.92" y2="849.6" stroke="#1c1c1c" stroke-width="1.1" />
<line x1="494.92" y1="623" x2="494.92" y2="625.8" stroke="#1c1c1c" stroke-width="1.1" />
<line x1="503.71" y1="852.4" x2="503.71" y2="849.6" stroke="#1c1c1c" stroke-width="1.1" />
<line x1="503.71" y1="623" x2="503.71" y2="625.8" stroke="#1c1c1c" stroke-width="1.1" />
<line x1="509.94" y1="852.4" x2="509.94" y2="849.6" stroke="#1c1c1c" stroke-width="1.1" />
<line x1="509.94" y1="623" x2="509.94" y2="625.8" stroke="#1c1c1c" stroke-width="1.1" />
<line x1="514.78" y1="852.4" x2="514.78" y2="849.6" stroke="#1c1c1c" stroke-width="1.1" />
<line x1="514.78" y1="623" x2="514.78" y2="625.8" stroke="#1c1c1c" stroke-width="1.1" />
<line x1="518.73" y1="852.4" x2="518.73" y2="849.6" stroke="#1c1c1c" stroke-width="1.1" />
<line x1="518.73" y1="623" x2="518.73" y2="625.8" stroke="#1c1c1c" stroke-width="1.1" />
<line x1="522.07" y1="852.4" x2="522.07" y2="849.6" stroke="#1c1c1c" stroke-width="1.1" />
<line x1="522.07" y1="623" x2="522.07" y2="625.8" stroke="#1c1c1c" stroke-width="1.1" />
<line x1="524.96" y1="852.4" x2="524.96" y2="849.6" stroke="#1c1c1c" stroke-width="1.1" />
<line x1="524.96" y1="623" x2="524.96" y2="625.8" stroke="#1c1c1c" stroke-width="1.1" />
<line x1="527.52" y1="852.4" x2="527.52" y2="849.6" stroke="#1c1c1c" stroke-width="1.1" />
<line x1="527.52" y1="623" x2="527.52" y2="625.8" stroke="#1c1c1c" stroke-width="1.1" />
<line x1="544.82" y1="852.4" x2="544.82" y2="849.6" stroke="#1c1c1c" stroke-width="1.1" />
<line x1="544.82" y1="623" x2="544.82" y2="625.8" stroke="#1c1c1c" stroke-width="1.1" />
<line x1="553.61" y1="852.4" x2="553.61" y2="849.6" stroke="#1c1c1c" stroke-width="1.1" />
<line x1="553.61" y1="623" x2="553.61" y2="625.8" stroke="#1c1c1c" stroke-width="1.1" />
<line x1="559.84" y1="852.4" x2="559.84" y2="849.6" stroke="#1c1c1c" stroke-width="1.1" />
<line x1="559.84" y1="623" x2="559.84" y2="625.8" stroke="#1c1c1c" stroke-width="1.1" />
<line x1="564.68" y1="852.4" x2="564.68" y2="849.6" stroke="#1c1c1c" stroke-width="1.1" />
<line x1="564.68" y1="623" x2="564.68" y2="625.8" stroke="#1c1c1c" stroke-width="1.1" />
<line x1="568.63" y1="852.4" x2="568.63" y2="849.6" stroke="#1c1c1c" stroke-width="1.1" />
<line x1="568.63" y1="623" x2="568.63" y2="625.8" stroke="#1c1c1c" stroke-width="1.1" />
<line x1="571.97" y1="852.4" x2="571.97" y2="849.6" stroke="#1c1c1c" stroke-width="1.1" />
<line x1="571.97" y1="623" x2="571.97" y2="625.8" stroke="#1c1c1c" stroke-width="1.1" />
<line x1="574.86" y1="852.4" x2="574.86" y2="849.6" stroke="#1c1c1c" stroke-width="1.1" />
<line x1="574.86" y1="623" x2="574.86" y2="625.8" stroke="#1c1c1c" stroke-width="1.1" />
<line x1="577.42" y1="852.4" x2="577.42" y2="849.6" stroke="#1c1c1c" stroke-width="1.1" />
<line x1="577.42" y1="623" x2="577.42" y2="625.8" stroke="#1c1c1c" stroke-width="1.1" />
<line x1="594.72" y1="852.4" x2="594.72" y2="849.6" stroke="#1c1c1c" stroke-width="1.1" />
<line x1="594.72" y1="623" x2="594.72" y2="625.8" stroke="#1c1c1c" stroke-width="1.1" />
<line x1="603.51" y1="852.4" x2="603.51" y2="849.6" stroke="#1c1c1c" stroke-width="1.1" />
<line x1="603.51" y1="623" x2="603.51" y2="625.8" stroke="#1c1c1c" stroke-width="1.1" />
<line x1="609.74" y1="852.4" x2="609.74" y2="849.6" stroke="#1c1c1c" stroke-width="1.1" />
<line x1="609.74" y1="623" x2="609.74" y2="625.8" stroke="#1c1c1c" stroke-width="1.1" />
<line x1="614.58" y1="852.4" x2="614.58" y2="849.6" stroke="#1c1c1c" stroke-width="1.1" />
<line x1="614.58" y1="623" x2="614.58" y2="625.8" stroke="#1c1c1c" stroke-width="1.1" />
<line x1="618.53" y1="852.4" x2="618.53" y2="849.6" stroke="#1c1c1c" stroke-width="1.1" />
<line x1="618.53" y1="623" x2="618.53" y2="625.8" stroke="#1c1c1c" stroke-width="1.1" />
<line x1="621.87" y1="852.4" x2="621.87" y2="849.6" stroke="#1c1c1c" stroke-width="1.1" />
<line x1="621.87" y1="623" x2="621.87" y2="625.8" stroke="#1c1c1c" stroke-width="1.1" />
<line x1="624.76" y1="852.4" x2="624.76" y2="849.6" stroke="#1c1c1c" stroke-width="1.1" />
<line x1="624.76" y1="623" x2="624.76" y2="625.8" stroke="#1c1c1c" stroke-width="1.1" />
<line x1="627.32" y1="852.4" x2="627.32" y2="849.6" stroke="#1c1c1c" stroke-width="1.1" />
<line x1="627.32" y1="623" x2="627.32" y2="625.8" stroke="#1c1c1c" stroke-width="1.1" />
<line x1="644.62" y1="852.4" x2="644.62" y2="849.6" stroke="#1c1c1c" stroke-width="1.1" />
<line x1="644.62" y1="623" x2="644.62" y2="625.8" stroke="#1c1c1c" stroke-width="1.1" />
<line x1="653.41" y1="852.4" x2="653.41" y2="849.6" stroke="#1c1c1c" stroke-width="1.1" />
<line x1="653.41" y1="623" x2="653.41" y2="625.8" stroke="#1c1c1c" stroke-width="1.1" />
<text x="424.5" y="860.4" font-size="22" text-anchor="end" >0</text>
<line x1="430" y1="795.05" x2="435" y2="795.05" stroke="#1c1c1c" stroke-width="1.5" />
<line x1="659.6" y1="795.05" x2="654.6" y2="795.05" stroke="#1c1c1c" stroke-width="1.5" />
<text x="424.5" y="803.05" font-size="22" text-anchor="end" >0.05</text>
<line x1="430" y1="737.7" x2="435" y2="737.7" stroke="#1c1c1c" stroke-width="1.5" />
<line x1="659.6" y1="737.7" x2="654.6" y2="737.7" stroke="#1c1c1c" stroke-width="1.5" />
<text x="424.5" y="745.7" font-size="22" text-anchor="end" >0.1</text>
<line x1="430" y1="680.35" x2="435" y2="680.35" stroke="#1c1c1c" stroke-width="1.5" />
<line x1="659.6" y1="680.35" x2="654.6" y2="680.35" stroke="#1c1c1c" stroke-width="1.5" />
<text x="424.5" y="688.35" font-size="22" text-anchor="end" >0.15</text>
<text x="424.5" y="631" font-size="22" text-anchor="end" >0.2</text>
<text x="541.4" y="915.7" font-size="22" text-anchor="middle" >Lag time (ms)</text>
<text x="652.7" y="652.6" font-size="21.5" text-anchor="end" >295 K</text>
<line x1="436.6" y1="702.3" x2="462.3" y2="702.3" stroke="#3b0f0f" stroke-width="4" />
<text x="466.4" y="709.6" font-size="19.5" text-anchor="start" >6.25</text>
<line x1="436.6" y1="731.5" x2="462.3" y2="731.5" stroke="#b23e0c" stroke-width="4" />
<text x="466.4" y="738.8" font-size="19.5" text-anchor="start" >25</text>
<line x1="436.6" y1="758.9" x2="462.3" y2="758.9" stroke="#fec44f" stroke-width="4" />
<text x="466.4" y="766.2" font-size="19.5">62.5 <tspan dx="3">μW μm</tspan><tspan font-size="15" dy="-9">-2</tspan></text>
<text x="4.5" y="17.5" font-size="33.5" text-anchor="start" font-weight="bold">a</text>
<text x="4.5" y="324.4" font-size="33.5" text-anchor="start" font-weight="bold">b</text>
<text x="4.5" y="627" font-size="33.5" text-anchor="start" font-weight="bold">c</text>
<text x="341.5" y="625.8" font-size="33.5" text-anchor="start" font-weight="bold">d</text>
<text transform="translate(24.8,126.5) rotate(-90)" font-size="22.00" text-anchor="middle"><tspan font-style="italic">I</tspan><tspan font-size="17.50" dy="11.60" dx="0.50">PL</tspan><tspan dy="-11.60" dx="6.00" font-size="27.50">(</tspan><tspan dx="1.50">cts μW</tspan><tspan font-size="17.00" dy="-11.50">-1</tspan><tspan dy="11.50" dx="3.50">μm</tspan><tspan font-size="17.00" dy="-11.50">-2</tspan><tspan dy="11.50" dx="2.00" font-size="27.50">)</tspan></text>
<text transform="translate(31.1,427.4) rotate(-90)" font-size="22.00" text-anchor="middle"><tspan font-style="italic">I</tspan><tspan font-size="17.50" dy="11.60" dx="0.50">PL</tspan><tspan dy="-11.60" dx="6.00" font-size="27.50">(</tspan><tspan dx="1.50">cts μW</tspan><tspan font-size="17.00" dy="-11.50">-1</tspan><tspan dy="11.50" dx="3.50">μm</tspan><tspan font-size="17.00" dy="-11.50">-2</tspan><tspan dy="11.50" dx="2.00" font-size="27.50">)</tspan></text>
<text transform="translate(378.3,86) rotate(-90)" font-size="15.40" text-anchor="middle"><tspan font-style="italic">I</tspan><tspan font-size="12.25" dy="8.12" dx="0.35">PL</tspan><tspan dy="-8.12" dx="4.20" font-size="19.25">(</tspan><tspan dx="1.05">cts μW</tspan><tspan font-size="11.90" dy="-8.05">-1</tspan><tspan dy="8.05" dx="2.45">μm</tspan><tspan font-size="11.90" dy="-8.05">-2</tspan><tspan dy="8.05" dx="1.40" font-size="19.25">)</tspan></text>
<text transform="translate(19.5,743.7) rotate(-90)" font-size="22" text-anchor="middle">Norm. PDF</text>
<text transform="translate(373,733.5) rotate(-90)" font-size="22" text-anchor="middle"><tspan font-style="italic">g</tspan><tspan font-size="17" dy="-11" dx="0.5">(2)</tspan><tspan dy="11" dx="0.5" font-size="25">(</tspan><tspan font-family="Liberation Serif" font-style="italic" font-size="26">τ</tspan><tspan font-size="25">)</tspan> - 1</text>
<text x="146" y="911.8" font-size="23"><tspan font-family="Liberation Serif" font-style="italic">δI</tspan><tspan font-size="20" dy="11.5">PL</tspan><tspan dy="-11.5" dx="2.5">/</tspan><tspan dx="5" font-size="25" font-family="Liberation Serif" font-style="italic">σ</tspan></text>
</svg>
</body></html>
